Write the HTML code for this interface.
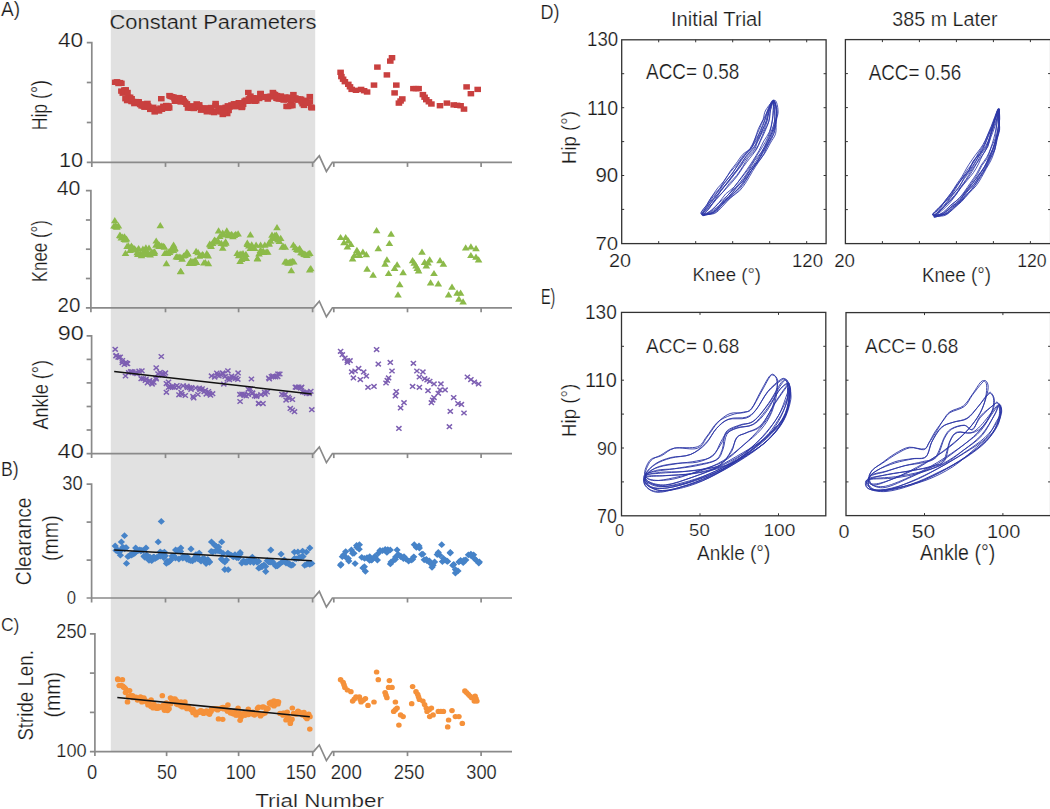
<!DOCTYPE html><html><head><meta charset="utf-8"><style>html,body{margin:0;padding:0;background:#fff;}svg{display:block;}</style></head><body>
<svg width="1050" height="809" viewBox="0 0 1050 809" style="font-family:'Liberation Sans', sans-serif">
<rect width="1050" height="809" fill="#fff"/>
<rect x="110.8" y="10" width="204.4" height="741.6" fill="#e1e1e1"/>
<path d="M86.8,42.6H91.8V166.9" fill="none" stroke="#8a8a8a" stroke-width="1.7"/>
<path d="M86.8,82.5H91.8" stroke="#8a8a8a" stroke-width="1.7"/>
<path d="M86.8,122.5H91.8" stroke="#8a8a8a" stroke-width="1.7"/>
<path d="M86.8,162.4H313.6L319.3,155.8L326.4,171.4L332.4,162.4H512" fill="none" stroke="#8a8a8a" stroke-width="1.7" stroke-linejoin="miter"/>
<path d="M165.5,162.4V166.9" stroke="#8a8a8a" stroke-width="1.7"/>
<path d="M238.6,162.4V166.9" stroke="#8a8a8a" stroke-width="1.7"/>
<path d="M312.6,162.4V166.9" stroke="#8a8a8a" stroke-width="1.7"/>
<path d="M333.8,162.4V166.9" stroke="#8a8a8a" stroke-width="1.7"/>
<path d="M407.5,162.4V166.9" stroke="#8a8a8a" stroke-width="1.7"/>
<path d="M481.1,162.4V166.9" stroke="#8a8a8a" stroke-width="1.7"/>
<path d="M85.9,190.7H90.9V312.3" fill="none" stroke="#8a8a8a" stroke-width="1.7"/>
<path d="M85.9,220.0H90.9" stroke="#8a8a8a" stroke-width="1.7"/>
<path d="M85.9,249.2H90.9" stroke="#8a8a8a" stroke-width="1.7"/>
<path d="M85.9,278.5H90.9" stroke="#8a8a8a" stroke-width="1.7"/>
<path d="M85.9,307.8H313.6L319.3,301.2L326.4,316.8L332.4,307.8H512" fill="none" stroke="#8a8a8a" stroke-width="1.7" stroke-linejoin="miter"/>
<path d="M165.5,307.8V312.3" stroke="#8a8a8a" stroke-width="1.7"/>
<path d="M238.6,307.8V312.3" stroke="#8a8a8a" stroke-width="1.7"/>
<path d="M312.6,307.8V312.3" stroke="#8a8a8a" stroke-width="1.7"/>
<path d="M333.8,307.8V312.3" stroke="#8a8a8a" stroke-width="1.7"/>
<path d="M407.5,307.8V312.3" stroke="#8a8a8a" stroke-width="1.7"/>
<path d="M481.1,307.8V312.3" stroke="#8a8a8a" stroke-width="1.7"/>
<path d="M86.6,335.8H91.6V458.1" fill="none" stroke="#8a8a8a" stroke-width="1.7"/>
<path d="M86.6,359.4H91.6" stroke="#8a8a8a" stroke-width="1.7"/>
<path d="M86.6,382.9H91.6" stroke="#8a8a8a" stroke-width="1.7"/>
<path d="M86.6,406.5H91.6" stroke="#8a8a8a" stroke-width="1.7"/>
<path d="M86.6,430.0H91.6" stroke="#8a8a8a" stroke-width="1.7"/>
<path d="M86.6,453.6H313.6L319.3,447.0L326.4,462.6L332.4,453.6H512" fill="none" stroke="#8a8a8a" stroke-width="1.7" stroke-linejoin="miter"/>
<path d="M165.5,453.6V458.1" stroke="#8a8a8a" stroke-width="1.7"/>
<path d="M238.6,453.6V458.1" stroke="#8a8a8a" stroke-width="1.7"/>
<path d="M312.6,453.6V458.1" stroke="#8a8a8a" stroke-width="1.7"/>
<path d="M333.8,453.6V458.1" stroke="#8a8a8a" stroke-width="1.7"/>
<path d="M407.5,453.6V458.1" stroke="#8a8a8a" stroke-width="1.7"/>
<path d="M481.1,453.6V458.1" stroke="#8a8a8a" stroke-width="1.7"/>
<path d="M86.6,484.2H91.6V602.5" fill="none" stroke="#8a8a8a" stroke-width="1.7"/>
<path d="M86.6,522.1H91.6" stroke="#8a8a8a" stroke-width="1.7"/>
<path d="M86.6,560.1H91.6" stroke="#8a8a8a" stroke-width="1.7"/>
<path d="M86.6,598.0H313.6L319.3,591.4L326.4,607.0L332.4,598.0H512" fill="none" stroke="#8a8a8a" stroke-width="1.7" stroke-linejoin="miter"/>
<path d="M165.5,598.0V602.5" stroke="#8a8a8a" stroke-width="1.7"/>
<path d="M238.6,598.0V602.5" stroke="#8a8a8a" stroke-width="1.7"/>
<path d="M312.6,598.0V602.5" stroke="#8a8a8a" stroke-width="1.7"/>
<path d="M333.8,598.0V602.5" stroke="#8a8a8a" stroke-width="1.7"/>
<path d="M407.5,598.0V602.5" stroke="#8a8a8a" stroke-width="1.7"/>
<path d="M481.1,598.0V602.5" stroke="#8a8a8a" stroke-width="1.7"/>
<path d="M89.9,633.9H94.9V756.1" fill="none" stroke="#8a8a8a" stroke-width="1.7"/>
<path d="M89.9,673.1H94.9" stroke="#8a8a8a" stroke-width="1.7"/>
<path d="M89.9,712.4H94.9" stroke="#8a8a8a" stroke-width="1.7"/>
<path d="M89.9,751.6H313.6L319.3,745.0L326.4,760.6L332.4,751.6H512" fill="none" stroke="#8a8a8a" stroke-width="1.7" stroke-linejoin="miter"/>
<path d="M166.6,751.6V756.1" stroke="#8a8a8a" stroke-width="1.7"/>
<path d="M238.6,751.6V756.1" stroke="#8a8a8a" stroke-width="1.7"/>
<path d="M312.7,751.6V756.1" stroke="#8a8a8a" stroke-width="1.7"/>
<path d="M333.7,751.6V756.1" stroke="#8a8a8a" stroke-width="1.7"/>
<path d="M407.5,751.6V756.1" stroke="#8a8a8a" stroke-width="1.7"/>
<path d="M481.1,751.6V756.1" stroke="#8a8a8a" stroke-width="1.7"/>
<rect x="113.7" y="79.1" width="6.6" height="5.4" fill="#c9403f"/>
<rect x="115.2" y="80.8" width="6.6" height="5.4" fill="#c9403f"/>
<rect x="116.6" y="79.9" width="6.6" height="5.4" fill="#c9403f"/>
<rect x="118.1" y="88.4" width="6.6" height="5.4" fill="#c9403f"/>
<rect x="119.5" y="90.5" width="6.6" height="5.4" fill="#c9403f"/>
<rect x="121.0" y="87.4" width="6.6" height="5.4" fill="#c9403f"/>
<rect x="122.4" y="87.1" width="6.6" height="5.4" fill="#c9403f"/>
<rect x="123.9" y="97.9" width="6.6" height="5.4" fill="#c9403f"/>
<rect x="125.3" y="94.7" width="6.6" height="5.4" fill="#c9403f"/>
<rect x="126.8" y="94.5" width="6.6" height="5.4" fill="#c9403f"/>
<rect x="128.2" y="98.8" width="6.6" height="5.4" fill="#c9403f"/>
<rect x="129.6" y="98.8" width="6.6" height="5.4" fill="#c9403f"/>
<rect x="131.1" y="100.9" width="6.6" height="5.4" fill="#c9403f"/>
<rect x="132.5" y="98.9" width="6.6" height="5.4" fill="#c9403f"/>
<rect x="134.0" y="99.8" width="6.6" height="5.4" fill="#c9403f"/>
<rect x="135.4" y="99.1" width="6.6" height="5.4" fill="#c9403f"/>
<rect x="136.9" y="101.9" width="6.6" height="5.4" fill="#c9403f"/>
<rect x="138.3" y="103.2" width="6.6" height="5.4" fill="#c9403f"/>
<rect x="139.8" y="103.2" width="6.6" height="5.4" fill="#c9403f"/>
<rect x="141.2" y="104.5" width="6.6" height="5.4" fill="#c9403f"/>
<rect x="142.7" y="104.1" width="6.6" height="5.4" fill="#c9403f"/>
<rect x="144.1" y="100.7" width="6.6" height="5.4" fill="#c9403f"/>
<rect x="145.6" y="104.5" width="6.6" height="5.4" fill="#c9403f"/>
<rect x="147.0" y="106.7" width="6.6" height="5.4" fill="#c9403f"/>
<rect x="148.5" y="105.1" width="6.6" height="5.4" fill="#c9403f"/>
<rect x="149.9" y="104.6" width="6.6" height="5.4" fill="#c9403f"/>
<rect x="151.4" y="109.2" width="6.6" height="5.4" fill="#c9403f"/>
<rect x="152.8" y="107.0" width="6.6" height="5.4" fill="#c9403f"/>
<rect x="154.3" y="107.4" width="6.6" height="5.4" fill="#c9403f"/>
<rect x="155.7" y="108.3" width="6.6" height="5.4" fill="#c9403f"/>
<rect x="157.2" y="105.4" width="6.6" height="5.4" fill="#c9403f"/>
<rect x="158.6" y="106.6" width="6.6" height="5.4" fill="#c9403f"/>
<rect x="160.1" y="103.6" width="6.6" height="5.4" fill="#c9403f"/>
<rect x="161.5" y="104.8" width="6.6" height="5.4" fill="#c9403f"/>
<rect x="163.0" y="102.8" width="6.6" height="5.4" fill="#c9403f"/>
<rect x="164.4" y="105.5" width="6.6" height="5.4" fill="#c9403f"/>
<rect x="165.9" y="105.2" width="6.6" height="5.4" fill="#c9403f"/>
<rect x="167.3" y="93.7" width="6.6" height="5.4" fill="#c9403f"/>
<rect x="168.8" y="94.0" width="6.6" height="5.4" fill="#c9403f"/>
<rect x="170.2" y="94.4" width="6.6" height="5.4" fill="#c9403f"/>
<rect x="171.7" y="98.6" width="6.6" height="5.4" fill="#c9403f"/>
<rect x="173.1" y="98.6" width="6.6" height="5.4" fill="#c9403f"/>
<rect x="174.6" y="96.7" width="6.6" height="5.4" fill="#c9403f"/>
<rect x="176.0" y="94.9" width="6.6" height="5.4" fill="#c9403f"/>
<rect x="177.5" y="99.0" width="6.6" height="5.4" fill="#c9403f"/>
<rect x="178.9" y="98.4" width="6.6" height="5.4" fill="#c9403f"/>
<rect x="180.4" y="98.2" width="6.6" height="5.4" fill="#c9403f"/>
<rect x="181.8" y="99.5" width="6.6" height="5.4" fill="#c9403f"/>
<rect x="183.3" y="101.6" width="6.6" height="5.4" fill="#c9403f"/>
<rect x="184.7" y="105.4" width="6.6" height="5.4" fill="#c9403f"/>
<rect x="186.2" y="104.1" width="6.6" height="5.4" fill="#c9403f"/>
<rect x="187.6" y="105.5" width="6.6" height="5.4" fill="#c9403f"/>
<rect x="189.1" y="105.1" width="6.6" height="5.4" fill="#c9403f"/>
<rect x="190.5" y="105.8" width="6.6" height="5.4" fill="#c9403f"/>
<rect x="192.0" y="104.1" width="6.6" height="5.4" fill="#c9403f"/>
<rect x="193.4" y="101.2" width="6.6" height="5.4" fill="#c9403f"/>
<rect x="194.9" y="104.1" width="6.6" height="5.4" fill="#c9403f"/>
<rect x="196.3" y="104.7" width="6.6" height="5.4" fill="#c9403f"/>
<rect x="197.8" y="107.5" width="6.6" height="5.4" fill="#c9403f"/>
<rect x="199.2" y="105.6" width="6.6" height="5.4" fill="#c9403f"/>
<rect x="200.7" y="106.4" width="6.6" height="5.4" fill="#c9403f"/>
<rect x="202.1" y="105.6" width="6.6" height="5.4" fill="#c9403f"/>
<rect x="203.6" y="109.1" width="6.6" height="5.4" fill="#c9403f"/>
<rect x="205.0" y="107.6" width="6.6" height="5.4" fill="#c9403f"/>
<rect x="206.5" y="106.0" width="6.6" height="5.4" fill="#c9403f"/>
<rect x="207.9" y="104.8" width="6.6" height="5.4" fill="#c9403f"/>
<rect x="209.4" y="109.2" width="6.6" height="5.4" fill="#c9403f"/>
<rect x="210.8" y="109.9" width="6.6" height="5.4" fill="#c9403f"/>
<rect x="212.3" y="100.8" width="6.6" height="5.4" fill="#c9403f"/>
<rect x="213.7" y="108.9" width="6.6" height="5.4" fill="#c9403f"/>
<rect x="215.2" y="106.7" width="6.6" height="5.4" fill="#c9403f"/>
<rect x="216.6" y="105.2" width="6.6" height="5.4" fill="#c9403f"/>
<rect x="218.1" y="109.1" width="6.6" height="5.4" fill="#c9403f"/>
<rect x="219.5" y="111.8" width="6.6" height="5.4" fill="#c9403f"/>
<rect x="221.0" y="109.3" width="6.6" height="5.4" fill="#c9403f"/>
<rect x="222.4" y="104.6" width="6.6" height="5.4" fill="#c9403f"/>
<rect x="223.9" y="110.9" width="6.6" height="5.4" fill="#c9403f"/>
<rect x="225.3" y="107.8" width="6.6" height="5.4" fill="#c9403f"/>
<rect x="226.8" y="104.3" width="6.6" height="5.4" fill="#c9403f"/>
<rect x="228.2" y="102.2" width="6.6" height="5.4" fill="#c9403f"/>
<rect x="229.7" y="103.2" width="6.6" height="5.4" fill="#c9403f"/>
<rect x="231.1" y="103.8" width="6.6" height="5.4" fill="#c9403f"/>
<rect x="232.6" y="101.1" width="6.6" height="5.4" fill="#c9403f"/>
<rect x="234.0" y="103.9" width="6.6" height="5.4" fill="#c9403f"/>
<rect x="235.5" y="100.0" width="6.6" height="5.4" fill="#c9403f"/>
<rect x="236.9" y="101.8" width="6.6" height="5.4" fill="#c9403f"/>
<rect x="238.4" y="104.8" width="6.6" height="5.4" fill="#c9403f"/>
<rect x="239.8" y="101.6" width="6.6" height="5.4" fill="#c9403f"/>
<rect x="241.3" y="98.4" width="6.6" height="5.4" fill="#c9403f"/>
<rect x="242.7" y="97.5" width="6.6" height="5.4" fill="#c9403f"/>
<rect x="244.2" y="98.6" width="6.6" height="5.4" fill="#c9403f"/>
<rect x="245.6" y="96.1" width="6.6" height="5.4" fill="#c9403f"/>
<rect x="247.1" y="93.4" width="6.6" height="5.4" fill="#c9403f"/>
<rect x="248.5" y="98.1" width="6.6" height="5.4" fill="#c9403f"/>
<rect x="250.0" y="95.0" width="6.6" height="5.4" fill="#c9403f"/>
<rect x="251.4" y="98.6" width="6.6" height="5.4" fill="#c9403f"/>
<rect x="252.9" y="98.2" width="6.6" height="5.4" fill="#c9403f"/>
<rect x="254.3" y="95.3" width="6.6" height="5.4" fill="#c9403f"/>
<rect x="255.8" y="95.8" width="6.6" height="5.4" fill="#c9403f"/>
<rect x="257.2" y="90.9" width="6.6" height="5.4" fill="#c9403f"/>
<rect x="258.7" y="94.7" width="6.6" height="5.4" fill="#c9403f"/>
<rect x="260.1" y="94.4" width="6.6" height="5.4" fill="#c9403f"/>
<rect x="261.6" y="94.2" width="6.6" height="5.4" fill="#c9403f"/>
<rect x="263.0" y="94.6" width="6.6" height="5.4" fill="#c9403f"/>
<rect x="264.5" y="96.4" width="6.6" height="5.4" fill="#c9403f"/>
<rect x="265.9" y="93.9" width="6.6" height="5.4" fill="#c9403f"/>
<rect x="267.4" y="93.5" width="6.6" height="5.4" fill="#c9403f"/>
<rect x="268.8" y="94.1" width="6.6" height="5.4" fill="#c9403f"/>
<rect x="270.3" y="91.4" width="6.6" height="5.4" fill="#c9403f"/>
<rect x="271.7" y="91.8" width="6.6" height="5.4" fill="#c9403f"/>
<rect x="273.2" y="95.6" width="6.6" height="5.4" fill="#c9403f"/>
<rect x="274.6" y="96.1" width="6.6" height="5.4" fill="#c9403f"/>
<rect x="276.1" y="96.3" width="6.6" height="5.4" fill="#c9403f"/>
<rect x="277.5" y="93.3" width="6.6" height="5.4" fill="#c9403f"/>
<rect x="279.0" y="96.5" width="6.6" height="5.4" fill="#c9403f"/>
<rect x="280.4" y="97.4" width="6.6" height="5.4" fill="#c9403f"/>
<rect x="281.9" y="94.3" width="6.6" height="5.4" fill="#c9403f"/>
<rect x="283.3" y="103.7" width="6.6" height="5.4" fill="#c9403f"/>
<rect x="284.8" y="103.8" width="6.6" height="5.4" fill="#c9403f"/>
<rect x="286.2" y="94.5" width="6.6" height="5.4" fill="#c9403f"/>
<rect x="287.7" y="97.7" width="6.6" height="5.4" fill="#c9403f"/>
<rect x="289.1" y="102.9" width="6.6" height="5.4" fill="#c9403f"/>
<rect x="290.6" y="97.0" width="6.6" height="5.4" fill="#c9403f"/>
<rect x="292.0" y="95.2" width="6.6" height="5.4" fill="#c9403f"/>
<rect x="293.5" y="97.2" width="6.6" height="5.4" fill="#c9403f"/>
<rect x="294.9" y="97.3" width="6.6" height="5.4" fill="#c9403f"/>
<rect x="296.4" y="96.3" width="6.6" height="5.4" fill="#c9403f"/>
<rect x="297.8" y="96.5" width="6.6" height="5.4" fill="#c9403f"/>
<rect x="299.3" y="101.1" width="6.6" height="5.4" fill="#c9403f"/>
<rect x="300.7" y="102.7" width="6.6" height="5.4" fill="#c9403f"/>
<rect x="302.2" y="97.6" width="6.6" height="5.4" fill="#c9403f"/>
<rect x="303.6" y="99.9" width="6.6" height="5.4" fill="#c9403f"/>
<rect x="305.1" y="100.6" width="6.6" height="5.4" fill="#c9403f"/>
<rect x="306.5" y="99.1" width="6.6" height="5.4" fill="#c9403f"/>
<rect x="308.0" y="104.4" width="6.6" height="5.4" fill="#c9403f"/>
<rect x="111.9" y="79.6" width="6.6" height="5.4" fill="#c9403f"/>
<rect x="118.1" y="80.6" width="6.6" height="5.4" fill="#c9403f"/>
<rect x="121.2" y="87.8" width="6.6" height="5.4" fill="#c9403f"/>
<rect x="122.2" y="96.0" width="6.6" height="5.4" fill="#c9403f"/>
<rect x="124.2" y="89.8" width="6.6" height="5.4" fill="#c9403f"/>
<rect x="128.3" y="96.0" width="6.6" height="5.4" fill="#c9403f"/>
<rect x="134.5" y="99.0" width="6.6" height="5.4" fill="#c9403f"/>
<rect x="139.6" y="101.1" width="6.6" height="5.4" fill="#c9403f"/>
<rect x="144.7" y="103.1" width="6.6" height="5.4" fill="#c9403f"/>
<rect x="150.8" y="106.2" width="6.6" height="5.4" fill="#c9403f"/>
<rect x="154.9" y="107.2" width="6.6" height="5.4" fill="#c9403f"/>
<rect x="158.0" y="96.0" width="6.6" height="5.4" fill="#c9403f"/>
<rect x="161.1" y="104.2" width="6.6" height="5.4" fill="#c9403f"/>
<rect x="165.2" y="103.1" width="6.6" height="5.4" fill="#c9403f"/>
<rect x="166.2" y="92.9" width="6.6" height="5.4" fill="#c9403f"/>
<rect x="171.3" y="96.0" width="6.6" height="5.4" fill="#c9403f"/>
<rect x="177.5" y="99.0" width="6.6" height="5.4" fill="#c9403f"/>
<rect x="179.5" y="96.0" width="6.6" height="5.4" fill="#c9403f"/>
<rect x="183.6" y="101.1" width="6.6" height="5.4" fill="#c9403f"/>
<rect x="189.7" y="103.1" width="6.6" height="5.4" fill="#c9403f"/>
<rect x="195.9" y="102.1" width="6.6" height="5.4" fill="#c9403f"/>
<rect x="202.0" y="105.2" width="6.6" height="5.4" fill="#c9403f"/>
<rect x="206.1" y="107.2" width="6.6" height="5.4" fill="#c9403f"/>
<rect x="212.3" y="103.1" width="6.6" height="5.4" fill="#c9403f"/>
<rect x="218.4" y="107.2" width="6.6" height="5.4" fill="#c9403f"/>
<rect x="220.5" y="110.3" width="6.6" height="5.4" fill="#c9403f"/>
<rect x="224.6" y="103.1" width="6.6" height="5.4" fill="#c9403f"/>
<rect x="230.7" y="101.1" width="6.6" height="5.4" fill="#c9403f"/>
<rect x="236.8" y="100.1" width="6.6" height="5.4" fill="#c9403f"/>
<rect x="238.9" y="104.2" width="6.6" height="5.4" fill="#c9403f"/>
<rect x="245.0" y="89.8" width="6.6" height="5.4" fill="#c9403f"/>
<rect x="245.0" y="98.0" width="6.6" height="5.4" fill="#c9403f"/>
<rect x="251.2" y="96.0" width="6.6" height="5.4" fill="#c9403f"/>
<rect x="257.3" y="90.8" width="6.6" height="5.4" fill="#c9403f"/>
<rect x="263.5" y="93.9" width="6.6" height="5.4" fill="#c9403f"/>
<rect x="269.6" y="89.8" width="6.6" height="5.4" fill="#c9403f"/>
<rect x="273.7" y="92.9" width="6.6" height="5.4" fill="#c9403f"/>
<rect x="277.8" y="96.0" width="6.6" height="5.4" fill="#c9403f"/>
<rect x="283.9" y="97.0" width="6.6" height="5.4" fill="#c9403f"/>
<rect x="287.0" y="103.1" width="6.6" height="5.4" fill="#c9403f"/>
<rect x="290.1" y="91.9" width="6.6" height="5.4" fill="#c9403f"/>
<rect x="294.2" y="96.0" width="6.6" height="5.4" fill="#c9403f"/>
<rect x="298.3" y="99.0" width="6.6" height="5.4" fill="#c9403f"/>
<rect x="302.4" y="100.1" width="6.6" height="5.4" fill="#c9403f"/>
<rect x="306.5" y="93.9" width="6.6" height="5.4" fill="#c9403f"/>
<rect x="308.5" y="105.2" width="6.6" height="5.4" fill="#c9403f"/>
<rect x="337.3" y="69.6" width="6.6" height="5.4" fill="#c9403f"/>
<rect x="338.1" y="73.9" width="6.6" height="5.4" fill="#c9403f"/>
<rect x="341.6" y="79.0" width="6.6" height="5.4" fill="#c9403f"/>
<rect x="345.0" y="81.6" width="6.6" height="5.4" fill="#c9403f"/>
<rect x="348.4" y="86.7" width="6.6" height="5.4" fill="#c9403f"/>
<rect x="352.7" y="87.6" width="6.6" height="5.4" fill="#c9403f"/>
<rect x="357.8" y="86.7" width="6.6" height="5.4" fill="#c9403f"/>
<rect x="363.8" y="89.3" width="6.6" height="5.4" fill="#c9403f"/>
<rect x="370.7" y="82.4" width="6.6" height="5.4" fill="#c9403f"/>
<rect x="374.1" y="64.4" width="6.6" height="5.4" fill="#c9403f"/>
<rect x="383.6" y="72.2" width="6.6" height="5.4" fill="#c9403f"/>
<rect x="387.0" y="58.4" width="6.6" height="5.4" fill="#c9403f"/>
<rect x="388.7" y="55.0" width="6.6" height="5.4" fill="#c9403f"/>
<rect x="391.3" y="90.2" width="6.6" height="5.4" fill="#c9403f"/>
<rect x="393.0" y="82.4" width="6.6" height="5.4" fill="#c9403f"/>
<rect x="395.6" y="100.4" width="6.6" height="5.4" fill="#c9403f"/>
<rect x="399.0" y="96.2" width="6.6" height="5.4" fill="#c9403f"/>
<rect x="410.1" y="85.9" width="6.6" height="5.4" fill="#c9403f"/>
<rect x="415.3" y="85.9" width="6.6" height="5.4" fill="#c9403f"/>
<rect x="419.6" y="91.9" width="6.6" height="5.4" fill="#c9403f"/>
<rect x="423.0" y="97.0" width="6.6" height="5.4" fill="#c9403f"/>
<rect x="428.1" y="101.3" width="6.6" height="5.4" fill="#c9403f"/>
<rect x="436.7" y="103.0" width="6.6" height="5.4" fill="#c9403f"/>
<rect x="443.6" y="100.4" width="6.6" height="5.4" fill="#c9403f"/>
<rect x="450.4" y="102.2" width="6.6" height="5.4" fill="#c9403f"/>
<rect x="457.3" y="103.0" width="6.6" height="5.4" fill="#c9403f"/>
<rect x="460.7" y="106.4" width="6.6" height="5.4" fill="#c9403f"/>
<rect x="463.3" y="84.2" width="6.6" height="5.4" fill="#c9403f"/>
<rect x="467.6" y="91.0" width="6.6" height="5.4" fill="#c9403f"/>
<rect x="474.4" y="86.7" width="6.6" height="5.4" fill="#c9403f"/>
<rect x="339.8" y="76.5" width="6.6" height="5.4" fill="#c9403f"/>
<rect x="346.7" y="84.1" width="6.6" height="5.4" fill="#c9403f"/>
<rect x="360.8" y="88.0" width="6.6" height="5.4" fill="#c9403f"/>
<rect x="397.3" y="98.3" width="6.6" height="5.4" fill="#c9403f"/>
<rect x="412.7" y="85.9" width="6.6" height="5.4" fill="#c9403f"/>
<rect x="421.3" y="94.5" width="6.6" height="5.4" fill="#c9403f"/>
<rect x="425.6" y="99.1" width="6.6" height="5.4" fill="#c9403f"/>
<rect x="453.8" y="102.6" width="6.6" height="5.4" fill="#c9403f"/>
<path d="M114.0,222.4L117.8,228.6H110.2Z" fill="#8cba4a"/>
<path d="M115.5,222.6L119.2,228.8H111.7Z" fill="#8cba4a"/>
<path d="M116.9,223.5L120.7,229.7H113.1Z" fill="#8cba4a"/>
<path d="M118.4,222.3L122.2,228.5H114.6Z" fill="#8cba4a"/>
<path d="M119.8,231.8L123.6,238.0H116.0Z" fill="#8cba4a"/>
<path d="M121.3,234.4L125.1,240.6H117.5Z" fill="#8cba4a"/>
<path d="M122.7,233.5L126.5,239.7H118.9Z" fill="#8cba4a"/>
<path d="M124.2,235.7L128.0,241.9H120.4Z" fill="#8cba4a"/>
<path d="M125.6,236.3L129.4,242.5H121.8Z" fill="#8cba4a"/>
<path d="M127.1,242.8L130.9,249.0H123.3Z" fill="#8cba4a"/>
<path d="M128.5,242.5L132.3,248.7H124.7Z" fill="#8cba4a"/>
<path d="M130.0,246.8L133.8,253.0H126.2Z" fill="#8cba4a"/>
<path d="M131.4,242.6L135.2,248.8H127.6Z" fill="#8cba4a"/>
<path d="M132.8,244.3L136.7,250.5H129.0Z" fill="#8cba4a"/>
<path d="M134.3,245.3L138.1,251.5H130.5Z" fill="#8cba4a"/>
<path d="M135.7,246.4L139.5,252.6H131.9Z" fill="#8cba4a"/>
<path d="M137.2,249.1L141.0,255.3H133.4Z" fill="#8cba4a"/>
<path d="M138.6,244.9L142.4,251.1H134.8Z" fill="#8cba4a"/>
<path d="M140.1,250.0L143.9,256.2H136.3Z" fill="#8cba4a"/>
<path d="M141.5,252.0L145.3,258.2H137.7Z" fill="#8cba4a"/>
<path d="M143.0,250.5L146.8,256.7H139.2Z" fill="#8cba4a"/>
<path d="M144.4,247.0L148.2,253.2H140.6Z" fill="#8cba4a"/>
<path d="M145.9,244.3L149.7,250.5H142.1Z" fill="#8cba4a"/>
<path d="M147.3,249.0L151.1,255.2H143.5Z" fill="#8cba4a"/>
<path d="M148.8,250.3L152.6,256.5H145.0Z" fill="#8cba4a"/>
<path d="M150.2,251.2L154.0,257.4H146.4Z" fill="#8cba4a"/>
<path d="M151.7,249.5L155.5,255.7H147.9Z" fill="#8cba4a"/>
<path d="M153.1,248.6L156.9,254.8H149.3Z" fill="#8cba4a"/>
<path d="M154.6,248.2L158.4,254.4H150.8Z" fill="#8cba4a"/>
<path d="M156.0,241.6L159.8,247.8H152.2Z" fill="#8cba4a"/>
<path d="M157.5,240.3L161.3,246.5H153.7Z" fill="#8cba4a"/>
<path d="M158.9,242.7L162.7,248.9H155.1Z" fill="#8cba4a"/>
<path d="M160.4,242.9L164.2,249.1H156.6Z" fill="#8cba4a"/>
<path d="M161.8,242.3L165.6,248.5H158.0Z" fill="#8cba4a"/>
<path d="M163.3,242.7L167.1,248.9H159.5Z" fill="#8cba4a"/>
<path d="M164.7,249.9L168.5,256.1H160.9Z" fill="#8cba4a"/>
<path d="M166.2,249.3L170.0,255.5H162.4Z" fill="#8cba4a"/>
<path d="M167.6,249.9L171.4,256.1H163.8Z" fill="#8cba4a"/>
<path d="M169.1,248.1L172.9,254.3H165.3Z" fill="#8cba4a"/>
<path d="M170.5,247.2L174.3,253.4H166.7Z" fill="#8cba4a"/>
<path d="M172.0,244.8L175.8,251.0H168.2Z" fill="#8cba4a"/>
<path d="M173.4,246.8L177.2,253.0H169.6Z" fill="#8cba4a"/>
<path d="M174.9,244.7L178.7,250.9H171.1Z" fill="#8cba4a"/>
<path d="M176.3,253.2L180.1,259.4H172.5Z" fill="#8cba4a"/>
<path d="M177.8,253.5L181.6,259.7H174.0Z" fill="#8cba4a"/>
<path d="M179.2,253.5L183.0,259.7H175.4Z" fill="#8cba4a"/>
<path d="M180.7,267.7L184.5,273.9H176.9Z" fill="#8cba4a"/>
<path d="M182.1,255.5L185.9,261.7H178.3Z" fill="#8cba4a"/>
<path d="M183.6,252.4L187.4,258.6H179.8Z" fill="#8cba4a"/>
<path d="M185.0,251.8L188.8,258.0H181.2Z" fill="#8cba4a"/>
<path d="M186.5,250.5L190.3,256.7H182.7Z" fill="#8cba4a"/>
<path d="M187.9,250.2L191.7,256.4H184.1Z" fill="#8cba4a"/>
<path d="M189.4,259.8L193.2,266.0H185.6Z" fill="#8cba4a"/>
<path d="M190.8,257.6L194.6,263.8H187.0Z" fill="#8cba4a"/>
<path d="M192.3,259.7L196.1,265.9H188.5Z" fill="#8cba4a"/>
<path d="M193.7,259.6L197.5,265.8H189.9Z" fill="#8cba4a"/>
<path d="M195.2,256.8L199.0,263.0H191.4Z" fill="#8cba4a"/>
<path d="M196.6,258.9L200.4,265.1H192.8Z" fill="#8cba4a"/>
<path d="M198.1,249.0L201.9,255.2H194.3Z" fill="#8cba4a"/>
<path d="M199.5,252.5L203.3,258.7H195.7Z" fill="#8cba4a"/>
<path d="M201.0,251.9L204.8,258.1H197.2Z" fill="#8cba4a"/>
<path d="M202.4,251.0L206.2,257.2H198.6Z" fill="#8cba4a"/>
<path d="M203.9,259.4L207.7,265.6H200.1Z" fill="#8cba4a"/>
<path d="M205.3,258.9L209.1,265.1H201.5Z" fill="#8cba4a"/>
<path d="M206.8,250.1L210.6,256.3H203.0Z" fill="#8cba4a"/>
<path d="M208.2,252.2L212.0,258.4H204.4Z" fill="#8cba4a"/>
<path d="M209.7,240.6L213.5,246.8H205.9Z" fill="#8cba4a"/>
<path d="M211.1,242.7L214.9,248.9H207.3Z" fill="#8cba4a"/>
<path d="M212.6,239.7L216.4,245.9H208.8Z" fill="#8cba4a"/>
<path d="M214.0,238.0L217.8,244.2H210.2Z" fill="#8cba4a"/>
<path d="M215.5,237.2L219.3,243.4H211.7Z" fill="#8cba4a"/>
<path d="M216.9,238.1L220.7,244.3H213.1Z" fill="#8cba4a"/>
<path d="M218.4,238.0L222.2,244.2H214.6Z" fill="#8cba4a"/>
<path d="M219.8,232.9L223.6,239.1H216.0Z" fill="#8cba4a"/>
<path d="M221.3,239.8L225.1,246.0H217.5Z" fill="#8cba4a"/>
<path d="M222.7,229.4L226.5,235.6H218.9Z" fill="#8cba4a"/>
<path d="M224.2,240.5L228.0,246.7H220.4Z" fill="#8cba4a"/>
<path d="M225.6,238.2L229.4,244.4H221.8Z" fill="#8cba4a"/>
<path d="M227.1,230.5L230.9,236.7H223.3Z" fill="#8cba4a"/>
<path d="M228.5,232.0L232.3,238.2H224.7Z" fill="#8cba4a"/>
<path d="M230.0,231.4L233.8,237.6H226.2Z" fill="#8cba4a"/>
<path d="M231.4,231.0L235.2,237.2H227.6Z" fill="#8cba4a"/>
<path d="M232.9,233.1L236.7,239.3H229.1Z" fill="#8cba4a"/>
<path d="M234.3,231.7L238.1,237.9H230.5Z" fill="#8cba4a"/>
<path d="M235.8,230.7L239.6,236.9H232.0Z" fill="#8cba4a"/>
<path d="M237.2,249.7L241.0,255.9H233.4Z" fill="#8cba4a"/>
<path d="M238.7,252.1L242.5,258.3H234.9Z" fill="#8cba4a"/>
<path d="M240.1,250.6L243.9,256.8H236.3Z" fill="#8cba4a"/>
<path d="M241.6,255.9L245.4,262.1H237.8Z" fill="#8cba4a"/>
<path d="M243.0,250.1L246.8,256.3H239.2Z" fill="#8cba4a"/>
<path d="M244.5,253.6L248.3,259.8H240.7Z" fill="#8cba4a"/>
<path d="M245.9,250.8L249.7,257.0H242.1Z" fill="#8cba4a"/>
<path d="M247.4,240.8L251.2,247.0H243.6Z" fill="#8cba4a"/>
<path d="M248.8,242.3L252.6,248.5H245.0Z" fill="#8cba4a"/>
<path d="M250.3,244.8L254.1,251.0H246.5Z" fill="#8cba4a"/>
<path d="M251.7,241.2L255.5,247.4H247.9Z" fill="#8cba4a"/>
<path d="M253.2,244.8L257.0,251.0H249.4Z" fill="#8cba4a"/>
<path d="M254.6,244.9L258.4,251.1H250.8Z" fill="#8cba4a"/>
<path d="M256.1,241.6L259.9,247.8H252.3Z" fill="#8cba4a"/>
<path d="M257.5,255.3L261.3,261.5H253.7Z" fill="#8cba4a"/>
<path d="M259.0,250.2L262.8,256.4H255.2Z" fill="#8cba4a"/>
<path d="M260.4,246.9L264.2,253.1H256.6Z" fill="#8cba4a"/>
<path d="M261.9,247.8L265.7,254.0H258.1Z" fill="#8cba4a"/>
<path d="M263.3,247.8L267.1,254.0H259.5Z" fill="#8cba4a"/>
<path d="M264.8,241.6L268.6,247.8H261.0Z" fill="#8cba4a"/>
<path d="M266.2,248.4L270.0,254.6H262.4Z" fill="#8cba4a"/>
<path d="M267.7,248.6L271.5,254.8H263.9Z" fill="#8cba4a"/>
<path d="M269.1,240.6L272.9,246.8H265.3Z" fill="#8cba4a"/>
<path d="M270.6,237.5L274.4,243.7H266.8Z" fill="#8cba4a"/>
<path d="M272.0,231.5L275.8,237.7H268.2Z" fill="#8cba4a"/>
<path d="M273.5,234.9L277.3,241.1H269.7Z" fill="#8cba4a"/>
<path d="M274.9,231.8L278.7,238.0H271.1Z" fill="#8cba4a"/>
<path d="M276.4,231.6L280.2,237.8H272.6Z" fill="#8cba4a"/>
<path d="M277.8,235.2L281.6,241.4H274.0Z" fill="#8cba4a"/>
<path d="M279.3,237.8L283.1,244.0H275.5Z" fill="#8cba4a"/>
<path d="M280.7,234.7L284.5,240.9H276.9Z" fill="#8cba4a"/>
<path d="M282.2,243.6L286.0,249.8H278.4Z" fill="#8cba4a"/>
<path d="M283.6,242.9L287.4,249.1H279.8Z" fill="#8cba4a"/>
<path d="M285.1,258.2L288.9,264.4H281.3Z" fill="#8cba4a"/>
<path d="M286.5,258.3L290.3,264.5H282.7Z" fill="#8cba4a"/>
<path d="M288.0,259.5L291.8,265.7H284.2Z" fill="#8cba4a"/>
<path d="M289.4,259.2L293.2,265.4H285.6Z" fill="#8cba4a"/>
<path d="M290.9,258.3L294.7,264.5H287.1Z" fill="#8cba4a"/>
<path d="M292.3,257.7L296.1,263.9H288.5Z" fill="#8cba4a"/>
<path d="M293.8,258.2L297.6,264.4H290.0Z" fill="#8cba4a"/>
<path d="M295.2,244.1L299.0,250.3H291.4Z" fill="#8cba4a"/>
<path d="M296.7,245.8L300.5,252.0H292.9Z" fill="#8cba4a"/>
<path d="M298.1,246.5L301.9,252.7H294.3Z" fill="#8cba4a"/>
<path d="M299.6,245.1L303.4,251.3H295.8Z" fill="#8cba4a"/>
<path d="M301.0,249.0L304.8,255.2H297.2Z" fill="#8cba4a"/>
<path d="M302.5,249.4L306.3,255.6H298.7Z" fill="#8cba4a"/>
<path d="M303.9,250.2L307.7,256.4H300.1Z" fill="#8cba4a"/>
<path d="M305.4,251.1L309.2,257.3H301.6Z" fill="#8cba4a"/>
<path d="M306.8,251.8L310.6,258.0H303.0Z" fill="#8cba4a"/>
<path d="M308.3,250.2L312.1,256.4H304.5Z" fill="#8cba4a"/>
<path d="M309.7,266.3L313.5,272.5H305.9Z" fill="#8cba4a"/>
<path d="M114.8,217.0L118.6,223.2H111.0Z" fill="#8cba4a"/>
<path d="M116.3,223.1L120.1,229.3H112.5Z" fill="#8cba4a"/>
<path d="M120.4,232.3L124.2,238.5H116.6Z" fill="#8cba4a"/>
<path d="M124.5,233.3L128.3,239.5H120.7Z" fill="#8cba4a"/>
<path d="M125.5,249.7L129.3,255.9H121.7Z" fill="#8cba4a"/>
<path d="M126.5,235.4L130.3,241.6H122.7Z" fill="#8cba4a"/>
<path d="M131.6,243.6L135.4,249.8H127.8Z" fill="#8cba4a"/>
<path d="M134.7,245.6L138.5,251.8H130.9Z" fill="#8cba4a"/>
<path d="M137.8,250.7L141.6,256.9H134.0Z" fill="#8cba4a"/>
<path d="M142.9,245.6L146.7,251.8H139.1Z" fill="#8cba4a"/>
<path d="M144.9,250.7L148.7,256.9H141.1Z" fill="#8cba4a"/>
<path d="M149.0,244.6L152.8,250.8H145.2Z" fill="#8cba4a"/>
<path d="M151.1,249.7L154.9,255.9H147.3Z" fill="#8cba4a"/>
<path d="M154.1,249.7L157.9,255.9H150.3Z" fill="#8cba4a"/>
<path d="M156.2,237.4L160.0,243.6H152.4Z" fill="#8cba4a"/>
<path d="M159.3,241.5L163.1,247.7H155.5Z" fill="#8cba4a"/>
<path d="M160.3,222.1L164.1,228.3H156.5Z" fill="#8cba4a"/>
<path d="M164.4,243.6L168.2,249.8H160.6Z" fill="#8cba4a"/>
<path d="M166.4,260.0L170.2,266.2H162.6Z" fill="#8cba4a"/>
<path d="M169.5,248.7L173.3,254.9H165.7Z" fill="#8cba4a"/>
<path d="M173.6,241.5L177.4,247.7H169.8Z" fill="#8cba4a"/>
<path d="M174.6,245.6L178.4,251.8H170.8Z" fill="#8cba4a"/>
<path d="M180.8,253.8L184.6,260.0H177.0Z" fill="#8cba4a"/>
<path d="M180.8,268.1L184.6,274.3H177.0Z" fill="#8cba4a"/>
<path d="M186.9,248.7L190.7,254.9H183.1Z" fill="#8cba4a"/>
<path d="M193.0,257.9L196.8,264.1H189.2Z" fill="#8cba4a"/>
<path d="M196.1,247.7L199.9,253.9H192.3Z" fill="#8cba4a"/>
<path d="M203.3,251.8L207.1,258.0H199.5Z" fill="#8cba4a"/>
<path d="M208.4,260.0L212.2,266.2H204.6Z" fill="#8cba4a"/>
<path d="M210.4,241.5L214.2,247.7H206.6Z" fill="#8cba4a"/>
<path d="M214.5,236.4L218.3,242.6H210.7Z" fill="#8cba4a"/>
<path d="M218.6,227.2L222.4,233.4H214.8Z" fill="#8cba4a"/>
<path d="M222.7,231.3L226.5,237.5H218.9Z" fill="#8cba4a"/>
<path d="M222.7,244.6L226.5,250.8H218.9Z" fill="#8cba4a"/>
<path d="M225.8,239.5L229.6,245.7H222.0Z" fill="#8cba4a"/>
<path d="M226.8,227.2L230.6,233.4H223.0Z" fill="#8cba4a"/>
<path d="M231.9,231.3L235.7,237.5H228.1Z" fill="#8cba4a"/>
<path d="M238.1,230.3L241.9,236.5H234.3Z" fill="#8cba4a"/>
<path d="M240.1,257.9L243.9,264.1H236.3Z" fill="#8cba4a"/>
<path d="M241.2,250.7L245.0,256.9H237.4Z" fill="#8cba4a"/>
<path d="M246.3,254.8L250.1,261.0H242.5Z" fill="#8cba4a"/>
<path d="M247.3,239.5L251.1,245.7H243.5Z" fill="#8cba4a"/>
<path d="M250.4,231.3L254.2,237.5H246.6Z" fill="#8cba4a"/>
<path d="M252.4,243.6L256.2,249.8H248.6Z" fill="#8cba4a"/>
<path d="M257.5,254.8L261.3,261.0H253.7Z" fill="#8cba4a"/>
<path d="M260.6,241.5L264.4,247.7H256.8Z" fill="#8cba4a"/>
<path d="M263.7,248.7L267.5,254.9H259.9Z" fill="#8cba4a"/>
<path d="M268.8,239.5L272.6,245.7H265.0Z" fill="#8cba4a"/>
<path d="M272.9,233.3L276.7,239.5H269.1Z" fill="#8cba4a"/>
<path d="M277.0,224.1L280.8,230.3H273.2Z" fill="#8cba4a"/>
<path d="M278.0,236.4L281.8,242.6H274.2Z" fill="#8cba4a"/>
<path d="M285.2,243.6L289.0,249.8H281.4Z" fill="#8cba4a"/>
<path d="M289.3,258.9L293.1,265.1H285.5Z" fill="#8cba4a"/>
<path d="M291.3,267.1L295.1,273.3H287.5Z" fill="#8cba4a"/>
<path d="M293.4,241.5L297.2,247.7H289.6Z" fill="#8cba4a"/>
<path d="M299.5,245.6L303.3,251.8H295.7Z" fill="#8cba4a"/>
<path d="M304.6,250.7L308.4,256.9H300.8Z" fill="#8cba4a"/>
<path d="M309.8,249.7L313.6,255.9H306.0Z" fill="#8cba4a"/>
<path d="M310.8,265.1L314.6,271.3H307.0Z" fill="#8cba4a"/>
<path d="M340.6,233.9L344.4,240.1H336.8Z" fill="#8cba4a"/>
<path d="M344.0,239.0L347.8,245.2H340.2Z" fill="#8cba4a"/>
<path d="M345.7,233.9L349.5,240.1H341.9Z" fill="#8cba4a"/>
<path d="M347.4,243.3L351.2,249.5H343.6Z" fill="#8cba4a"/>
<path d="M348.3,237.3L352.1,243.5H344.5Z" fill="#8cba4a"/>
<path d="M350.9,240.7L354.7,246.9H347.1Z" fill="#8cba4a"/>
<path d="M352.6,255.3L356.4,261.5H348.8Z" fill="#8cba4a"/>
<path d="M354.3,251.9L358.1,258.1H350.5Z" fill="#8cba4a"/>
<path d="M356.9,246.7L360.7,252.9H353.1Z" fill="#8cba4a"/>
<path d="M359.4,251.9L363.2,258.1H355.6Z" fill="#8cba4a"/>
<path d="M362.9,248.5L366.7,254.7H359.1Z" fill="#8cba4a"/>
<path d="M366.3,251.0L370.1,257.2H362.5Z" fill="#8cba4a"/>
<path d="M367.1,265.6L370.9,271.8H363.3Z" fill="#8cba4a"/>
<path d="M373.1,271.6L376.9,277.8H369.3Z" fill="#8cba4a"/>
<path d="M376.6,227.0L380.4,233.2H372.8Z" fill="#8cba4a"/>
<path d="M378.3,245.0L382.1,251.2H374.5Z" fill="#8cba4a"/>
<path d="M385.1,260.5L388.9,266.7H381.3Z" fill="#8cba4a"/>
<path d="M386.9,256.2L390.7,262.4H383.1Z" fill="#8cba4a"/>
<path d="M388.6,269.9L392.4,276.1H384.8Z" fill="#8cba4a"/>
<path d="M389.4,239.9L393.2,246.1H385.6Z" fill="#8cba4a"/>
<path d="M391.1,230.5L394.9,236.7H387.3Z" fill="#8cba4a"/>
<path d="M394.6,264.7L398.4,270.9H390.8Z" fill="#8cba4a"/>
<path d="M397.1,261.3L400.9,267.5H393.3Z" fill="#8cba4a"/>
<path d="M398.0,291.3L401.8,297.5H394.2Z" fill="#8cba4a"/>
<path d="M399.7,281.0L403.5,287.2H395.9Z" fill="#8cba4a"/>
<path d="M403.1,269.0L406.9,275.2H399.3Z" fill="#8cba4a"/>
<path d="M412.6,257.0L416.4,263.2H408.8Z" fill="#8cba4a"/>
<path d="M416.0,262.2L419.8,268.4H412.2Z" fill="#8cba4a"/>
<path d="M418.6,267.3L422.4,273.5H414.8Z" fill="#8cba4a"/>
<path d="M422.0,248.5L425.8,254.7H418.2Z" fill="#8cba4a"/>
<path d="M424.6,258.7L428.4,264.9H420.8Z" fill="#8cba4a"/>
<path d="M426.3,262.2L430.1,268.4H422.5Z" fill="#8cba4a"/>
<path d="M429.7,256.2L433.5,262.4H425.9Z" fill="#8cba4a"/>
<path d="M430.6,279.3L434.4,285.5H426.8Z" fill="#8cba4a"/>
<path d="M434.0,269.9L437.8,276.1H430.2Z" fill="#8cba4a"/>
<path d="M438.3,280.2L442.1,286.4H434.5Z" fill="#8cba4a"/>
<path d="M440.0,257.0L443.8,263.2H436.2Z" fill="#8cba4a"/>
<path d="M443.4,260.5L447.2,266.7H439.6Z" fill="#8cba4a"/>
<path d="M448.6,291.3L452.4,297.5H444.8Z" fill="#8cba4a"/>
<path d="M452.0,283.6L455.8,289.8H448.2Z" fill="#8cba4a"/>
<path d="M457.1,289.6L460.9,295.8H453.3Z" fill="#8cba4a"/>
<path d="M458.9,295.6L462.7,301.8H455.1Z" fill="#8cba4a"/>
<path d="M460.6,289.6L464.4,295.8H456.8Z" fill="#8cba4a"/>
<path d="M463.1,298.2L466.9,304.4H459.3Z" fill="#8cba4a"/>
<path d="M465.7,244.2L469.5,250.4H461.9Z" fill="#8cba4a"/>
<path d="M470.9,243.3L474.7,249.5H467.1Z" fill="#8cba4a"/>
<path d="M470.9,251.9L474.7,258.1H467.1Z" fill="#8cba4a"/>
<path d="M476.0,245.0L479.8,251.2H472.2Z" fill="#8cba4a"/>
<path d="M476.0,253.6L479.8,259.8H472.2Z" fill="#8cba4a"/>
<path d="M478.6,256.2L482.4,262.4H474.8Z" fill="#8cba4a"/>
<path d="M358.1,249.3L361.9,255.5H354.3Z" fill="#8cba4a"/>
<path d="M414.3,259.6L418.1,265.8H410.5Z" fill="#8cba4a"/>
<path d="M417.3,264.8L421.1,270.9H413.5Z" fill="#8cba4a"/>
<path d="M428.0,259.2L431.8,265.4H424.2Z" fill="#8cba4a"/>
<path d="M113.4,353.7L118.6,358.3M118.6,353.7L113.4,358.3" stroke="#7d5fb2" stroke-width="1.5"/>
<path d="M115.5,354.9L120.7,359.5M120.7,354.9L115.5,359.5" stroke="#7d5fb2" stroke-width="1.5"/>
<path d="M117.6,354.7L122.8,359.3M122.8,354.7L117.6,359.3" stroke="#7d5fb2" stroke-width="1.5"/>
<path d="M119.7,360.3L124.9,364.9M124.9,360.3L119.7,364.9" stroke="#7d5fb2" stroke-width="1.5"/>
<path d="M121.8,362.2L127.0,366.8M127.0,362.2L121.8,366.8" stroke="#7d5fb2" stroke-width="1.5"/>
<path d="M123.9,361.1L129.1,365.7M129.1,361.1L123.9,365.7" stroke="#7d5fb2" stroke-width="1.5"/>
<path d="M126.0,370.4L131.2,375.0M131.2,370.4L126.0,375.0" stroke="#7d5fb2" stroke-width="1.5"/>
<path d="M128.1,369.4L133.3,374.0M133.3,369.4L128.1,374.0" stroke="#7d5fb2" stroke-width="1.5"/>
<path d="M130.2,369.6L135.4,374.2M135.4,369.6L130.2,374.2" stroke="#7d5fb2" stroke-width="1.5"/>
<path d="M132.3,370.7L137.5,375.3M137.5,370.7L132.3,375.3" stroke="#7d5fb2" stroke-width="1.5"/>
<path d="M134.4,371.4L139.6,376.0M139.6,371.4L134.4,376.0" stroke="#7d5fb2" stroke-width="1.5"/>
<path d="M136.5,368.9L141.7,373.5M141.7,368.9L136.5,373.5" stroke="#7d5fb2" stroke-width="1.5"/>
<path d="M138.6,376.4L143.8,381.0M143.8,376.4L138.6,381.0" stroke="#7d5fb2" stroke-width="1.5"/>
<path d="M140.7,376.4L145.9,381.0M145.9,376.4L140.7,381.0" stroke="#7d5fb2" stroke-width="1.5"/>
<path d="M142.8,378.2L148.0,382.8M148.0,378.2L142.8,382.8" stroke="#7d5fb2" stroke-width="1.5"/>
<path d="M144.9,380.5L150.1,385.1M150.1,380.5L144.9,385.1" stroke="#7d5fb2" stroke-width="1.5"/>
<path d="M147.0,378.3L152.2,382.9M152.2,378.3L147.0,382.9" stroke="#7d5fb2" stroke-width="1.5"/>
<path d="M149.1,380.4L154.3,385.0M154.3,380.4L149.1,385.0" stroke="#7d5fb2" stroke-width="1.5"/>
<path d="M151.2,380.0L156.4,384.6M156.4,380.0L151.2,384.6" stroke="#7d5fb2" stroke-width="1.5"/>
<path d="M153.3,375.7L158.5,380.3M158.5,375.7L153.3,380.3" stroke="#7d5fb2" stroke-width="1.5"/>
<path d="M155.4,371.5L160.6,376.1M160.6,371.5L155.4,376.1" stroke="#7d5fb2" stroke-width="1.5"/>
<path d="M157.5,370.1L162.7,374.7M162.7,370.1L157.5,374.7" stroke="#7d5fb2" stroke-width="1.5"/>
<path d="M159.6,372.9L164.8,377.5M164.8,372.9L159.6,377.5" stroke="#7d5fb2" stroke-width="1.5"/>
<path d="M161.7,372.2L166.9,376.8M166.9,372.2L161.7,376.8" stroke="#7d5fb2" stroke-width="1.5"/>
<path d="M163.8,381.3L169.0,385.9M169.0,381.3L163.8,385.9" stroke="#7d5fb2" stroke-width="1.5"/>
<path d="M165.9,385.1L171.1,389.7M171.1,385.1L165.9,389.7" stroke="#7d5fb2" stroke-width="1.5"/>
<path d="M168.0,384.6L173.2,389.2M173.2,384.6L168.0,389.2" stroke="#7d5fb2" stroke-width="1.5"/>
<path d="M170.1,384.8L175.3,389.4M175.3,384.8L170.1,389.4" stroke="#7d5fb2" stroke-width="1.5"/>
<path d="M172.2,385.2L177.4,389.8M177.4,385.2L172.2,389.8" stroke="#7d5fb2" stroke-width="1.5"/>
<path d="M174.3,383.3L179.5,387.9M179.5,383.3L174.3,387.9" stroke="#7d5fb2" stroke-width="1.5"/>
<path d="M176.4,392.5L181.6,397.1M181.6,392.5L176.4,397.1" stroke="#7d5fb2" stroke-width="1.5"/>
<path d="M178.5,390.1L183.7,394.7M183.7,390.1L178.5,394.7" stroke="#7d5fb2" stroke-width="1.5"/>
<path d="M180.6,383.5L185.8,388.1M185.8,383.5L180.6,388.1" stroke="#7d5fb2" stroke-width="1.5"/>
<path d="M182.7,393.2L187.9,397.8M187.9,393.2L182.7,397.8" stroke="#7d5fb2" stroke-width="1.5"/>
<path d="M184.8,385.2L190.0,389.8M190.0,385.2L184.8,389.8" stroke="#7d5fb2" stroke-width="1.5"/>
<path d="M186.9,385.4L192.1,390.0M192.1,385.4L186.9,390.0" stroke="#7d5fb2" stroke-width="1.5"/>
<path d="M189.0,385.4L194.2,390.0M194.2,385.4L189.0,390.0" stroke="#7d5fb2" stroke-width="1.5"/>
<path d="M191.1,395.6L196.3,400.2M196.3,395.6L191.1,400.2" stroke="#7d5fb2" stroke-width="1.5"/>
<path d="M193.2,385.7L198.4,390.3M198.4,385.7L193.2,390.3" stroke="#7d5fb2" stroke-width="1.5"/>
<path d="M195.3,392.2L200.5,396.8M200.5,392.2L195.3,396.8" stroke="#7d5fb2" stroke-width="1.5"/>
<path d="M197.4,387.3L202.6,391.9M202.6,387.3L197.4,391.9" stroke="#7d5fb2" stroke-width="1.5"/>
<path d="M199.5,386.5L204.7,391.1M204.7,386.5L199.5,391.1" stroke="#7d5fb2" stroke-width="1.5"/>
<path d="M201.6,389.4L206.8,394.0M206.8,389.4L201.6,394.0" stroke="#7d5fb2" stroke-width="1.5"/>
<path d="M203.7,391.8L208.9,396.4M208.9,391.8L203.7,396.4" stroke="#7d5fb2" stroke-width="1.5"/>
<path d="M205.8,389.3L211.0,393.9M211.0,389.3L205.8,393.9" stroke="#7d5fb2" stroke-width="1.5"/>
<path d="M207.9,392.9L213.1,397.5M213.1,392.9L207.9,397.5" stroke="#7d5fb2" stroke-width="1.5"/>
<path d="M210.0,391.4L215.2,396.0M215.2,391.4L210.0,396.0" stroke="#7d5fb2" stroke-width="1.5"/>
<path d="M212.1,374.8L217.3,379.4M217.3,374.8L212.1,379.4" stroke="#7d5fb2" stroke-width="1.5"/>
<path d="M214.2,370.7L219.4,375.3M219.4,370.7L214.2,375.3" stroke="#7d5fb2" stroke-width="1.5"/>
<path d="M216.3,373.7L221.5,378.3M221.5,373.7L216.3,378.3" stroke="#7d5fb2" stroke-width="1.5"/>
<path d="M218.4,372.6L223.6,377.2M223.6,372.6L218.4,377.2" stroke="#7d5fb2" stroke-width="1.5"/>
<path d="M220.5,371.5L225.7,376.1M225.7,371.5L220.5,376.1" stroke="#7d5fb2" stroke-width="1.5"/>
<path d="M222.6,374.1L227.8,378.7M227.8,374.1L222.6,378.7" stroke="#7d5fb2" stroke-width="1.5"/>
<path d="M224.7,376.7L229.9,381.3M229.9,376.7L224.7,381.3" stroke="#7d5fb2" stroke-width="1.5"/>
<path d="M226.8,377.4L232.0,382.0M232.0,377.4L226.8,382.0" stroke="#7d5fb2" stroke-width="1.5"/>
<path d="M228.9,373.9L234.1,378.5M234.1,373.9L228.9,378.5" stroke="#7d5fb2" stroke-width="1.5"/>
<path d="M231.0,375.0L236.2,379.6M236.2,375.0L231.0,379.6" stroke="#7d5fb2" stroke-width="1.5"/>
<path d="M233.1,376.0L238.3,380.6M238.3,376.0L233.1,380.6" stroke="#7d5fb2" stroke-width="1.5"/>
<path d="M235.2,377.0L240.4,381.6M240.4,377.0L235.2,381.6" stroke="#7d5fb2" stroke-width="1.5"/>
<path d="M237.3,392.1L242.5,396.7M242.5,392.1L237.3,396.7" stroke="#7d5fb2" stroke-width="1.5"/>
<path d="M239.4,391.8L244.6,396.4M244.6,391.8L239.4,396.4" stroke="#7d5fb2" stroke-width="1.5"/>
<path d="M241.5,392.1L246.7,396.7M246.7,392.1L241.5,396.7" stroke="#7d5fb2" stroke-width="1.5"/>
<path d="M243.6,393.6L248.8,398.2M248.8,393.6L243.6,398.2" stroke="#7d5fb2" stroke-width="1.5"/>
<path d="M245.7,392.1L250.9,396.7M250.9,392.1L245.7,396.7" stroke="#7d5fb2" stroke-width="1.5"/>
<path d="M247.8,386.6L253.0,391.2M253.0,386.6L247.8,391.2" stroke="#7d5fb2" stroke-width="1.5"/>
<path d="M249.9,390.6L255.1,395.2M255.1,390.6L249.9,395.2" stroke="#7d5fb2" stroke-width="1.5"/>
<path d="M252.0,393.7L257.2,398.3M257.2,393.7L252.0,398.3" stroke="#7d5fb2" stroke-width="1.5"/>
<path d="M254.1,393.5L259.3,398.1M259.3,393.5L254.1,398.1" stroke="#7d5fb2" stroke-width="1.5"/>
<path d="M256.2,401.0L261.4,405.6M261.4,401.0L256.2,405.6" stroke="#7d5fb2" stroke-width="1.5"/>
<path d="M258.3,392.4L263.5,397.0M263.5,392.4L258.3,397.0" stroke="#7d5fb2" stroke-width="1.5"/>
<path d="M260.4,401.3L265.6,405.9M265.6,401.3L260.4,405.9" stroke="#7d5fb2" stroke-width="1.5"/>
<path d="M262.5,391.9L267.7,396.5M267.7,391.9L262.5,396.5" stroke="#7d5fb2" stroke-width="1.5"/>
<path d="M264.6,389.7L269.8,394.3M269.8,389.7L264.6,394.3" stroke="#7d5fb2" stroke-width="1.5"/>
<path d="M266.7,376.7L271.9,381.3M271.9,376.7L266.7,381.3" stroke="#7d5fb2" stroke-width="1.5"/>
<path d="M268.8,374.3L274.0,378.9M274.0,374.3L268.8,378.9" stroke="#7d5fb2" stroke-width="1.5"/>
<path d="M270.9,374.4L276.1,379.0M276.1,374.4L270.9,379.0" stroke="#7d5fb2" stroke-width="1.5"/>
<path d="M273.0,374.6L278.2,379.2M278.2,374.6L273.0,379.2" stroke="#7d5fb2" stroke-width="1.5"/>
<path d="M275.1,374.3L280.3,378.9M280.3,374.3L275.1,378.9" stroke="#7d5fb2" stroke-width="1.5"/>
<path d="M277.2,371.7L282.4,376.3M282.4,371.7L277.2,376.3" stroke="#7d5fb2" stroke-width="1.5"/>
<path d="M279.3,392.0L284.5,396.6M284.5,392.0L279.3,396.6" stroke="#7d5fb2" stroke-width="1.5"/>
<path d="M281.4,392.7L286.6,397.3M286.6,392.7L281.4,397.3" stroke="#7d5fb2" stroke-width="1.5"/>
<path d="M283.5,397.8L288.7,402.4M288.7,397.8L283.5,402.4" stroke="#7d5fb2" stroke-width="1.5"/>
<path d="M285.6,394.8L290.8,399.4M290.8,394.8L285.6,399.4" stroke="#7d5fb2" stroke-width="1.5"/>
<path d="M287.7,406.1L292.9,410.7M292.9,406.1L287.7,410.7" stroke="#7d5fb2" stroke-width="1.5"/>
<path d="M289.8,397.2L295.0,401.8M295.0,397.2L289.8,401.8" stroke="#7d5fb2" stroke-width="1.5"/>
<path d="M291.9,409.4L297.1,414.0M297.1,409.4L291.9,414.0" stroke="#7d5fb2" stroke-width="1.5"/>
<path d="M294.0,385.0L299.2,389.6M299.2,385.0L294.0,389.6" stroke="#7d5fb2" stroke-width="1.5"/>
<path d="M296.1,384.7L301.3,389.3M301.3,384.7L296.1,389.3" stroke="#7d5fb2" stroke-width="1.5"/>
<path d="M298.2,385.8L303.4,390.4M303.4,385.8L298.2,390.4" stroke="#7d5fb2" stroke-width="1.5"/>
<path d="M300.3,389.8L305.5,394.4M305.5,389.8L300.3,394.4" stroke="#7d5fb2" stroke-width="1.5"/>
<path d="M302.4,390.2L307.6,394.8M307.6,390.2L302.4,394.8" stroke="#7d5fb2" stroke-width="1.5"/>
<path d="M304.5,389.9L309.7,394.5M309.7,389.9L304.5,394.5" stroke="#7d5fb2" stroke-width="1.5"/>
<path d="M306.6,391.4L311.8,396.0M311.8,391.4L306.6,396.0" stroke="#7d5fb2" stroke-width="1.5"/>
<path d="M112.6,347.0L117.8,351.6M117.8,347.0L112.6,351.6" stroke="#7d5fb2" stroke-width="1.5"/>
<path d="M113.7,353.2L118.9,357.8M118.9,353.2L113.7,357.8" stroke="#7d5fb2" stroke-width="1.5"/>
<path d="M116.7,355.2L121.9,359.8M121.9,355.2L116.7,359.8" stroke="#7d5fb2" stroke-width="1.5"/>
<path d="M119.8,358.3L125.0,362.9M125.0,358.3L119.8,362.9" stroke="#7d5fb2" stroke-width="1.5"/>
<path d="M122.9,360.3L128.1,364.9M128.1,360.3L122.9,364.9" stroke="#7d5fb2" stroke-width="1.5"/>
<path d="M122.9,373.7L128.1,378.3M128.1,373.7L122.9,378.3" stroke="#7d5fb2" stroke-width="1.5"/>
<path d="M124.9,361.4L130.1,366.0M130.1,361.4L124.9,366.0" stroke="#7d5fb2" stroke-width="1.5"/>
<path d="M129.0,369.6L134.2,374.2M134.2,369.6L129.0,374.2" stroke="#7d5fb2" stroke-width="1.5"/>
<path d="M133.1,370.6L138.3,375.2M138.3,370.6L133.1,375.2" stroke="#7d5fb2" stroke-width="1.5"/>
<path d="M139.3,368.5L144.5,373.1M144.5,368.5L139.3,373.1" stroke="#7d5fb2" stroke-width="1.5"/>
<path d="M143.4,376.7L148.6,381.3M148.6,376.7L143.4,381.3" stroke="#7d5fb2" stroke-width="1.5"/>
<path d="M146.4,378.8L151.6,383.4M151.6,378.8L146.4,383.4" stroke="#7d5fb2" stroke-width="1.5"/>
<path d="M149.5,381.8L154.7,386.4M154.7,381.8L149.5,386.4" stroke="#7d5fb2" stroke-width="1.5"/>
<path d="M153.6,365.5L158.8,370.1M158.8,365.5L153.6,370.1" stroke="#7d5fb2" stroke-width="1.5"/>
<path d="M153.6,376.7L158.8,381.3M158.8,376.7L153.6,381.3" stroke="#7d5fb2" stroke-width="1.5"/>
<path d="M158.7,354.2L163.9,358.8M163.9,354.2L158.7,358.8" stroke="#7d5fb2" stroke-width="1.5"/>
<path d="M159.7,371.6L164.9,376.2M164.9,371.6L159.7,376.2" stroke="#7d5fb2" stroke-width="1.5"/>
<path d="M162.8,370.6L168.0,375.2M168.0,370.6L162.8,375.2" stroke="#7d5fb2" stroke-width="1.5"/>
<path d="M163.8,390.0L169.0,394.6M169.0,390.0L163.8,394.6" stroke="#7d5fb2" stroke-width="1.5"/>
<path d="M165.9,379.8L171.1,384.4M171.1,379.8L165.9,384.4" stroke="#7d5fb2" stroke-width="1.5"/>
<path d="M170.0,383.9L175.2,388.5M175.2,383.9L170.0,388.5" stroke="#7d5fb2" stroke-width="1.5"/>
<path d="M176.1,384.9L181.3,389.5M181.3,384.9L176.1,389.5" stroke="#7d5fb2" stroke-width="1.5"/>
<path d="M179.2,392.1L184.4,396.7M184.4,392.1L179.2,396.7" stroke="#7d5fb2" stroke-width="1.5"/>
<path d="M184.3,383.9L189.5,388.5M189.5,383.9L184.3,388.5" stroke="#7d5fb2" stroke-width="1.5"/>
<path d="M188.4,387.0L193.6,391.6M193.6,387.0L188.4,391.6" stroke="#7d5fb2" stroke-width="1.5"/>
<path d="M190.4,394.1L195.6,398.7M195.6,394.1L190.4,398.7" stroke="#7d5fb2" stroke-width="1.5"/>
<path d="M196.6,385.9L201.8,390.5M201.8,385.9L196.6,390.5" stroke="#7d5fb2" stroke-width="1.5"/>
<path d="M202.7,388.0L207.9,392.6M207.9,388.0L202.7,392.6" stroke="#7d5fb2" stroke-width="1.5"/>
<path d="M206.8,391.1L212.0,395.7M212.0,391.1L206.8,395.7" stroke="#7d5fb2" stroke-width="1.5"/>
<path d="M208.9,373.6L214.1,378.2M214.1,373.6L208.9,378.2" stroke="#7d5fb2" stroke-width="1.5"/>
<path d="M215.0,372.6L220.2,377.2M220.2,372.6L215.0,377.2" stroke="#7d5fb2" stroke-width="1.5"/>
<path d="M220.1,370.6L225.3,375.2M225.3,370.6L220.1,375.2" stroke="#7d5fb2" stroke-width="1.5"/>
<path d="M221.2,381.8L226.4,386.4M226.4,381.8L221.2,386.4" stroke="#7d5fb2" stroke-width="1.5"/>
<path d="M225.3,368.5L230.5,373.1M230.5,368.5L225.3,373.1" stroke="#7d5fb2" stroke-width="1.5"/>
<path d="M227.3,375.7L232.5,380.3M232.5,375.7L227.3,380.3" stroke="#7d5fb2" stroke-width="1.5"/>
<path d="M233.4,375.7L238.6,380.3M238.6,375.7L233.4,380.3" stroke="#7d5fb2" stroke-width="1.5"/>
<path d="M235.5,370.6L240.7,375.2M240.7,370.6L235.5,375.2" stroke="#7d5fb2" stroke-width="1.5"/>
<path d="M237.5,399.2L242.7,403.8M242.7,399.2L237.5,403.8" stroke="#7d5fb2" stroke-width="1.5"/>
<path d="M241.6,393.1L246.8,397.7M246.8,393.1L241.6,397.7" stroke="#7d5fb2" stroke-width="1.5"/>
<path d="M245.7,387.0L250.9,391.6M250.9,387.0L245.7,391.6" stroke="#7d5fb2" stroke-width="1.5"/>
<path d="M248.8,376.7L254.0,381.3M254.0,376.7L248.8,381.3" stroke="#7d5fb2" stroke-width="1.5"/>
<path d="M249.8,391.1L255.0,395.7M255.0,391.1L249.8,395.7" stroke="#7d5fb2" stroke-width="1.5"/>
<path d="M253.9,394.1L259.1,398.7M259.1,394.1L253.9,398.7" stroke="#7d5fb2" stroke-width="1.5"/>
<path d="M256.0,401.3L261.2,405.9M261.2,401.3L256.0,405.9" stroke="#7d5fb2" stroke-width="1.5"/>
<path d="M262.1,390.0L267.3,394.6M267.3,390.0L262.1,394.6" stroke="#7d5fb2" stroke-width="1.5"/>
<path d="M266.2,375.7L271.4,380.3M271.4,375.7L266.2,380.3" stroke="#7d5fb2" stroke-width="1.5"/>
<path d="M270.3,373.6L275.5,378.2M275.5,373.6L270.3,378.2" stroke="#7d5fb2" stroke-width="1.5"/>
<path d="M275.4,371.6L280.6,376.2M280.6,371.6L275.4,376.2" stroke="#7d5fb2" stroke-width="1.5"/>
<path d="M282.6,392.1L287.8,396.7M287.8,392.1L282.6,396.7" stroke="#7d5fb2" stroke-width="1.5"/>
<path d="M286.7,396.2L291.9,400.8M291.9,396.2L286.7,400.8" stroke="#7d5fb2" stroke-width="1.5"/>
<path d="M289.7,407.7L294.9,412.3M294.9,407.7L289.7,412.3" stroke="#7d5fb2" stroke-width="1.5"/>
<path d="M292.8,384.9L298.0,389.5M298.0,384.9L292.8,389.5" stroke="#7d5fb2" stroke-width="1.5"/>
<path d="M299.0,384.9L304.2,389.5M304.2,384.9L299.0,389.5" stroke="#7d5fb2" stroke-width="1.5"/>
<path d="M304.1,391.1L309.3,395.7M309.3,391.1L304.1,395.7" stroke="#7d5fb2" stroke-width="1.5"/>
<path d="M308.2,389.0L313.4,393.6M313.4,389.0L308.2,393.6" stroke="#7d5fb2" stroke-width="1.5"/>
<path d="M309.2,407.4L314.4,412.0M314.4,407.4L309.2,412.0" stroke="#7d5fb2" stroke-width="1.5"/>
<path d="M338.0,349.0L343.2,353.6M343.2,349.0L338.0,353.6" stroke="#7d5fb2" stroke-width="1.5"/>
<path d="M339.7,352.4L344.9,357.0M344.9,352.4L339.7,357.0" stroke="#7d5fb2" stroke-width="1.5"/>
<path d="M342.3,355.8L347.5,360.4M347.5,355.8L342.3,360.4" stroke="#7d5fb2" stroke-width="1.5"/>
<path d="M344.8,358.4L350.0,363.0M350.0,358.4L344.8,363.0" stroke="#7d5fb2" stroke-width="1.5"/>
<path d="M344.8,360.1L350.0,364.7M350.0,360.1L344.8,364.7" stroke="#7d5fb2" stroke-width="1.5"/>
<path d="M347.4,358.4L352.6,363.0M352.6,358.4L347.4,363.0" stroke="#7d5fb2" stroke-width="1.5"/>
<path d="M349.1,369.6L354.3,374.2M354.3,369.6L349.1,374.2" stroke="#7d5fb2" stroke-width="1.5"/>
<path d="M350.8,375.6L356.0,380.2M356.0,375.6L350.8,380.2" stroke="#7d5fb2" stroke-width="1.5"/>
<path d="M352.5,368.7L357.7,373.3M357.7,368.7L352.5,373.3" stroke="#7d5fb2" stroke-width="1.5"/>
<path d="M356.0,366.1L361.2,370.7M361.2,366.1L356.0,370.7" stroke="#7d5fb2" stroke-width="1.5"/>
<path d="M357.7,377.3L362.9,381.9M362.9,377.3L357.7,381.9" stroke="#7d5fb2" stroke-width="1.5"/>
<path d="M361.1,369.6L366.3,374.2M366.3,369.6L361.1,374.2" stroke="#7d5fb2" stroke-width="1.5"/>
<path d="M363.7,373.8L368.9,378.4M368.9,373.8L363.7,378.4" stroke="#7d5fb2" stroke-width="1.5"/>
<path d="M365.4,385.0L370.6,389.6M370.6,385.0L365.4,389.6" stroke="#7d5fb2" stroke-width="1.5"/>
<path d="M371.4,384.1L376.6,388.7M376.6,384.1L371.4,388.7" stroke="#7d5fb2" stroke-width="1.5"/>
<path d="M374.0,347.3L379.2,351.9M379.2,347.3L374.0,351.9" stroke="#7d5fb2" stroke-width="1.5"/>
<path d="M375.7,361.8L380.9,366.4M380.9,361.8L375.7,366.4" stroke="#7d5fb2" stroke-width="1.5"/>
<path d="M383.4,380.7L388.6,385.3M388.6,380.7L383.4,385.3" stroke="#7d5fb2" stroke-width="1.5"/>
<path d="M386.0,375.6L391.2,380.2M391.2,375.6L386.0,380.2" stroke="#7d5fb2" stroke-width="1.5"/>
<path d="M387.7,360.1L392.9,364.7M392.9,360.1L387.7,364.7" stroke="#7d5fb2" stroke-width="1.5"/>
<path d="M389.4,368.7L394.6,373.3M394.6,368.7L389.4,373.3" stroke="#7d5fb2" stroke-width="1.5"/>
<path d="M392.8,393.6L398.0,398.2M398.0,393.6L392.8,398.2" stroke="#7d5fb2" stroke-width="1.5"/>
<path d="M393.7,389.3L398.9,393.9M398.9,389.3L393.7,393.9" stroke="#7d5fb2" stroke-width="1.5"/>
<path d="M396.3,426.1L401.5,430.7M401.5,426.1L396.3,430.7" stroke="#7d5fb2" stroke-width="1.5"/>
<path d="M398.0,405.6L403.2,410.2M403.2,405.6L398.0,410.2" stroke="#7d5fb2" stroke-width="1.5"/>
<path d="M401.4,400.4L406.6,405.0M406.6,400.4L401.4,405.0" stroke="#7d5fb2" stroke-width="1.5"/>
<path d="M410.0,384.1L415.2,388.7M415.2,384.1L410.0,388.7" stroke="#7d5fb2" stroke-width="1.5"/>
<path d="M410.8,361.0L416.0,365.6M416.0,361.0L410.8,365.6" stroke="#7d5fb2" stroke-width="1.5"/>
<path d="M414.3,368.7L419.5,373.3M419.5,368.7L414.3,373.3" stroke="#7d5fb2" stroke-width="1.5"/>
<path d="M416.8,374.7L422.0,379.3M422.0,374.7L416.8,379.3" stroke="#7d5fb2" stroke-width="1.5"/>
<path d="M416.8,385.0L422.0,389.6M422.0,385.0L416.8,389.6" stroke="#7d5fb2" stroke-width="1.5"/>
<path d="M420.3,369.6L425.5,374.2M425.5,369.6L420.3,374.2" stroke="#7d5fb2" stroke-width="1.5"/>
<path d="M422.0,376.4L427.2,381.0M427.2,376.4L422.0,381.0" stroke="#7d5fb2" stroke-width="1.5"/>
<path d="M425.4,388.4L430.6,393.0M430.6,388.4L425.4,393.0" stroke="#7d5fb2" stroke-width="1.5"/>
<path d="M427.1,379.0L432.3,383.6M432.3,379.0L427.1,383.6" stroke="#7d5fb2" stroke-width="1.5"/>
<path d="M428.8,400.4L434.0,405.0M434.0,400.4L428.8,405.0" stroke="#7d5fb2" stroke-width="1.5"/>
<path d="M431.4,381.6L436.6,386.2M436.6,381.6L431.4,386.2" stroke="#7d5fb2" stroke-width="1.5"/>
<path d="M431.4,395.3L436.6,399.9M436.6,395.3L431.4,399.9" stroke="#7d5fb2" stroke-width="1.5"/>
<path d="M435.7,391.0L440.9,395.6M440.9,391.0L435.7,395.6" stroke="#7d5fb2" stroke-width="1.5"/>
<path d="M437.4,387.6L442.6,392.2M442.6,387.6L437.4,392.2" stroke="#7d5fb2" stroke-width="1.5"/>
<path d="M438.3,381.6L443.5,386.2M443.5,381.6L438.3,386.2" stroke="#7d5fb2" stroke-width="1.5"/>
<path d="M442.5,387.6L447.7,392.2M447.7,387.6L442.5,392.2" stroke="#7d5fb2" stroke-width="1.5"/>
<path d="M446.8,424.4L452.0,429.0M452.0,424.4L446.8,429.0" stroke="#7d5fb2" stroke-width="1.5"/>
<path d="M447.7,409.0L452.9,413.6M452.9,409.0L447.7,413.6" stroke="#7d5fb2" stroke-width="1.5"/>
<path d="M451.1,395.3L456.3,399.9M456.3,395.3L451.1,399.9" stroke="#7d5fb2" stroke-width="1.5"/>
<path d="M455.4,401.3L460.6,405.9M460.6,401.3L455.4,405.9" stroke="#7d5fb2" stroke-width="1.5"/>
<path d="M458.8,402.1L464.0,406.7M464.0,402.1L458.8,406.7" stroke="#7d5fb2" stroke-width="1.5"/>
<path d="M461.4,410.7L466.6,415.3M466.6,410.7L461.4,415.3" stroke="#7d5fb2" stroke-width="1.5"/>
<path d="M464.8,374.7L470.0,379.3M470.0,374.7L464.8,379.3" stroke="#7d5fb2" stroke-width="1.5"/>
<path d="M468.3,377.3L473.5,381.9M473.5,377.3L468.3,381.9" stroke="#7d5fb2" stroke-width="1.5"/>
<path d="M471.7,379.8L476.9,384.4M476.9,379.8L471.7,384.4" stroke="#7d5fb2" stroke-width="1.5"/>
<path d="M476.0,381.6L481.2,386.2M481.2,381.6L476.0,386.2" stroke="#7d5fb2" stroke-width="1.5"/>
<path d="M384.7,378.1L389.9,382.8M389.9,378.1L384.7,382.8" stroke="#7d5fb2" stroke-width="1.5"/>
<path d="M424.5,377.7L429.8,382.3M429.8,377.7L424.5,382.3" stroke="#7d5fb2" stroke-width="1.5"/>
<path d="M430.1,397.8L435.3,402.4M435.3,397.8L430.1,402.4" stroke="#7d5fb2" stroke-width="1.5"/>
<path d="M114.2,371.4L311.8,394" stroke="#111" stroke-width="1.5"/>
<path d="M116.0,547.0L119.6,550.4L116.0,553.8L112.4,550.4Z" fill="#4683c8"/>
<path d="M117.7,546.6L121.3,550.0L117.7,553.4L114.1,550.0Z" fill="#4683c8"/>
<path d="M119.4,548.5L123.0,551.9L119.4,555.3L115.8,551.9Z" fill="#4683c8"/>
<path d="M121.1,546.4L124.7,549.8L121.1,553.2L117.5,549.8Z" fill="#4683c8"/>
<path d="M122.8,543.8L126.4,547.2L122.8,550.6L119.2,547.2Z" fill="#4683c8"/>
<path d="M124.5,545.4L128.1,548.8L124.5,552.2L120.9,548.8Z" fill="#4683c8"/>
<path d="M126.2,544.3L129.8,547.7L126.2,551.1L122.6,547.7Z" fill="#4683c8"/>
<path d="M127.9,553.2L131.5,556.6L127.9,560.0L124.3,556.6Z" fill="#4683c8"/>
<path d="M129.6,552.1L133.2,555.5L129.6,558.9L126.0,555.5Z" fill="#4683c8"/>
<path d="M131.3,550.9L134.9,554.3L131.3,557.7L127.7,554.3Z" fill="#4683c8"/>
<path d="M133.0,550.7L136.6,554.1L133.0,557.5L129.4,554.1Z" fill="#4683c8"/>
<path d="M134.7,549.9L138.3,553.3L134.7,556.7L131.1,553.3Z" fill="#4683c8"/>
<path d="M136.4,547.6L140.0,551.0L136.4,554.4L132.8,551.0Z" fill="#4683c8"/>
<path d="M138.1,547.2L141.7,550.6L138.1,554.0L134.5,550.6Z" fill="#4683c8"/>
<path d="M139.8,546.4L143.4,549.8L139.8,553.2L136.2,549.8Z" fill="#4683c8"/>
<path d="M141.5,547.1L145.1,550.5L141.5,553.9L137.9,550.5Z" fill="#4683c8"/>
<path d="M143.2,547.0L146.8,550.4L143.2,553.8L139.6,550.4Z" fill="#4683c8"/>
<path d="M144.9,553.9L148.5,557.3L144.9,560.7L141.3,557.3Z" fill="#4683c8"/>
<path d="M146.6,551.4L150.2,554.8L146.6,558.2L143.0,554.8Z" fill="#4683c8"/>
<path d="M148.3,554.8L151.9,558.2L148.3,561.6L144.7,558.2Z" fill="#4683c8"/>
<path d="M150.0,553.7L153.6,557.1L150.0,560.5L146.4,557.1Z" fill="#4683c8"/>
<path d="M151.7,557.3L155.3,560.7L151.7,564.1L148.1,560.7Z" fill="#4683c8"/>
<path d="M153.4,553.7L157.0,557.1L153.4,560.5L149.8,557.1Z" fill="#4683c8"/>
<path d="M155.1,555.1L158.7,558.5L155.1,561.9L151.5,558.5Z" fill="#4683c8"/>
<path d="M156.8,554.1L160.4,557.5L156.8,560.9L153.2,557.5Z" fill="#4683c8"/>
<path d="M158.5,553.0L162.1,556.4L158.5,559.8L154.9,556.4Z" fill="#4683c8"/>
<path d="M160.2,548.6L163.8,552.0L160.2,555.4L156.6,552.0Z" fill="#4683c8"/>
<path d="M161.9,549.6L165.5,553.0L161.9,556.4L158.3,553.0Z" fill="#4683c8"/>
<path d="M163.6,554.2L167.2,557.6L163.6,561.0L160.0,557.6Z" fill="#4683c8"/>
<path d="M165.3,552.4L168.9,555.8L165.3,559.2L161.7,555.8Z" fill="#4683c8"/>
<path d="M167.0,557.8L170.6,561.2L167.0,564.6L163.4,561.2Z" fill="#4683c8"/>
<path d="M168.7,558.7L172.3,562.1L168.7,565.5L165.1,562.1Z" fill="#4683c8"/>
<path d="M170.4,556.8L174.0,560.2L170.4,563.6L166.8,560.2Z" fill="#4683c8"/>
<path d="M172.1,552.7L175.7,556.1L172.1,559.5L168.5,556.1Z" fill="#4683c8"/>
<path d="M173.8,552.7L177.4,556.1L173.8,559.5L170.2,556.1Z" fill="#4683c8"/>
<path d="M175.5,554.7L179.1,558.1L175.5,561.5L171.9,558.1Z" fill="#4683c8"/>
<path d="M177.2,547.3L180.8,550.7L177.2,554.1L173.6,550.7Z" fill="#4683c8"/>
<path d="M178.9,555.6L182.5,559.0L178.9,562.4L175.3,559.0Z" fill="#4683c8"/>
<path d="M180.6,548.0L184.2,551.4L180.6,554.8L177.0,551.4Z" fill="#4683c8"/>
<path d="M182.3,553.8L185.9,557.2L182.3,560.6L178.7,557.2Z" fill="#4683c8"/>
<path d="M184.0,553.6L187.6,557.0L184.0,560.4L180.4,557.0Z" fill="#4683c8"/>
<path d="M185.7,553.8L189.3,557.2L185.7,560.6L182.1,557.2Z" fill="#4683c8"/>
<path d="M187.4,553.5L191.0,556.9L187.4,560.3L183.8,556.9Z" fill="#4683c8"/>
<path d="M189.1,556.7L192.7,560.1L189.1,563.5L185.5,560.1Z" fill="#4683c8"/>
<path d="M190.8,557.3L194.4,560.7L190.8,564.1L187.2,560.7Z" fill="#4683c8"/>
<path d="M192.5,557.5L196.1,560.9L192.5,564.3L188.9,560.9Z" fill="#4683c8"/>
<path d="M194.2,554.9L197.8,558.3L194.2,561.7L190.6,558.3Z" fill="#4683c8"/>
<path d="M195.9,551.2L199.5,554.6L195.9,558.0L192.3,554.6Z" fill="#4683c8"/>
<path d="M197.6,555.2L201.2,558.6L197.6,562.0L194.0,558.6Z" fill="#4683c8"/>
<path d="M199.3,555.6L202.9,559.0L199.3,562.4L195.7,559.0Z" fill="#4683c8"/>
<path d="M201.0,557.8L204.6,561.2L201.0,564.6L197.4,561.2Z" fill="#4683c8"/>
<path d="M202.7,555.2L206.3,558.6L202.7,562.0L199.1,558.6Z" fill="#4683c8"/>
<path d="M204.4,555.3L208.0,558.7L204.4,562.1L200.8,558.7Z" fill="#4683c8"/>
<path d="M206.1,560.2L209.7,563.6L206.1,567.0L202.5,563.6Z" fill="#4683c8"/>
<path d="M207.8,556.1L211.4,559.5L207.8,562.9L204.2,559.5Z" fill="#4683c8"/>
<path d="M209.5,558.3L213.1,561.7L209.5,565.1L205.9,561.7Z" fill="#4683c8"/>
<path d="M211.2,548.0L214.8,551.4L211.2,554.8L207.6,551.4Z" fill="#4683c8"/>
<path d="M212.9,548.4L216.5,551.8L212.9,555.2L209.3,551.8Z" fill="#4683c8"/>
<path d="M214.6,541.6L218.2,545.0L214.6,548.4L211.0,545.0Z" fill="#4683c8"/>
<path d="M216.3,542.9L219.9,546.3L216.3,549.7L212.7,546.3Z" fill="#4683c8"/>
<path d="M218.0,547.4L221.6,550.8L218.0,554.2L214.4,550.8Z" fill="#4683c8"/>
<path d="M219.7,547.6L223.3,551.0L219.7,554.4L216.1,551.0Z" fill="#4683c8"/>
<path d="M221.4,555.7L225.0,559.1L221.4,562.5L217.8,559.1Z" fill="#4683c8"/>
<path d="M223.1,550.0L226.7,553.4L223.1,556.8L219.5,553.4Z" fill="#4683c8"/>
<path d="M224.8,558.7L228.4,562.1L224.8,565.5L221.2,562.1Z" fill="#4683c8"/>
<path d="M226.5,556.5L230.1,559.9L226.5,563.3L222.9,559.9Z" fill="#4683c8"/>
<path d="M228.2,566.3L231.8,569.7L228.2,573.1L224.6,569.7Z" fill="#4683c8"/>
<path d="M229.9,551.3L233.5,554.7L229.9,558.1L226.3,554.7Z" fill="#4683c8"/>
<path d="M231.6,551.9L235.2,555.3L231.6,558.7L228.0,555.3Z" fill="#4683c8"/>
<path d="M233.3,553.5L236.9,556.9L233.3,560.3L229.7,556.9Z" fill="#4683c8"/>
<path d="M235.0,551.3L238.6,554.7L235.0,558.1L231.4,554.7Z" fill="#4683c8"/>
<path d="M236.7,554.3L240.3,557.7L236.7,561.1L233.1,557.7Z" fill="#4683c8"/>
<path d="M238.4,554.4L242.0,557.8L238.4,561.2L234.8,557.8Z" fill="#4683c8"/>
<path d="M240.1,549.1L243.7,552.5L240.1,555.9L236.5,552.5Z" fill="#4683c8"/>
<path d="M241.8,559.7L245.4,563.1L241.8,566.5L238.2,563.1Z" fill="#4683c8"/>
<path d="M243.5,557.4L247.1,560.8L243.5,564.2L239.9,560.8Z" fill="#4683c8"/>
<path d="M245.2,559.0L248.8,562.4L245.2,565.8L241.6,562.4Z" fill="#4683c8"/>
<path d="M246.9,558.9L250.5,562.3L246.9,565.7L243.3,562.3Z" fill="#4683c8"/>
<path d="M248.6,557.1L252.2,560.5L248.6,563.9L245.0,560.5Z" fill="#4683c8"/>
<path d="M250.3,558.6L253.9,562.0L250.3,565.4L246.7,562.0Z" fill="#4683c8"/>
<path d="M252.0,554.4L255.6,557.8L252.0,561.2L248.4,557.8Z" fill="#4683c8"/>
<path d="M253.7,559.1L257.3,562.5L253.7,565.9L250.1,562.5Z" fill="#4683c8"/>
<path d="M255.4,557.0L259.0,560.4L255.4,563.8L251.8,560.4Z" fill="#4683c8"/>
<path d="M257.1,558.9L260.7,562.3L257.1,565.7L253.5,562.3Z" fill="#4683c8"/>
<path d="M258.8,564.8L262.4,568.2L258.8,571.6L255.2,568.2Z" fill="#4683c8"/>
<path d="M260.5,563.7L264.1,567.1L260.5,570.5L256.9,567.1Z" fill="#4683c8"/>
<path d="M262.2,563.1L265.8,566.5L262.2,569.9L258.6,566.5Z" fill="#4683c8"/>
<path d="M263.9,561.5L267.5,564.9L263.9,568.3L260.3,564.9Z" fill="#4683c8"/>
<path d="M265.6,563.0L269.2,566.4L265.6,569.8L262.0,566.4Z" fill="#4683c8"/>
<path d="M267.3,557.3L270.9,560.7L267.3,564.1L263.7,560.7Z" fill="#4683c8"/>
<path d="M269.0,558.8L272.6,562.2L269.0,565.6L265.4,562.2Z" fill="#4683c8"/>
<path d="M270.7,558.6L274.3,562.0L270.7,565.4L267.1,562.0Z" fill="#4683c8"/>
<path d="M272.4,558.2L276.0,561.6L272.4,565.0L268.8,561.6Z" fill="#4683c8"/>
<path d="M274.1,560.7L277.7,564.1L274.1,567.5L270.5,564.1Z" fill="#4683c8"/>
<path d="M275.8,562.6L279.4,566.0L275.8,569.4L272.2,566.0Z" fill="#4683c8"/>
<path d="M277.5,562.5L281.1,565.9L277.5,569.3L273.9,565.9Z" fill="#4683c8"/>
<path d="M279.2,560.7L282.8,564.1L279.2,567.5L275.6,564.1Z" fill="#4683c8"/>
<path d="M280.9,559.5L284.5,562.9L280.9,566.3L277.3,562.9Z" fill="#4683c8"/>
<path d="M282.6,558.5L286.2,561.9L282.6,565.3L279.0,561.9Z" fill="#4683c8"/>
<path d="M284.3,556.4L287.9,559.8L284.3,563.2L280.7,559.8Z" fill="#4683c8"/>
<path d="M286.0,559.6L289.6,563.0L286.0,566.4L282.4,563.0Z" fill="#4683c8"/>
<path d="M287.7,559.6L291.3,563.0L287.7,566.4L284.1,563.0Z" fill="#4683c8"/>
<path d="M289.4,560.3L293.0,563.7L289.4,567.1L285.8,563.7Z" fill="#4683c8"/>
<path d="M291.1,561.9L294.7,565.3L291.1,568.7L287.5,565.3Z" fill="#4683c8"/>
<path d="M292.8,561.4L296.4,564.8L292.8,568.2L289.2,564.8Z" fill="#4683c8"/>
<path d="M294.5,555.0L298.1,558.4L294.5,561.8L290.9,558.4Z" fill="#4683c8"/>
<path d="M296.2,555.4L299.8,558.8L296.2,562.2L292.6,558.8Z" fill="#4683c8"/>
<path d="M297.9,548.5L301.5,551.9L297.9,555.3L294.3,551.9Z" fill="#4683c8"/>
<path d="M299.6,554.0L303.2,557.4L299.6,560.8L296.0,557.4Z" fill="#4683c8"/>
<path d="M301.3,553.5L304.9,556.9L301.3,560.3L297.7,556.9Z" fill="#4683c8"/>
<path d="M303.0,553.1L306.6,556.5L303.0,559.9L299.4,556.5Z" fill="#4683c8"/>
<path d="M304.7,561.9L308.3,565.3L304.7,568.7L301.1,565.3Z" fill="#4683c8"/>
<path d="M306.4,548.7L310.0,552.1L306.4,555.5L302.8,552.1Z" fill="#4683c8"/>
<path d="M308.1,560.2L311.7,563.6L308.1,567.0L304.5,563.6Z" fill="#4683c8"/>
<path d="M309.8,561.0L313.4,564.4L309.8,567.8L306.2,564.4Z" fill="#4683c8"/>
<path d="M115.2,542.6L118.8,546.0L115.2,549.4L111.6,546.0Z" fill="#4683c8"/>
<path d="M117.3,547.7L120.9,551.1L117.3,554.5L113.7,551.1Z" fill="#4683c8"/>
<path d="M120.4,551.8L124.0,555.2L120.4,558.6L116.8,555.2Z" fill="#4683c8"/>
<path d="M121.4,538.5L125.0,541.9L121.4,545.3L117.8,541.9Z" fill="#4683c8"/>
<path d="M124.5,532.3L128.1,535.7L124.5,539.1L120.9,535.7Z" fill="#4683c8"/>
<path d="M125.5,544.6L129.1,548.0L125.5,551.4L121.9,548.0Z" fill="#4683c8"/>
<path d="M126.5,560.0L130.1,563.4L126.5,566.8L122.9,563.4Z" fill="#4683c8"/>
<path d="M131.6,551.8L135.2,555.2L131.6,558.6L128.0,555.2Z" fill="#4683c8"/>
<path d="M135.7,544.6L139.3,548.0L135.7,551.4L132.1,548.0Z" fill="#4683c8"/>
<path d="M140.8,547.7L144.4,551.1L140.8,554.5L137.2,551.1Z" fill="#4683c8"/>
<path d="M143.9,552.8L147.5,556.2L143.9,559.6L140.3,556.2Z" fill="#4683c8"/>
<path d="M146.0,544.6L149.6,548.0L146.0,551.4L142.4,548.0Z" fill="#4683c8"/>
<path d="M149.0,556.9L152.6,560.3L149.0,563.7L145.4,560.3Z" fill="#4683c8"/>
<path d="M154.1,553.8L157.7,557.2L154.1,560.6L150.5,557.2Z" fill="#4683c8"/>
<path d="M158.2,538.5L161.8,541.9L158.2,545.3L154.6,541.9Z" fill="#4683c8"/>
<path d="M160.3,552.8L163.9,556.2L160.3,559.6L156.7,556.2Z" fill="#4683c8"/>
<path d="M161.3,518.0L164.9,521.4L161.3,524.8L157.7,521.4Z" fill="#4683c8"/>
<path d="M164.4,548.7L168.0,552.1L164.4,555.5L160.8,552.1Z" fill="#4683c8"/>
<path d="M166.4,560.0L170.0,563.4L166.4,566.8L162.8,563.4Z" fill="#4683c8"/>
<path d="M170.5,556.9L174.1,560.3L170.5,563.7L166.9,560.3Z" fill="#4683c8"/>
<path d="M174.6,553.8L178.2,557.2L174.6,560.6L171.0,557.2Z" fill="#4683c8"/>
<path d="M175.6,546.6L179.2,550.0L175.6,553.4L172.0,550.0Z" fill="#4683c8"/>
<path d="M180.8,544.6L184.4,548.0L180.8,551.4L177.2,548.0Z" fill="#4683c8"/>
<path d="M182.8,554.8L186.4,558.2L182.8,561.6L179.2,558.2Z" fill="#4683c8"/>
<path d="M186.9,555.9L190.5,559.3L186.9,562.7L183.3,559.3Z" fill="#4683c8"/>
<path d="M191.0,545.6L194.6,549.0L191.0,552.4L187.4,549.0Z" fill="#4683c8"/>
<path d="M195.1,555.9L198.7,559.3L195.1,562.7L191.5,559.3Z" fill="#4683c8"/>
<path d="M199.2,549.7L202.8,553.1L199.2,556.5L195.6,553.1Z" fill="#4683c8"/>
<path d="M203.3,556.9L206.9,560.3L203.3,563.7L199.7,560.3Z" fill="#4683c8"/>
<path d="M209.4,558.9L213.0,562.3L209.4,565.7L205.8,562.3Z" fill="#4683c8"/>
<path d="M211.5,538.5L215.1,541.9L211.5,545.3L207.9,541.9Z" fill="#4683c8"/>
<path d="M215.6,547.7L219.2,551.1L215.6,554.5L212.0,551.1Z" fill="#4683c8"/>
<path d="M218.6,543.6L222.2,547.0L218.6,550.4L215.0,547.0Z" fill="#4683c8"/>
<path d="M221.7,538.5L225.3,541.9L221.7,545.3L218.1,541.9Z" fill="#4683c8"/>
<path d="M222.7,556.9L226.3,560.3L222.7,563.7L219.1,560.3Z" fill="#4683c8"/>
<path d="M224.8,566.1L228.4,569.5L224.8,572.9L221.2,569.5Z" fill="#4683c8"/>
<path d="M227.9,549.7L231.5,553.1L227.9,556.5L224.3,553.1Z" fill="#4683c8"/>
<path d="M234.0,552.8L237.6,556.2L234.0,559.6L230.4,556.2Z" fill="#4683c8"/>
<path d="M240.1,550.7L243.7,554.1L240.1,557.5L236.5,554.1Z" fill="#4683c8"/>
<path d="M246.3,557.9L249.9,561.3L246.3,564.7L242.7,561.3Z" fill="#4683c8"/>
<path d="M252.4,553.8L256.0,557.2L252.4,560.6L248.8,557.2Z" fill="#4683c8"/>
<path d="M258.6,557.9L262.2,561.3L258.6,564.7L255.0,561.3Z" fill="#4683c8"/>
<path d="M261.6,563.0L265.2,566.4L261.6,569.8L258.0,566.4Z" fill="#4683c8"/>
<path d="M265.7,568.1L269.3,571.5L265.7,574.9L262.1,571.5Z" fill="#4683c8"/>
<path d="M268.8,557.9L272.4,561.3L268.8,564.7L265.2,561.3Z" fill="#4683c8"/>
<path d="M270.8,546.6L274.4,550.0L270.8,553.4L267.2,550.0Z" fill="#4683c8"/>
<path d="M277.0,562.0L280.6,565.4L277.0,568.8L273.4,565.4Z" fill="#4683c8"/>
<path d="M281.1,550.7L284.7,554.1L281.1,557.5L277.5,554.1Z" fill="#4683c8"/>
<path d="M285.2,557.9L288.8,561.3L285.2,564.7L281.6,561.3Z" fill="#4683c8"/>
<path d="M289.3,561.0L292.9,564.4L289.3,567.8L285.7,564.4Z" fill="#4683c8"/>
<path d="M294.4,548.7L298.0,552.1L294.4,555.5L290.8,552.1Z" fill="#4683c8"/>
<path d="M298.5,554.8L302.1,558.2L298.5,561.6L294.9,558.2Z" fill="#4683c8"/>
<path d="M302.6,547.7L306.2,551.1L302.6,554.5L299.0,551.1Z" fill="#4683c8"/>
<path d="M306.7,561.0L310.3,564.4L306.7,567.8L303.1,564.4Z" fill="#4683c8"/>
<path d="M309.8,544.6L313.4,548.0L309.8,551.4L306.2,548.0Z" fill="#4683c8"/>
<path d="M311.8,560.0L315.4,563.4L311.8,566.8L308.2,563.4Z" fill="#4683c8"/>
<path d="M341.0,560.9L344.6,564.3L341.0,567.7L337.4,564.3Z" fill="#4683c8"/>
<path d="M343.6,551.6L347.2,555.0L343.6,558.4L340.0,555.0Z" fill="#4683c8"/>
<path d="M346.2,554.2L349.8,557.6L346.2,561.0L342.6,557.6Z" fill="#4683c8"/>
<path d="M348.8,557.7L352.4,561.1L348.8,564.5L345.2,561.1Z" fill="#4683c8"/>
<path d="M351.4,546.6L355.0,550.0L351.4,553.4L347.8,550.0Z" fill="#4683c8"/>
<path d="M354.0,549.9L357.6,553.3L354.0,556.7L350.4,553.3Z" fill="#4683c8"/>
<path d="M356.6,542.1L360.2,545.5L356.6,548.9L353.0,545.5Z" fill="#4683c8"/>
<path d="M359.2,545.8L362.8,549.2L359.2,552.6L355.6,549.2Z" fill="#4683c8"/>
<path d="M361.8,553.9L365.4,557.3L361.8,560.7L358.2,557.3Z" fill="#4683c8"/>
<path d="M364.4,563.3L368.0,566.7L364.4,570.1L360.8,566.7Z" fill="#4683c8"/>
<path d="M367.0,554.3L370.6,557.7L367.0,561.1L363.4,557.7Z" fill="#4683c8"/>
<path d="M369.6,557.0L373.2,560.4L369.6,563.8L366.0,560.4Z" fill="#4683c8"/>
<path d="M372.2,556.2L375.8,559.6L372.2,563.0L368.6,559.6Z" fill="#4683c8"/>
<path d="M374.8,553.1L378.4,556.5L374.8,559.9L371.2,556.5Z" fill="#4683c8"/>
<path d="M377.4,556.7L381.0,560.1L377.4,563.5L373.8,560.1Z" fill="#4683c8"/>
<path d="M380.0,547.1L383.6,550.5L380.0,553.9L376.4,550.5Z" fill="#4683c8"/>
<path d="M382.6,547.3L386.2,550.7L382.6,554.1L379.0,550.7Z" fill="#4683c8"/>
<path d="M385.2,546.1L388.8,549.5L385.2,552.9L381.6,549.5Z" fill="#4683c8"/>
<path d="M387.8,546.2L391.4,549.6L387.8,553.0L384.2,549.6Z" fill="#4683c8"/>
<path d="M390.4,560.5L394.0,563.9L390.4,567.3L386.8,563.9Z" fill="#4683c8"/>
<path d="M393.0,557.5L396.6,560.9L393.0,564.3L389.4,560.9Z" fill="#4683c8"/>
<path d="M395.6,553.6L399.2,557.0L395.6,560.4L392.0,557.0Z" fill="#4683c8"/>
<path d="M398.2,551.1L401.8,554.5L398.2,557.9L394.6,554.5Z" fill="#4683c8"/>
<path d="M400.8,552.7L404.4,556.1L400.8,559.5L397.2,556.1Z" fill="#4683c8"/>
<path d="M403.4,555.1L407.0,558.5L403.4,561.9L399.8,558.5Z" fill="#4683c8"/>
<path d="M406.0,555.6L409.6,559.0L406.0,562.4L402.4,559.0Z" fill="#4683c8"/>
<path d="M408.6,557.7L412.2,561.1L408.6,564.5L405.0,561.1Z" fill="#4683c8"/>
<path d="M411.2,556.6L414.8,560.0L411.2,563.4L407.6,560.0Z" fill="#4683c8"/>
<path d="M413.8,553.4L417.4,556.8L413.8,560.2L410.2,556.8Z" fill="#4683c8"/>
<path d="M416.4,544.0L420.0,547.4L416.4,550.8L412.8,547.4Z" fill="#4683c8"/>
<path d="M419.0,542.5L422.6,545.9L419.0,549.3L415.4,545.9Z" fill="#4683c8"/>
<path d="M421.6,550.9L425.2,554.3L421.6,557.7L418.0,554.3Z" fill="#4683c8"/>
<path d="M424.2,556.4L427.8,559.8L424.2,563.2L420.6,559.8Z" fill="#4683c8"/>
<path d="M426.8,557.2L430.4,560.6L426.8,564.0L423.2,560.6Z" fill="#4683c8"/>
<path d="M429.4,557.5L433.0,560.9L429.4,564.3L425.8,560.9Z" fill="#4683c8"/>
<path d="M432.0,563.9L435.6,567.3L432.0,570.7L428.4,567.3Z" fill="#4683c8"/>
<path d="M434.6,558.5L438.2,561.9L434.6,565.3L431.0,561.9Z" fill="#4683c8"/>
<path d="M437.2,551.2L440.8,554.6L437.2,558.0L433.6,554.6Z" fill="#4683c8"/>
<path d="M439.8,551.8L443.4,555.2L439.8,558.6L436.2,555.2Z" fill="#4683c8"/>
<path d="M442.4,558.2L446.0,561.6L442.4,565.0L438.8,561.6Z" fill="#4683c8"/>
<path d="M445.0,556.8L448.6,560.2L445.0,563.6L441.4,560.2Z" fill="#4683c8"/>
<path d="M447.6,558.0L451.2,561.4L447.6,564.8L444.0,561.4Z" fill="#4683c8"/>
<path d="M450.2,549.6L453.8,553.0L450.2,556.4L446.6,553.0Z" fill="#4683c8"/>
<path d="M452.8,562.0L456.4,565.4L452.8,568.8L449.2,565.4Z" fill="#4683c8"/>
<path d="M455.4,569.6L459.0,573.0L455.4,576.4L451.8,573.0Z" fill="#4683c8"/>
<path d="M458.0,567.5L461.6,570.9L458.0,574.3L454.4,570.9Z" fill="#4683c8"/>
<path d="M460.6,557.1L464.2,560.5L460.6,563.9L457.0,560.5Z" fill="#4683c8"/>
<path d="M463.2,559.3L466.8,562.7L463.2,566.1L459.6,562.7Z" fill="#4683c8"/>
<path d="M465.8,556.6L469.4,560.0L465.8,563.4L462.2,560.0Z" fill="#4683c8"/>
<path d="M468.4,551.4L472.0,554.8L468.4,558.2L464.8,554.8Z" fill="#4683c8"/>
<path d="M471.0,552.3L474.6,555.7L471.0,559.1L467.4,555.7Z" fill="#4683c8"/>
<path d="M473.6,551.4L477.2,554.8L473.6,558.2L470.0,554.8Z" fill="#4683c8"/>
<path d="M476.2,556.9L479.8,560.3L476.2,563.7L472.6,560.3Z" fill="#4683c8"/>
<path d="M478.8,559.7L482.4,563.1L478.8,566.5L475.2,563.1Z" fill="#4683c8"/>
<path d="M340.6,561.9L344.2,565.3L340.6,568.7L337.0,565.3Z" fill="#4683c8"/>
<path d="M342.3,553.3L345.9,556.7L342.3,560.1L338.7,556.7Z" fill="#4683c8"/>
<path d="M345.7,548.2L349.3,551.6L345.7,555.0L342.1,551.6Z" fill="#4683c8"/>
<path d="M348.3,555.0L351.9,558.4L348.3,561.8L344.7,558.4Z" fill="#4683c8"/>
<path d="M352.6,549.9L356.2,553.3L352.6,556.7L349.0,553.3Z" fill="#4683c8"/>
<path d="M355.1,560.2L358.7,563.6L355.1,567.0L351.5,563.6Z" fill="#4683c8"/>
<path d="M356.9,543.9L360.5,547.3L356.9,550.7L353.3,547.3Z" fill="#4683c8"/>
<path d="M359.4,541.3L363.0,544.7L359.4,548.1L355.8,544.7Z" fill="#4683c8"/>
<path d="M362.9,564.5L366.5,567.9L362.9,571.3L359.3,567.9Z" fill="#4683c8"/>
<path d="M364.6,555.0L368.2,558.4L364.6,561.8L361.0,558.4Z" fill="#4683c8"/>
<path d="M365.4,567.9L369.0,571.3L365.4,574.7L361.8,571.3Z" fill="#4683c8"/>
<path d="M369.7,553.3L373.3,556.7L369.7,560.1L366.1,556.7Z" fill="#4683c8"/>
<path d="M371.4,556.7L375.0,560.1L371.4,563.5L367.8,560.1Z" fill="#4683c8"/>
<path d="M374.9,554.2L378.5,557.6L374.9,561.0L371.3,557.6Z" fill="#4683c8"/>
<path d="M378.3,549.9L381.9,553.3L378.3,556.7L374.7,553.3Z" fill="#4683c8"/>
<path d="M386.9,549.0L390.5,552.4L386.9,555.8L383.3,552.4Z" fill="#4683c8"/>
<path d="M390.3,546.5L393.9,549.9L390.3,553.3L386.7,549.9Z" fill="#4683c8"/>
<path d="M391.1,558.5L394.7,561.9L391.1,565.3L387.5,561.9Z" fill="#4683c8"/>
<path d="M395.4,555.9L399.0,559.3L395.4,562.7L391.8,559.3Z" fill="#4683c8"/>
<path d="M397.1,546.5L400.7,549.9L397.1,553.3L393.5,549.9Z" fill="#4683c8"/>
<path d="M400.6,553.3L404.2,556.7L400.6,560.1L397.0,556.7Z" fill="#4683c8"/>
<path d="M404.0,553.3L407.6,556.7L404.0,560.1L400.4,556.7Z" fill="#4683c8"/>
<path d="M412.6,555.9L416.2,559.3L412.6,562.7L409.0,559.3Z" fill="#4683c8"/>
<path d="M414.3,541.3L417.9,544.7L414.3,548.1L410.7,544.7Z" fill="#4683c8"/>
<path d="M419.4,544.7L423.0,548.1L419.4,551.5L415.8,548.1Z" fill="#4683c8"/>
<path d="M422.9,550.7L426.5,554.1L422.9,557.5L419.3,554.1Z" fill="#4683c8"/>
<path d="M426.3,555.9L429.9,559.3L426.3,562.7L422.7,559.3Z" fill="#4683c8"/>
<path d="M429.7,559.3L433.3,562.7L429.7,566.1L426.1,562.7Z" fill="#4683c8"/>
<path d="M433.1,561.9L436.7,565.3L433.1,568.7L429.5,565.3Z" fill="#4683c8"/>
<path d="M438.3,549.0L441.9,552.4L438.3,555.8L434.7,552.4Z" fill="#4683c8"/>
<path d="M441.7,541.3L445.3,544.7L441.7,548.1L438.1,544.7Z" fill="#4683c8"/>
<path d="M443.4,555.0L447.0,558.4L443.4,561.8L439.8,558.4Z" fill="#4683c8"/>
<path d="M446.9,557.6L450.5,561.0L446.9,564.4L443.3,561.0Z" fill="#4683c8"/>
<path d="M450.3,549.0L453.9,552.4L450.3,555.8L446.7,552.4Z" fill="#4683c8"/>
<path d="M453.7,561.0L457.3,564.4L453.7,567.8L450.1,564.4Z" fill="#4683c8"/>
<path d="M455.4,566.2L459.0,569.6L455.4,573.0L451.8,569.6Z" fill="#4683c8"/>
<path d="M458.9,558.5L462.5,561.9L458.9,565.3L455.3,561.9Z" fill="#4683c8"/>
<path d="M464.0,556.7L467.6,560.1L464.0,563.5L460.4,560.1Z" fill="#4683c8"/>
<path d="M470.9,550.7L474.5,554.1L470.9,557.5L467.3,554.1Z" fill="#4683c8"/>
<path d="M474.3,555.0L477.9,558.4L474.3,561.8L470.7,558.4Z" fill="#4683c8"/>
<path d="M479.4,558.5L483.0,561.9L479.4,565.3L475.8,561.9Z" fill="#4683c8"/>
<path d="M114.2,550L311.8,560.7" stroke="#111" stroke-width="1.5"/>
<ellipse cx="118.0" cy="679.7" rx="2.8" ry="2.6" fill="#f5913a"/>
<ellipse cx="119.5" cy="685.6" rx="2.8" ry="2.6" fill="#f5913a"/>
<ellipse cx="121.0" cy="685.3" rx="2.8" ry="2.6" fill="#f5913a"/>
<ellipse cx="122.5" cy="685.8" rx="2.8" ry="2.6" fill="#f5913a"/>
<ellipse cx="124.0" cy="687.2" rx="2.8" ry="2.6" fill="#f5913a"/>
<ellipse cx="125.5" cy="688.6" rx="2.8" ry="2.6" fill="#f5913a"/>
<ellipse cx="127.0" cy="690.6" rx="2.8" ry="2.6" fill="#f5913a"/>
<ellipse cx="128.5" cy="696.3" rx="2.8" ry="2.6" fill="#f5913a"/>
<ellipse cx="130.0" cy="695.5" rx="2.8" ry="2.6" fill="#f5913a"/>
<ellipse cx="131.5" cy="696.0" rx="2.8" ry="2.6" fill="#f5913a"/>
<ellipse cx="133.0" cy="697.7" rx="2.8" ry="2.6" fill="#f5913a"/>
<ellipse cx="134.5" cy="697.4" rx="2.8" ry="2.6" fill="#f5913a"/>
<ellipse cx="136.0" cy="697.2" rx="2.8" ry="2.6" fill="#f5913a"/>
<ellipse cx="137.5" cy="700.1" rx="2.8" ry="2.6" fill="#f5913a"/>
<ellipse cx="139.0" cy="699.3" rx="2.8" ry="2.6" fill="#f5913a"/>
<ellipse cx="140.5" cy="696.8" rx="2.8" ry="2.6" fill="#f5913a"/>
<ellipse cx="142.0" cy="698.2" rx="2.8" ry="2.6" fill="#f5913a"/>
<ellipse cx="143.5" cy="700.7" rx="2.8" ry="2.6" fill="#f5913a"/>
<ellipse cx="145.0" cy="700.0" rx="2.8" ry="2.6" fill="#f5913a"/>
<ellipse cx="146.5" cy="702.1" rx="2.8" ry="2.6" fill="#f5913a"/>
<ellipse cx="148.0" cy="701.7" rx="2.8" ry="2.6" fill="#f5913a"/>
<ellipse cx="149.5" cy="704.1" rx="2.8" ry="2.6" fill="#f5913a"/>
<ellipse cx="151.0" cy="706.5" rx="2.8" ry="2.6" fill="#f5913a"/>
<ellipse cx="152.5" cy="705.8" rx="2.8" ry="2.6" fill="#f5913a"/>
<ellipse cx="154.0" cy="704.4" rx="2.8" ry="2.6" fill="#f5913a"/>
<ellipse cx="155.5" cy="707.6" rx="2.8" ry="2.6" fill="#f5913a"/>
<ellipse cx="157.0" cy="708.4" rx="2.8" ry="2.6" fill="#f5913a"/>
<ellipse cx="158.5" cy="707.9" rx="2.8" ry="2.6" fill="#f5913a"/>
<ellipse cx="160.0" cy="707.0" rx="2.8" ry="2.6" fill="#f5913a"/>
<ellipse cx="161.5" cy="707.1" rx="2.8" ry="2.6" fill="#f5913a"/>
<ellipse cx="163.0" cy="705.3" rx="2.8" ry="2.6" fill="#f5913a"/>
<ellipse cx="164.5" cy="710.3" rx="2.8" ry="2.6" fill="#f5913a"/>
<ellipse cx="166.0" cy="704.8" rx="2.8" ry="2.6" fill="#f5913a"/>
<ellipse cx="167.5" cy="710.6" rx="2.8" ry="2.6" fill="#f5913a"/>
<ellipse cx="169.0" cy="708.7" rx="2.8" ry="2.6" fill="#f5913a"/>
<ellipse cx="170.5" cy="704.0" rx="2.8" ry="2.6" fill="#f5913a"/>
<ellipse cx="172.0" cy="700.7" rx="2.8" ry="2.6" fill="#f5913a"/>
<ellipse cx="173.5" cy="699.1" rx="2.8" ry="2.6" fill="#f5913a"/>
<ellipse cx="175.0" cy="698.8" rx="2.8" ry="2.6" fill="#f5913a"/>
<ellipse cx="176.5" cy="704.1" rx="2.8" ry="2.6" fill="#f5913a"/>
<ellipse cx="178.0" cy="704.7" rx="2.8" ry="2.6" fill="#f5913a"/>
<ellipse cx="179.5" cy="704.5" rx="2.8" ry="2.6" fill="#f5913a"/>
<ellipse cx="181.0" cy="701.9" rx="2.8" ry="2.6" fill="#f5913a"/>
<ellipse cx="182.5" cy="706.9" rx="2.8" ry="2.6" fill="#f5913a"/>
<ellipse cx="184.0" cy="706.2" rx="2.8" ry="2.6" fill="#f5913a"/>
<ellipse cx="185.5" cy="705.7" rx="2.8" ry="2.6" fill="#f5913a"/>
<ellipse cx="187.0" cy="708.7" rx="2.8" ry="2.6" fill="#f5913a"/>
<ellipse cx="188.5" cy="707.1" rx="2.8" ry="2.6" fill="#f5913a"/>
<ellipse cx="190.0" cy="708.8" rx="2.8" ry="2.6" fill="#f5913a"/>
<ellipse cx="191.5" cy="710.1" rx="2.8" ry="2.6" fill="#f5913a"/>
<ellipse cx="193.0" cy="712.7" rx="2.8" ry="2.6" fill="#f5913a"/>
<ellipse cx="194.5" cy="711.7" rx="2.8" ry="2.6" fill="#f5913a"/>
<ellipse cx="196.0" cy="714.9" rx="2.8" ry="2.6" fill="#f5913a"/>
<ellipse cx="197.5" cy="712.1" rx="2.8" ry="2.6" fill="#f5913a"/>
<ellipse cx="199.0" cy="712.5" rx="2.8" ry="2.6" fill="#f5913a"/>
<ellipse cx="200.5" cy="710.5" rx="2.8" ry="2.6" fill="#f5913a"/>
<ellipse cx="202.0" cy="711.2" rx="2.8" ry="2.6" fill="#f5913a"/>
<ellipse cx="203.5" cy="713.5" rx="2.8" ry="2.6" fill="#f5913a"/>
<ellipse cx="205.0" cy="711.9" rx="2.8" ry="2.6" fill="#f5913a"/>
<ellipse cx="206.5" cy="710.9" rx="2.8" ry="2.6" fill="#f5913a"/>
<ellipse cx="208.0" cy="711.8" rx="2.8" ry="2.6" fill="#f5913a"/>
<ellipse cx="209.5" cy="714.3" rx="2.8" ry="2.6" fill="#f5913a"/>
<ellipse cx="211.0" cy="711.5" rx="2.8" ry="2.6" fill="#f5913a"/>
<ellipse cx="212.5" cy="708.8" rx="2.8" ry="2.6" fill="#f5913a"/>
<ellipse cx="214.0" cy="708.7" rx="2.8" ry="2.6" fill="#f5913a"/>
<ellipse cx="215.5" cy="708.7" rx="2.8" ry="2.6" fill="#f5913a"/>
<ellipse cx="217.0" cy="708.6" rx="2.8" ry="2.6" fill="#f5913a"/>
<ellipse cx="218.5" cy="718.9" rx="2.8" ry="2.6" fill="#f5913a"/>
<ellipse cx="220.0" cy="708.5" rx="2.8" ry="2.6" fill="#f5913a"/>
<ellipse cx="221.5" cy="707.9" rx="2.8" ry="2.6" fill="#f5913a"/>
<ellipse cx="223.0" cy="707.3" rx="2.8" ry="2.6" fill="#f5913a"/>
<ellipse cx="224.5" cy="707.5" rx="2.8" ry="2.6" fill="#f5913a"/>
<ellipse cx="226.0" cy="709.0" rx="2.8" ry="2.6" fill="#f5913a"/>
<ellipse cx="227.5" cy="711.2" rx="2.8" ry="2.6" fill="#f5913a"/>
<ellipse cx="229.0" cy="711.0" rx="2.8" ry="2.6" fill="#f5913a"/>
<ellipse cx="230.5" cy="712.9" rx="2.8" ry="2.6" fill="#f5913a"/>
<ellipse cx="232.0" cy="712.7" rx="2.8" ry="2.6" fill="#f5913a"/>
<ellipse cx="233.5" cy="714.0" rx="2.8" ry="2.6" fill="#f5913a"/>
<ellipse cx="235.0" cy="711.1" rx="2.8" ry="2.6" fill="#f5913a"/>
<ellipse cx="236.5" cy="714.8" rx="2.8" ry="2.6" fill="#f5913a"/>
<ellipse cx="238.0" cy="714.7" rx="2.8" ry="2.6" fill="#f5913a"/>
<ellipse cx="239.5" cy="713.1" rx="2.8" ry="2.6" fill="#f5913a"/>
<ellipse cx="241.0" cy="717.2" rx="2.8" ry="2.6" fill="#f5913a"/>
<ellipse cx="242.5" cy="714.0" rx="2.8" ry="2.6" fill="#f5913a"/>
<ellipse cx="244.0" cy="713.4" rx="2.8" ry="2.6" fill="#f5913a"/>
<ellipse cx="245.5" cy="715.1" rx="2.8" ry="2.6" fill="#f5913a"/>
<ellipse cx="247.0" cy="713.7" rx="2.8" ry="2.6" fill="#f5913a"/>
<ellipse cx="248.5" cy="714.6" rx="2.8" ry="2.6" fill="#f5913a"/>
<ellipse cx="250.0" cy="713.4" rx="2.8" ry="2.6" fill="#f5913a"/>
<ellipse cx="251.5" cy="712.4" rx="2.8" ry="2.6" fill="#f5913a"/>
<ellipse cx="253.0" cy="712.1" rx="2.8" ry="2.6" fill="#f5913a"/>
<ellipse cx="254.5" cy="715.1" rx="2.8" ry="2.6" fill="#f5913a"/>
<ellipse cx="256.0" cy="713.1" rx="2.8" ry="2.6" fill="#f5913a"/>
<ellipse cx="257.5" cy="708.3" rx="2.8" ry="2.6" fill="#f5913a"/>
<ellipse cx="259.0" cy="713.9" rx="2.8" ry="2.6" fill="#f5913a"/>
<ellipse cx="260.5" cy="716.0" rx="2.8" ry="2.6" fill="#f5913a"/>
<ellipse cx="262.0" cy="707.1" rx="2.8" ry="2.6" fill="#f5913a"/>
<ellipse cx="263.5" cy="706.9" rx="2.8" ry="2.6" fill="#f5913a"/>
<ellipse cx="265.0" cy="713.1" rx="2.8" ry="2.6" fill="#f5913a"/>
<ellipse cx="266.5" cy="709.4" rx="2.8" ry="2.6" fill="#f5913a"/>
<ellipse cx="268.0" cy="708.6" rx="2.8" ry="2.6" fill="#f5913a"/>
<ellipse cx="269.5" cy="703.2" rx="2.8" ry="2.6" fill="#f5913a"/>
<ellipse cx="271.0" cy="702.1" rx="2.8" ry="2.6" fill="#f5913a"/>
<ellipse cx="272.5" cy="704.7" rx="2.8" ry="2.6" fill="#f5913a"/>
<ellipse cx="274.0" cy="706.0" rx="2.8" ry="2.6" fill="#f5913a"/>
<ellipse cx="275.5" cy="704.3" rx="2.8" ry="2.6" fill="#f5913a"/>
<ellipse cx="277.0" cy="701.7" rx="2.8" ry="2.6" fill="#f5913a"/>
<ellipse cx="278.5" cy="701.8" rx="2.8" ry="2.6" fill="#f5913a"/>
<ellipse cx="280.0" cy="713.4" rx="2.8" ry="2.6" fill="#f5913a"/>
<ellipse cx="281.5" cy="713.7" rx="2.8" ry="2.6" fill="#f5913a"/>
<ellipse cx="283.0" cy="713.2" rx="2.8" ry="2.6" fill="#f5913a"/>
<ellipse cx="284.5" cy="713.2" rx="2.8" ry="2.6" fill="#f5913a"/>
<ellipse cx="286.0" cy="720.0" rx="2.8" ry="2.6" fill="#f5913a"/>
<ellipse cx="287.5" cy="717.0" rx="2.8" ry="2.6" fill="#f5913a"/>
<ellipse cx="289.0" cy="718.0" rx="2.8" ry="2.6" fill="#f5913a"/>
<ellipse cx="290.5" cy="721.4" rx="2.8" ry="2.6" fill="#f5913a"/>
<ellipse cx="292.0" cy="719.2" rx="2.8" ry="2.6" fill="#f5913a"/>
<ellipse cx="293.5" cy="713.4" rx="2.8" ry="2.6" fill="#f5913a"/>
<ellipse cx="295.0" cy="713.9" rx="2.8" ry="2.6" fill="#f5913a"/>
<ellipse cx="296.5" cy="714.0" rx="2.8" ry="2.6" fill="#f5913a"/>
<ellipse cx="298.0" cy="711.1" rx="2.8" ry="2.6" fill="#f5913a"/>
<ellipse cx="299.5" cy="712.2" rx="2.8" ry="2.6" fill="#f5913a"/>
<ellipse cx="301.0" cy="713.6" rx="2.8" ry="2.6" fill="#f5913a"/>
<ellipse cx="302.5" cy="715.1" rx="2.8" ry="2.6" fill="#f5913a"/>
<ellipse cx="304.0" cy="712.3" rx="2.8" ry="2.6" fill="#f5913a"/>
<ellipse cx="305.5" cy="716.3" rx="2.8" ry="2.6" fill="#f5913a"/>
<ellipse cx="307.0" cy="718.7" rx="2.8" ry="2.6" fill="#f5913a"/>
<ellipse cx="308.5" cy="715.5" rx="2.8" ry="2.6" fill="#f5913a"/>
<ellipse cx="310.0" cy="716.7" rx="2.8" ry="2.6" fill="#f5913a"/>
<ellipse cx="117.7" cy="678.9" rx="2.8" ry="2.6" fill="#f5913a"/>
<ellipse cx="119.3" cy="685.5" rx="2.8" ry="2.6" fill="#f5913a"/>
<ellipse cx="122.4" cy="679.7" rx="2.8" ry="2.6" fill="#f5913a"/>
<ellipse cx="123.4" cy="687.1" rx="2.8" ry="2.6" fill="#f5913a"/>
<ellipse cx="125.5" cy="692.6" rx="2.8" ry="2.6" fill="#f5913a"/>
<ellipse cx="127.5" cy="701.9" rx="2.8" ry="2.6" fill="#f5913a"/>
<ellipse cx="129.6" cy="690.6" rx="2.8" ry="2.6" fill="#f5913a"/>
<ellipse cx="132.6" cy="695.7" rx="2.8" ry="2.6" fill="#f5913a"/>
<ellipse cx="137.8" cy="698.8" rx="2.8" ry="2.6" fill="#f5913a"/>
<ellipse cx="141.9" cy="701.9" rx="2.8" ry="2.6" fill="#f5913a"/>
<ellipse cx="143.9" cy="697.8" rx="2.8" ry="2.6" fill="#f5913a"/>
<ellipse cx="148.0" cy="704.9" rx="2.8" ry="2.6" fill="#f5913a"/>
<ellipse cx="151.1" cy="699.8" rx="2.8" ry="2.6" fill="#f5913a"/>
<ellipse cx="153.1" cy="708.0" rx="2.8" ry="2.6" fill="#f5913a"/>
<ellipse cx="158.2" cy="706.0" rx="2.8" ry="2.6" fill="#f5913a"/>
<ellipse cx="162.3" cy="695.7" rx="2.8" ry="2.6" fill="#f5913a"/>
<ellipse cx="164.4" cy="709.0" rx="2.8" ry="2.6" fill="#f5913a"/>
<ellipse cx="166.4" cy="702.9" rx="2.8" ry="2.6" fill="#f5913a"/>
<ellipse cx="168.5" cy="709.0" rx="2.8" ry="2.6" fill="#f5913a"/>
<ellipse cx="170.5" cy="697.8" rx="2.8" ry="2.6" fill="#f5913a"/>
<ellipse cx="176.7" cy="700.8" rx="2.8" ry="2.6" fill="#f5913a"/>
<ellipse cx="180.8" cy="706.0" rx="2.8" ry="2.6" fill="#f5913a"/>
<ellipse cx="184.9" cy="701.9" rx="2.8" ry="2.6" fill="#f5913a"/>
<ellipse cx="186.9" cy="708.0" rx="2.8" ry="2.6" fill="#f5913a"/>
<ellipse cx="193.0" cy="709.0" rx="2.8" ry="2.6" fill="#f5913a"/>
<ellipse cx="195.1" cy="713.1" rx="2.8" ry="2.6" fill="#f5913a"/>
<ellipse cx="201.2" cy="711.1" rx="2.8" ry="2.6" fill="#f5913a"/>
<ellipse cx="207.4" cy="713.1" rx="2.8" ry="2.6" fill="#f5913a"/>
<ellipse cx="211.5" cy="709.0" rx="2.8" ry="2.6" fill="#f5913a"/>
<ellipse cx="217.6" cy="710.0" rx="2.8" ry="2.6" fill="#f5913a"/>
<ellipse cx="222.7" cy="719.3" rx="2.8" ry="2.6" fill="#f5913a"/>
<ellipse cx="223.8" cy="709.0" rx="2.8" ry="2.6" fill="#f5913a"/>
<ellipse cx="227.9" cy="704.9" rx="2.8" ry="2.6" fill="#f5913a"/>
<ellipse cx="232.0" cy="713.1" rx="2.8" ry="2.6" fill="#f5913a"/>
<ellipse cx="236.0" cy="715.2" rx="2.8" ry="2.6" fill="#f5913a"/>
<ellipse cx="238.1" cy="708.0" rx="2.8" ry="2.6" fill="#f5913a"/>
<ellipse cx="240.1" cy="720.3" rx="2.8" ry="2.6" fill="#f5913a"/>
<ellipse cx="244.2" cy="715.2" rx="2.8" ry="2.6" fill="#f5913a"/>
<ellipse cx="248.3" cy="709.0" rx="2.8" ry="2.6" fill="#f5913a"/>
<ellipse cx="252.4" cy="714.1" rx="2.8" ry="2.6" fill="#f5913a"/>
<ellipse cx="258.6" cy="707.0" rx="2.8" ry="2.6" fill="#f5913a"/>
<ellipse cx="262.7" cy="714.1" rx="2.8" ry="2.6" fill="#f5913a"/>
<ellipse cx="266.8" cy="708.0" rx="2.8" ry="2.6" fill="#f5913a"/>
<ellipse cx="270.8" cy="703.9" rx="2.8" ry="2.6" fill="#f5913a"/>
<ellipse cx="273.9" cy="700.8" rx="2.8" ry="2.6" fill="#f5913a"/>
<ellipse cx="278.0" cy="703.9" rx="2.8" ry="2.6" fill="#f5913a"/>
<ellipse cx="283.1" cy="715.2" rx="2.8" ry="2.6" fill="#f5913a"/>
<ellipse cx="287.2" cy="712.1" rx="2.8" ry="2.6" fill="#f5913a"/>
<ellipse cx="287.2" cy="719.3" rx="2.8" ry="2.6" fill="#f5913a"/>
<ellipse cx="290.3" cy="723.4" rx="2.8" ry="2.6" fill="#f5913a"/>
<ellipse cx="292.3" cy="708.0" rx="2.8" ry="2.6" fill="#f5913a"/>
<ellipse cx="297.5" cy="712.1" rx="2.8" ry="2.6" fill="#f5913a"/>
<ellipse cx="302.6" cy="713.1" rx="2.8" ry="2.6" fill="#f5913a"/>
<ellipse cx="305.7" cy="717.2" rx="2.8" ry="2.6" fill="#f5913a"/>
<ellipse cx="308.7" cy="714.1" rx="2.8" ry="2.6" fill="#f5913a"/>
<ellipse cx="309.8" cy="729.1" rx="2.8" ry="2.6" fill="#f5913a"/>
<ellipse cx="340.6" cy="679.7" rx="2.8" ry="2.6" fill="#f5913a"/>
<ellipse cx="343.1" cy="682.3" rx="2.8" ry="2.6" fill="#f5913a"/>
<ellipse cx="344.9" cy="687.4" rx="2.8" ry="2.6" fill="#f5913a"/>
<ellipse cx="347.4" cy="690.0" rx="2.8" ry="2.6" fill="#f5913a"/>
<ellipse cx="350.9" cy="691.7" rx="2.8" ry="2.6" fill="#f5913a"/>
<ellipse cx="352.6" cy="701.1" rx="2.8" ry="2.6" fill="#f5913a"/>
<ellipse cx="356.0" cy="696.9" rx="2.8" ry="2.6" fill="#f5913a"/>
<ellipse cx="359.4" cy="696.9" rx="2.8" ry="2.6" fill="#f5913a"/>
<ellipse cx="361.1" cy="702.0" rx="2.8" ry="2.6" fill="#f5913a"/>
<ellipse cx="365.4" cy="698.6" rx="2.8" ry="2.6" fill="#f5913a"/>
<ellipse cx="368.0" cy="705.4" rx="2.8" ry="2.6" fill="#f5913a"/>
<ellipse cx="374.0" cy="702.0" rx="2.8" ry="2.6" fill="#f5913a"/>
<ellipse cx="376.6" cy="672.0" rx="2.8" ry="2.6" fill="#f5913a"/>
<ellipse cx="378.3" cy="679.7" rx="2.8" ry="2.6" fill="#f5913a"/>
<ellipse cx="385.1" cy="692.6" rx="2.8" ry="2.6" fill="#f5913a"/>
<ellipse cx="386.9" cy="697.7" rx="2.8" ry="2.6" fill="#f5913a"/>
<ellipse cx="388.6" cy="687.4" rx="2.8" ry="2.6" fill="#f5913a"/>
<ellipse cx="389.4" cy="680.6" rx="2.8" ry="2.6" fill="#f5913a"/>
<ellipse cx="392.0" cy="687.4" rx="2.8" ry="2.6" fill="#f5913a"/>
<ellipse cx="393.7" cy="711.4" rx="2.8" ry="2.6" fill="#f5913a"/>
<ellipse cx="395.4" cy="702.0" rx="2.8" ry="2.6" fill="#f5913a"/>
<ellipse cx="397.1" cy="708.0" rx="2.8" ry="2.6" fill="#f5913a"/>
<ellipse cx="398.9" cy="725.1" rx="2.8" ry="2.6" fill="#f5913a"/>
<ellipse cx="400.6" cy="714.9" rx="2.8" ry="2.6" fill="#f5913a"/>
<ellipse cx="403.1" cy="716.6" rx="2.8" ry="2.6" fill="#f5913a"/>
<ellipse cx="411.7" cy="703.7" rx="2.8" ry="2.6" fill="#f5913a"/>
<ellipse cx="412.6" cy="686.6" rx="2.8" ry="2.6" fill="#f5913a"/>
<ellipse cx="416.0" cy="691.7" rx="2.8" ry="2.6" fill="#f5913a"/>
<ellipse cx="417.7" cy="694.3" rx="2.8" ry="2.6" fill="#f5913a"/>
<ellipse cx="419.4" cy="699.4" rx="2.8" ry="2.6" fill="#f5913a"/>
<ellipse cx="422.9" cy="701.1" rx="2.8" ry="2.6" fill="#f5913a"/>
<ellipse cx="424.6" cy="704.6" rx="2.8" ry="2.6" fill="#f5913a"/>
<ellipse cx="426.3" cy="708.0" rx="2.8" ry="2.6" fill="#f5913a"/>
<ellipse cx="427.1" cy="711.4" rx="2.8" ry="2.6" fill="#f5913a"/>
<ellipse cx="429.7" cy="716.6" rx="2.8" ry="2.6" fill="#f5913a"/>
<ellipse cx="431.4" cy="708.0" rx="2.8" ry="2.6" fill="#f5913a"/>
<ellipse cx="433.1" cy="714.9" rx="2.8" ry="2.6" fill="#f5913a"/>
<ellipse cx="438.3" cy="711.4" rx="2.8" ry="2.6" fill="#f5913a"/>
<ellipse cx="443.4" cy="711.4" rx="2.8" ry="2.6" fill="#f5913a"/>
<ellipse cx="447.7" cy="726.9" rx="2.8" ry="2.6" fill="#f5913a"/>
<ellipse cx="448.6" cy="720.0" rx="2.8" ry="2.6" fill="#f5913a"/>
<ellipse cx="452.0" cy="710.6" rx="2.8" ry="2.6" fill="#f5913a"/>
<ellipse cx="455.4" cy="716.6" rx="2.8" ry="2.6" fill="#f5913a"/>
<ellipse cx="458.9" cy="716.6" rx="2.8" ry="2.6" fill="#f5913a"/>
<ellipse cx="462.3" cy="723.4" rx="2.8" ry="2.6" fill="#f5913a"/>
<ellipse cx="464.9" cy="690.9" rx="2.8" ry="2.6" fill="#f5913a"/>
<ellipse cx="468.3" cy="694.3" rx="2.8" ry="2.6" fill="#f5913a"/>
<ellipse cx="471.7" cy="697.7" rx="2.8" ry="2.6" fill="#f5913a"/>
<ellipse cx="474.3" cy="701.1" rx="2.8" ry="2.6" fill="#f5913a"/>
<ellipse cx="475.1" cy="696.0" rx="2.8" ry="2.6" fill="#f5913a"/>
<ellipse cx="476.9" cy="701.1" rx="2.8" ry="2.6" fill="#f5913a"/>
<ellipse cx="344.0" cy="684.8" rx="2.8" ry="2.6" fill="#f5913a"/>
<ellipse cx="354.3" cy="699.0" rx="2.8" ry="2.6" fill="#f5913a"/>
<ellipse cx="360.2" cy="699.5" rx="2.8" ry="2.6" fill="#f5913a"/>
<ellipse cx="363.2" cy="700.3" rx="2.8" ry="2.6" fill="#f5913a"/>
<ellipse cx="386.0" cy="695.2" rx="2.8" ry="2.6" fill="#f5913a"/>
<ellipse cx="395.4" cy="709.7" rx="2.8" ry="2.6" fill="#f5913a"/>
<ellipse cx="418.5" cy="696.8" rx="2.8" ry="2.6" fill="#f5913a"/>
<ellipse cx="429.2" cy="709.7" rx="2.8" ry="2.6" fill="#f5913a"/>
<ellipse cx="440.9" cy="711.4" rx="2.8" ry="2.6" fill="#f5913a"/>
<ellipse cx="466.6" cy="692.6" rx="2.8" ry="2.6" fill="#f5913a"/>
<ellipse cx="470.0" cy="696.0" rx="2.8" ry="2.6" fill="#f5913a"/>
<ellipse cx="476.0" cy="698.5" rx="2.8" ry="2.6" fill="#f5913a"/>
<path d="M117.3,697.4L309.8,716.8" stroke="#111" stroke-width="1.5"/>
<text x="0.90" y="15.70" font-size="20.29" textLength="19.10" lengthAdjust="spacingAndGlyphs" fill="#1a1a1a" stroke="#fff" stroke-width="0.22">A)</text>
<text x="0.90" y="476.30" font-size="20.14" textLength="17.70" lengthAdjust="spacingAndGlyphs" fill="#1a1a1a" stroke="#fff" stroke-width="0.22">B)</text>
<text x="0.90" y="630.90" font-size="18.31" textLength="18.60" lengthAdjust="spacingAndGlyphs" fill="#1a1a1a" stroke="#fff" stroke-width="0.22">C)</text>
<text x="109.50" y="28.70" font-size="20.56" textLength="206.88" lengthAdjust="spacingAndGlyphs" fill="#1a1a1a" stroke="#e1e1e1" stroke-width="0.22">Constant Parameters</text>
<text x="57.90" y="46.90" font-size="19.44" textLength="25.25" lengthAdjust="spacingAndGlyphs" fill="#1a1a1a" stroke="#fff" stroke-width="0.22">40</text>
<text x="58.90" y="166.70" font-size="19.86" textLength="24.15" lengthAdjust="spacingAndGlyphs" fill="#1a1a1a" stroke="#fff" stroke-width="0.22">10</text>
<text x="56.70" y="195.30" font-size="19.44" textLength="23.75" lengthAdjust="spacingAndGlyphs" fill="#1a1a1a" stroke="#fff" stroke-width="0.22">40</text>
<text x="57.50" y="312.40" font-size="19.58" textLength="22.85" lengthAdjust="spacingAndGlyphs" fill="#1a1a1a" stroke="#fff" stroke-width="0.22">20</text>
<text x="57.80" y="340.00" font-size="20.14" textLength="25.95" lengthAdjust="spacingAndGlyphs" fill="#1a1a1a" stroke="#fff" stroke-width="0.22">90</text>
<text x="57.50" y="457.90" font-size="19.58" textLength="26.26" lengthAdjust="spacingAndGlyphs" fill="#1a1a1a" stroke="#fff" stroke-width="0.22">40</text>
<text x="62.20" y="489.90" font-size="20.14" textLength="20.54" lengthAdjust="spacingAndGlyphs" fill="#1a1a1a" stroke="#fff" stroke-width="0.22">30</text>
<text x="66.70" y="603.50" font-size="18.73" textLength="9.32" lengthAdjust="spacingAndGlyphs" fill="#1a1a1a" stroke="#fff" stroke-width="0.22">0</text>
<text x="56.30" y="638.40" font-size="19.30" textLength="30.37" lengthAdjust="spacingAndGlyphs" fill="#1a1a1a" stroke="#fff" stroke-width="0.22">250</text>
<text x="56.30" y="756.60" font-size="19.15" textLength="30.37" lengthAdjust="spacingAndGlyphs" fill="#1a1a1a" stroke="#fff" stroke-width="0.22">100</text>
<text transform="translate(47.30,130.30) rotate(-90)" x="0" y="0" font-size="22.61" textLength="50.09" lengthAdjust="spacingAndGlyphs" fill="#1a1a1a" stroke="#fff" stroke-width="0.22">Hip (°)</text>
<text transform="translate(47.20,282.20) rotate(-90)" x="0" y="0" font-size="22.75" textLength="62.09" lengthAdjust="spacingAndGlyphs" fill="#1a1a1a" stroke="#fff" stroke-width="0.22">Knee (°)</text>
<text transform="translate(47.80,429.50) rotate(-90)" x="0" y="0" font-size="22.61" textLength="69.51" lengthAdjust="spacingAndGlyphs" fill="#1a1a1a" stroke="#fff" stroke-width="0.22">Ankle (°)</text>
<text transform="translate(30.90,585.20) rotate(-90)" x="0" y="0" font-size="22.32" textLength="87.77" lengthAdjust="spacingAndGlyphs" fill="#1a1a1a" stroke="#fff" stroke-width="0.22">Clearance</text>
<text transform="translate(58.00,561.10) rotate(-90)" x="0" y="0" font-size="21.74" textLength="45.84" lengthAdjust="spacingAndGlyphs" fill="#1a1a1a" stroke="#fff" stroke-width="0.22">(mm)</text>
<text transform="translate(32.50,740.60) rotate(-90)" x="0" y="0" font-size="22.03" textLength="90.43" lengthAdjust="spacingAndGlyphs" fill="#1a1a1a" stroke="#fff" stroke-width="0.22">Stride Len.</text>
<text transform="translate(59.70,717.50) rotate(-90)" x="0" y="0" font-size="21.74" textLength="45.54" lengthAdjust="spacingAndGlyphs" fill="#1a1a1a" stroke="#fff" stroke-width="0.22">(mm)</text>
<text x="86.90" y="779.00" font-size="19.30" textLength="10.22" lengthAdjust="spacingAndGlyphs" fill="#1a1a1a" stroke="#fff" stroke-width="0.22">0</text>
<text x="157.10" y="779.00" font-size="19.30" textLength="19.84" lengthAdjust="spacingAndGlyphs" fill="#1a1a1a" stroke="#fff" stroke-width="0.22">50</text>
<text x="225.70" y="779.00" font-size="19.30" textLength="29.97" lengthAdjust="spacingAndGlyphs" fill="#1a1a1a" stroke="#fff" stroke-width="0.22">100</text>
<text x="285.70" y="779.00" font-size="19.30" textLength="30.47" lengthAdjust="spacingAndGlyphs" fill="#1a1a1a" stroke="#fff" stroke-width="0.22">150</text>
<text x="330.70" y="779.00" font-size="19.30" textLength="31.17" lengthAdjust="spacingAndGlyphs" fill="#1a1a1a" stroke="#fff" stroke-width="0.22">200</text>
<text x="393.80" y="779.00" font-size="19.30" textLength="30.67" lengthAdjust="spacingAndGlyphs" fill="#1a1a1a" stroke="#fff" stroke-width="0.22">250</text>
<text x="466.30" y="779.00" font-size="19.30" textLength="30.37" lengthAdjust="spacingAndGlyphs" fill="#1a1a1a" stroke="#fff" stroke-width="0.22">300</text>
<text x="255.20" y="807.40" font-size="18.99" textLength="128.84" lengthAdjust="spacingAndGlyphs" fill="#1a1a1a" stroke="#fff" stroke-width="0.22">Trial Number</text>
<rect x="621.7" y="39.8" width="204.4" height="203.8" fill="none" stroke="#333333" stroke-width="1.3"/>
<path d="M658.7,39.8V42.3M658.7,243.6V241.1" stroke="#333333" stroke-width="1"/>
<path d="M695.7,39.8V42.3M695.7,243.6V241.1" stroke="#333333" stroke-width="1"/>
<path d="M732.7,39.8V42.3M732.7,243.6V241.1" stroke="#333333" stroke-width="1"/>
<path d="M769.7,39.8V42.3M769.7,243.6V241.1" stroke="#333333" stroke-width="1"/>
<path d="M806.7,39.8V42.3M806.7,243.6V241.1" stroke="#333333" stroke-width="1"/>
<path d="M621.7,73.7H624.2M826.1,73.7H823.6" stroke="#333333" stroke-width="1"/>
<path d="M621.7,107.7H624.2M826.1,107.7H823.6" stroke="#333333" stroke-width="1"/>
<path d="M621.7,141.6H624.2M826.1,141.6H823.6" stroke="#333333" stroke-width="1"/>
<path d="M621.7,175.5H624.2M826.1,175.5H823.6" stroke="#333333" stroke-width="1"/>
<path d="M621.7,209.4H624.2M826.1,209.4H823.6" stroke="#333333" stroke-width="1"/>
<rect x="845.4" y="39.6" width="205.2" height="204.0" fill="none" stroke="#333333" stroke-width="1.3"/>
<path d="M882.4,39.6V42.1M882.4,243.6V241.1" stroke="#333333" stroke-width="1"/>
<path d="M919.4,39.6V42.1M919.4,243.6V241.1" stroke="#333333" stroke-width="1"/>
<path d="M956.4,39.6V42.1M956.4,243.6V241.1" stroke="#333333" stroke-width="1"/>
<path d="M993.4,39.6V42.1M993.4,243.6V241.1" stroke="#333333" stroke-width="1"/>
<path d="M1030.4,39.6V42.1M1030.4,243.6V241.1" stroke="#333333" stroke-width="1"/>
<path d="M845.4,73.6H847.9M1050.6,73.6H1048.1" stroke="#333333" stroke-width="1"/>
<path d="M845.4,107.6H847.9M1050.6,107.6H1048.1" stroke="#333333" stroke-width="1"/>
<path d="M845.4,141.6H847.9M1050.6,141.6H1048.1" stroke="#333333" stroke-width="1"/>
<path d="M845.4,175.6H847.9M1050.6,175.6H1048.1" stroke="#333333" stroke-width="1"/>
<path d="M845.4,209.6H847.9M1050.6,209.6H1048.1" stroke="#333333" stroke-width="1"/>
<rect x="621.5" y="312.4" width="204.3" height="203.4" fill="none" stroke="#333333" stroke-width="1.3"/>
<path d="M700.0,312.4V314.9M700.0,515.8V513.3" stroke="#333333" stroke-width="1"/>
<path d="M778.5,312.4V314.9M778.5,515.8V513.3" stroke="#333333" stroke-width="1"/>
<path d="M621.5,346.3H624.0M825.8,346.3H823.3" stroke="#333333" stroke-width="1"/>
<path d="M621.5,380.2H624.0M825.8,380.2H823.3" stroke="#333333" stroke-width="1"/>
<path d="M621.5,414.1H624.0M825.8,414.1H823.3" stroke="#333333" stroke-width="1"/>
<path d="M621.5,448.0H624.0M825.8,448.0H823.3" stroke="#333333" stroke-width="1"/>
<path d="M621.5,481.9H624.0M825.8,481.9H823.3" stroke="#333333" stroke-width="1"/>
<rect x="846.0" y="312.6" width="204.6" height="203.0" fill="none" stroke="#333333" stroke-width="1.3"/>
<path d="M924.5,312.6V315.1M924.5,515.6V513.1" stroke="#333333" stroke-width="1"/>
<path d="M1002.9,312.6V315.1M1002.9,515.6V513.1" stroke="#333333" stroke-width="1"/>
<path d="M846.0,346.3H848.5M1050.6,346.3H1048.1" stroke="#333333" stroke-width="1"/>
<path d="M846.0,380.2H848.5M1050.6,380.2H1048.1" stroke="#333333" stroke-width="1"/>
<path d="M846.0,414.1H848.5M1050.6,414.1H1048.1" stroke="#333333" stroke-width="1"/>
<path d="M846.0,448.0H848.5M1050.6,448.0H1048.1" stroke="#333333" stroke-width="1"/>
<path d="M846.0,481.9H848.5M1050.6,481.9H1048.1" stroke="#333333" stroke-width="1"/>
<text x="540.50" y="19.00" font-size="20.58" textLength="19.00" lengthAdjust="spacingAndGlyphs" fill="#1a1a1a" stroke="#fff" stroke-width="0.22">D)</text>
<text x="541.00" y="304.00" font-size="21.30" textLength="14.40" lengthAdjust="spacingAndGlyphs" fill="#1a1a1a" stroke="#fff" stroke-width="0.22">E)</text>
<text x="671.00" y="25.70" font-size="20.72" textLength="90.83" lengthAdjust="spacingAndGlyphs" fill="#1a1a1a" stroke="#fff" stroke-width="0.22">Initial Trial</text>
<text x="892.30" y="26.00" font-size="20.99" textLength="105.23" lengthAdjust="spacingAndGlyphs" fill="#1a1a1a" stroke="#fff" stroke-width="0.22">385 m Later</text>
<text x="646.00" y="78.70" font-size="21.74" textLength="93.29" lengthAdjust="spacingAndGlyphs" fill="#1a1a1a" stroke="#fff" stroke-width="0.22">ACC= 0.58</text>
<text x="868.70" y="80.30" font-size="21.16" textLength="92.59" lengthAdjust="spacingAndGlyphs" fill="#1a1a1a" stroke="#fff" stroke-width="0.22">ACC= 0.56</text>
<text x="646.00" y="353.30" font-size="20.29" textLength="93.29" lengthAdjust="spacingAndGlyphs" fill="#1a1a1a" stroke="#fff" stroke-width="0.22">ACC= 0.68</text>
<text x="865.00" y="353.30" font-size="20.29" textLength="93.29" lengthAdjust="spacingAndGlyphs" fill="#1a1a1a" stroke="#fff" stroke-width="0.22">ACC= 0.68</text>
<text x="587.00" y="45.70" font-size="20.42" textLength="31.17" lengthAdjust="spacingAndGlyphs" fill="#1a1a1a" stroke="#fff" stroke-width="0.22">130</text>
<text x="587.00" y="114.50" font-size="20.00" textLength="31.19" lengthAdjust="spacingAndGlyphs" fill="#1a1a1a" stroke="#fff" stroke-width="0.22">110</text>
<text x="595.50" y="182.00" font-size="19.72" textLength="22.75" lengthAdjust="spacingAndGlyphs" fill="#1a1a1a" stroke="#fff" stroke-width="0.22">90</text>
<text x="595.50" y="249.60" font-size="19.15" textLength="22.75" lengthAdjust="spacingAndGlyphs" fill="#1a1a1a" stroke="#fff" stroke-width="0.22">70</text>
<text x="585.00" y="319.40" font-size="20.28" textLength="31.77" lengthAdjust="spacingAndGlyphs" fill="#1a1a1a" stroke="#fff" stroke-width="0.22">130</text>
<text x="585.00" y="387.40" font-size="19.72" textLength="31.79" lengthAdjust="spacingAndGlyphs" fill="#1a1a1a" stroke="#fff" stroke-width="0.22">110</text>
<text x="597.00" y="455.20" font-size="18.73" textLength="19.84" lengthAdjust="spacingAndGlyphs" fill="#1a1a1a" stroke="#fff" stroke-width="0.22">90</text>
<text x="597.00" y="523.00" font-size="20.28" textLength="19.84" lengthAdjust="spacingAndGlyphs" fill="#1a1a1a" stroke="#fff" stroke-width="0.22">70</text>
<text transform="translate(576.30,163.90) rotate(-90)" x="0" y="0" font-size="20.72" textLength="52.79" lengthAdjust="spacingAndGlyphs" fill="#1a1a1a" stroke="#fff" stroke-width="0.22">Hip (°)</text>
<text transform="translate(575.80,436.90) rotate(-90)" x="0" y="0" font-size="20.14" textLength="53.19" lengthAdjust="spacingAndGlyphs" fill="#1a1a1a" stroke="#fff" stroke-width="0.22">Hip (°)</text>
<text x="609.00" y="266.80" font-size="18.59" textLength="22.05" lengthAdjust="spacingAndGlyphs" fill="#1a1a1a" stroke="#fff" stroke-width="0.22">20</text>
<text x="792.00" y="266.80" font-size="18.59" textLength="30.97" lengthAdjust="spacingAndGlyphs" fill="#1a1a1a" stroke="#fff" stroke-width="0.22">120</text>
<text x="834.20" y="266.80" font-size="18.59" textLength="20.84" lengthAdjust="spacingAndGlyphs" fill="#1a1a1a" stroke="#fff" stroke-width="0.22">20</text>
<text x="1017.20" y="266.80" font-size="18.59" textLength="29.47" lengthAdjust="spacingAndGlyphs" fill="#1a1a1a" stroke="#fff" stroke-width="0.22">120</text>
<text x="692.60" y="281.10" font-size="18.12" textLength="68.49" lengthAdjust="spacingAndGlyphs" fill="#1a1a1a" stroke="#fff" stroke-width="0.22">Knee (°)</text>
<text x="921.90" y="282.10" font-size="20.58" textLength="68.99" lengthAdjust="spacingAndGlyphs" fill="#1a1a1a" stroke="#fff" stroke-width="0.22">Knee (°)</text>
<text x="614.90" y="535.90" font-size="16.20" textLength="9.12" lengthAdjust="spacingAndGlyphs" fill="#1a1a1a" stroke="#fff" stroke-width="0.22">0</text>
<text x="689.10" y="535.90" font-size="16.20" textLength="20.64" lengthAdjust="spacingAndGlyphs" fill="#1a1a1a" stroke="#fff" stroke-width="0.22">50</text>
<text x="763.40" y="535.90" font-size="16.20" textLength="31.97" lengthAdjust="spacingAndGlyphs" fill="#1a1a1a" stroke="#fff" stroke-width="0.22">100</text>
<text x="838.40" y="537.60" font-size="18.73" textLength="11.02" lengthAdjust="spacingAndGlyphs" fill="#1a1a1a" stroke="#fff" stroke-width="0.22">0</text>
<text x="911.80" y="537.60" font-size="18.73" textLength="23.45" lengthAdjust="spacingAndGlyphs" fill="#1a1a1a" stroke="#fff" stroke-width="0.22">50</text>
<text x="986.90" y="537.60" font-size="18.73" textLength="33.37" lengthAdjust="spacingAndGlyphs" fill="#1a1a1a" stroke="#fff" stroke-width="0.22">100</text>
<text x="697.10" y="559.90" font-size="20.00" textLength="73.21" lengthAdjust="spacingAndGlyphs" fill="#1a1a1a" stroke="#fff" stroke-width="0.22">Ankle (°)</text>
<text x="920.10" y="560.30" font-size="21.74" textLength="75.11" lengthAdjust="spacingAndGlyphs" fill="#1a1a1a" stroke="#fff" stroke-width="0.22">Ankle (°)</text>
<path d="M701.4,213.6C700.2,212.1 705.2,207.3 707.0,204.4C708.7,201.5 710.3,199.0 712.1,196.2C713.9,193.5 715.7,190.6 717.8,187.9C719.9,185.2 722.7,183.0 724.7,180.3C726.8,177.5 728.2,174.1 730.1,171.3C732.0,168.6 733.8,166.6 735.9,163.8C738.1,160.9 740.5,156.8 742.9,154.3C745.4,151.7 748.7,151.1 750.7,148.5C752.7,146.0 753.6,142.3 754.9,139.0C756.2,135.7 757.0,132.0 758.4,128.7C759.7,125.5 761.8,122.5 763.1,119.4C764.3,116.3 763.8,113.2 765.8,110.0C767.7,106.8 772.7,100.2 774.8,100.3C776.8,100.5 777.9,107.3 778.1,110.8C778.4,114.3 776.7,117.7 776.2,121.5C775.8,125.3 776.6,130.0 775.6,133.6C774.6,137.2 772.2,139.7 770.4,143.0C768.6,146.2 767.0,149.8 765.0,152.9C763.0,156.1 760.6,158.9 758.5,162.1C756.3,165.2 754.3,168.5 752.3,171.7C750.3,175.0 748.6,178.5 746.5,181.6C744.4,184.8 742.2,188.1 739.6,190.8C737.0,193.4 733.6,195.0 730.8,197.6C728.0,200.1 725.5,203.4 722.8,206.1C720.0,208.7 717.9,212.2 714.3,213.5C710.8,214.7 702.7,215.1 701.4,213.6Z" fill="none" stroke="#2d37a6" stroke-width="0.85"/>
<path d="M701.0,214.0C699.8,212.6 705.3,207.5 707.1,204.5C709.0,201.6 709.9,198.9 712.0,196.3C714.1,193.7 717.5,191.5 719.6,188.8C721.7,186.1 722.8,182.8 724.6,179.9C726.5,177.0 728.7,174.2 730.9,171.4C733.1,168.7 735.8,165.9 737.9,163.2C740.0,160.5 741.5,157.8 743.5,155.3C745.6,152.8 748.2,151.1 750.1,148.4C752.0,145.8 753.3,142.4 754.8,139.3C756.3,136.1 757.7,132.8 759.1,129.6C760.5,126.3 761.9,123.0 763.3,119.9C764.7,116.8 765.9,114.2 767.6,110.9C769.3,107.6 771.8,100.0 773.4,100.1C775.0,100.1 776.9,107.8 777.3,111.3C777.6,114.9 776.1,117.6 775.5,121.3C774.9,125.0 774.8,129.8 773.8,133.4C772.8,136.9 771.2,139.6 769.4,142.8C767.7,146.0 765.3,149.4 763.3,152.6C761.2,155.9 759.3,159.2 757.2,162.3C755.1,165.5 752.9,168.7 750.7,171.6C748.6,174.6 746.6,177.0 744.5,179.9C742.4,182.8 740.7,186.1 738.2,188.9C735.7,191.8 732.3,194.0 729.5,196.8C726.6,199.6 723.9,203.2 721.3,205.9C718.8,208.5 717.7,211.4 714.3,212.8C710.9,214.2 702.2,215.4 701.0,214.0Z" fill="none" stroke="#2d37a6" stroke-width="0.85"/>
<path d="M702.3,215.0C701.2,213.9 704.8,209.2 706.8,206.3C708.7,203.3 711.9,200.4 714.1,197.4C716.2,194.5 717.8,191.1 719.7,188.5C721.6,185.9 723.5,184.4 725.6,181.8C727.7,179.3 730.1,176.0 732.2,173.2C734.3,170.4 736.1,167.8 738.2,164.9C740.3,162.0 742.6,158.3 744.8,155.6C746.9,153.0 749.4,151.6 751.2,148.8C753.1,146.0 754.2,142.0 755.9,138.9C757.5,135.9 759.5,133.7 761.0,130.5C762.5,127.4 763.7,123.4 765.0,120.0C766.2,116.6 766.8,113.1 768.3,110.0C769.9,106.9 772.9,101.0 774.2,101.2C775.5,101.3 775.9,107.3 776.2,110.9C776.5,114.5 776.4,119.0 776.0,122.7C775.7,126.4 775.3,129.8 774.0,133.2C772.7,136.6 770.0,139.7 768.3,143.1C766.7,146.5 766.0,150.3 764.2,153.6C762.3,156.9 759.4,160.1 757.2,163.0C755.0,165.9 753.2,168.0 751.2,171.0C749.3,174.0 747.6,177.8 745.5,180.9C743.5,184.1 741.5,186.9 738.9,189.7C736.3,192.6 732.8,195.6 730.0,198.1C727.2,200.6 725.1,202.3 722.4,204.7C719.6,207.1 716.7,210.9 713.4,212.6C710.0,214.3 703.4,216.0 702.3,215.0Z" fill="none" stroke="#2d37a6" stroke-width="0.85"/>
<path d="M702.6,215.0C701.8,214.3 706.4,209.7 708.3,206.9C710.3,204.1 711.8,201.0 714.0,198.3C716.2,195.6 719.2,193.2 721.4,190.5C723.6,187.8 725.1,185.1 727.3,182.3C729.4,179.5 732.2,176.6 734.4,173.7C736.5,170.8 738.1,167.7 740.0,164.9C741.9,162.0 744.0,159.4 746.0,156.7C748.0,154.1 750.1,151.8 752.2,149.1C754.2,146.3 756.8,143.5 758.5,140.3C760.2,137.1 761.2,133.3 762.5,130.0C763.8,126.8 765.2,123.8 766.2,120.6C767.2,117.5 767.2,114.4 768.4,111.1C769.7,107.7 772.4,100.4 773.7,100.4C775.0,100.3 776.1,106.9 776.4,110.6C776.7,114.3 776.2,118.7 775.4,122.4C774.7,126.0 773.3,129.0 772.0,132.4C770.6,135.8 768.9,139.3 767.3,142.8C765.7,146.2 764.0,149.7 762.3,152.9C760.6,156.1 759.1,159.0 757.0,161.9C754.9,164.8 752.0,167.3 749.7,170.3C747.4,173.4 745.6,177.2 743.4,180.1C741.1,183.0 738.7,184.8 736.3,187.7C733.9,190.5 731.6,194.3 729.1,197.1C726.7,199.9 724.2,201.9 721.5,204.3C718.8,206.7 716.2,209.7 713.1,211.5C709.9,213.3 703.4,215.8 702.6,215.0Z" fill="none" stroke="#2d37a6" stroke-width="0.85"/>
<path d="M701.9,215.1C701.0,214.4 706.8,210.0 709.0,207.4C711.3,204.8 713.3,202.3 715.4,199.5C717.4,196.6 719.2,193.0 721.4,190.1C723.5,187.2 726.2,184.9 728.4,182.2C730.6,179.6 732.3,176.9 734.5,174.2C736.6,171.4 739.2,168.5 741.2,165.7C743.3,163.0 744.5,160.4 746.8,157.7C749.0,154.9 752.8,152.3 754.7,149.2C756.6,146.1 756.6,142.5 758.2,139.3C759.7,136.0 762.4,132.8 763.9,129.7C765.4,126.7 766.3,123.9 767.2,120.8C768.1,117.6 768.0,114.3 769.1,111.0C770.1,107.7 772.3,101.0 773.5,101.1C774.8,101.1 776.1,107.8 776.5,111.2C776.9,114.7 776.5,118.3 775.9,121.8C775.3,125.4 774.1,129.0 772.9,132.4C771.7,135.8 770.4,138.8 768.7,142.2C766.9,145.5 764.3,149.3 762.3,152.5C760.4,155.7 759.0,158.4 757.1,161.5C755.3,164.5 753.3,167.5 751.3,170.8C749.3,174.1 747.2,178.0 744.9,181.1C742.7,184.1 740.1,186.6 737.6,189.2C735.1,191.8 732.5,194.4 729.8,196.9C727.1,199.3 723.8,201.6 721.1,204.1C718.5,206.6 717.2,210.1 714.0,211.9C710.8,213.8 702.7,215.9 701.9,215.1Z" fill="none" stroke="#2d37a6" stroke-width="0.85"/>
<path d="M703.4,214.9C703.0,214.4 707.8,210.5 709.8,207.9C711.8,205.3 713.1,202.0 715.3,199.4C717.4,196.8 720.5,194.7 722.9,192.1C725.2,189.4 727.0,186.2 729.3,183.5C731.6,180.7 734.4,178.4 736.7,175.5C738.9,172.7 740.9,169.4 742.9,166.3C744.9,163.3 746.4,159.9 748.5,157.2C750.6,154.6 753.4,152.9 755.4,150.2C757.3,147.4 758.8,143.8 760.2,140.7C761.6,137.5 762.6,134.6 764.0,131.4C765.5,128.2 767.7,124.9 768.7,121.5C769.7,118.2 769.5,114.5 770.3,111.0C771.0,107.6 772.3,101.1 773.0,101.1C773.7,101.1 774.3,107.5 774.5,110.8C774.8,114.1 775.0,117.3 774.6,120.9C774.2,124.5 773.3,128.6 772.0,132.2C770.7,135.8 768.8,139.1 767.0,142.5C765.2,145.8 763.4,149.3 761.3,152.3C759.2,155.3 756.7,157.4 754.6,160.5C752.5,163.5 750.7,167.6 748.7,170.6C746.8,173.7 745.1,175.9 743.0,178.6C740.9,181.3 738.6,184.3 736.1,187.0C733.6,189.7 730.6,192.1 728.0,194.9C725.4,197.8 723.2,201.3 720.5,204.0C717.8,206.7 714.7,209.3 711.8,211.2C709.0,213.0 703.7,215.5 703.4,214.9Z" fill="none" stroke="#2d37a6" stroke-width="0.85"/>
<path d="M702.1,214.1C701.4,213.3 705.8,208.3 707.6,205.4C709.4,202.5 710.8,199.5 712.9,196.9C715.0,194.2 718.0,192.1 720.1,189.5C722.2,186.9 723.3,184.2 725.5,181.4C727.6,178.6 730.9,175.6 733.0,172.7C735.1,169.7 736.4,166.5 738.3,163.7C740.2,160.9 742.1,158.5 744.3,155.8C746.5,153.1 749.4,150.3 751.5,147.6C753.6,144.8 755.5,142.1 756.9,139.3C758.4,136.4 759.1,133.5 760.4,130.3C761.6,127.2 763.3,123.7 764.5,120.3C765.7,116.9 766.3,113.1 767.7,109.8C769.1,106.4 771.7,100.2 772.7,100.3C773.7,100.5 773.6,107.2 773.5,110.8C773.4,114.3 772.8,118.2 772.2,121.8C771.6,125.4 770.9,128.9 769.8,132.2C768.7,135.5 767.3,138.4 765.6,141.6C763.9,144.7 761.6,148.1 759.7,151.1C757.8,154.1 756.2,156.7 754.4,159.7C752.5,162.6 750.7,165.8 748.5,168.9C746.2,172.1 743.2,175.6 740.9,178.6C738.6,181.5 736.7,183.8 734.5,186.6C732.3,189.5 730.2,192.9 727.6,195.6C725.0,198.3 721.7,200.3 719.0,202.8C716.3,205.3 714.3,208.7 711.5,210.6C708.7,212.4 702.7,215.0 702.1,214.1Z" fill="none" stroke="#2d37a6" stroke-width="0.85"/>
<path d="M702.9,215.8C702.5,215.5 707.0,210.6 709.3,207.8C711.5,205.1 714.2,202.0 716.4,199.4C718.7,196.8 720.5,194.7 722.8,192.1C725.2,189.5 728.0,186.7 730.5,183.9C732.9,181.2 735.2,178.6 737.4,175.7C739.6,172.8 741.6,169.3 743.6,166.4C745.6,163.6 747.3,161.4 749.5,158.6C751.6,155.8 754.6,152.5 756.4,149.6C758.2,146.7 759.0,144.2 760.4,141.2C761.8,138.2 763.4,135.2 764.8,131.7C766.3,128.2 768.3,123.7 769.2,120.3C770.2,116.8 769.6,114.1 770.3,111.0C771.1,107.9 773.0,101.8 773.5,101.6C773.9,101.5 773.3,107.1 773.1,110.2C772.8,113.4 772.9,117.2 772.2,120.8C771.6,124.4 770.7,128.5 769.4,131.8C768.0,135.2 765.6,137.8 763.9,140.9C762.2,144.0 760.7,147.3 759.0,150.6C757.2,153.8 755.1,157.2 753.1,160.3C751.1,163.5 749.0,166.6 747.0,169.5C745.1,172.3 743.5,174.4 741.4,177.3C739.2,180.2 736.7,184.3 734.1,187.1C731.5,189.8 728.2,191.3 725.7,193.9C723.1,196.5 721.2,200.1 718.9,202.7C716.6,205.3 714.6,207.4 712.0,209.6C709.3,211.7 703.4,216.1 702.9,215.8Z" fill="none" stroke="#2d37a6" stroke-width="0.85"/>
<path d="M703.0,214.2C702.0,213.4 705.5,209.7 707.4,207.1C709.3,204.6 712.2,201.5 714.5,198.7C716.7,195.8 718.6,192.9 720.8,190.1C723.0,187.3 725.5,184.8 727.8,182.0C730.0,179.1 732.2,175.7 734.3,173.0C736.5,170.4 738.6,168.6 740.5,165.8C742.4,163.1 743.6,159.5 745.7,156.7C747.9,153.8 751.6,151.7 753.6,148.8C755.6,145.9 756.1,142.5 757.6,139.2C759.1,136.0 761.0,132.6 762.5,129.5C764.1,126.5 765.7,124.1 766.8,121.0C767.9,118.0 768.0,114.5 769.1,111.1C770.3,107.7 772.7,100.4 773.7,100.4C774.6,100.5 774.7,107.9 774.8,111.5C774.9,115.1 775.1,118.4 774.4,121.8C773.8,125.2 772.2,128.7 770.9,132.1C769.6,135.5 768.0,139.0 766.6,142.2C765.1,145.4 763.8,148.2 762.0,151.4C760.2,154.5 758.0,157.8 756.0,161.1C753.9,164.3 751.8,167.7 749.7,170.8C747.6,174.0 745.8,177.1 743.6,180.0C741.4,182.8 738.9,185.1 736.5,187.8C734.0,190.5 731.4,193.6 728.7,196.4C726.0,199.2 722.8,201.9 720.3,204.5C717.7,207.1 716.3,210.3 713.5,212.0C710.6,213.6 704.0,215.0 703.0,214.2Z" fill="none" stroke="#2d37a6" stroke-width="0.85"/>
<path d="M932.8,215.1C931.7,213.8 936.8,210.0 938.9,207.6C941.1,205.1 943.6,202.8 945.7,200.3C947.7,197.9 949.2,195.7 951.1,192.9C953.0,190.1 955.2,186.4 957.0,183.7C958.8,181.0 960.2,179.4 961.8,176.8C963.4,174.2 965.0,171.0 966.6,168.2C968.3,165.4 970.0,162.7 971.9,160.0C973.7,157.2 976.0,154.3 977.9,151.8C979.7,149.3 981.2,147.6 982.8,144.9C984.4,142.2 986.0,138.7 987.5,135.6C989.0,132.6 990.3,129.6 991.6,126.6C992.8,123.7 993.9,120.5 995.0,117.7C996.2,114.9 997.8,109.3 998.5,109.6C999.2,110.0 999.1,116.4 999.3,119.6C999.4,122.8 999.5,125.6 999.2,128.9C998.9,132.1 998.0,135.4 997.3,139.0C996.5,142.5 995.7,146.7 994.7,150.1C993.7,153.5 992.8,156.5 991.4,159.5C990.1,162.5 988.1,165.3 986.4,168.3C984.7,171.4 983.1,174.8 981.3,177.7C979.6,180.7 978.1,183.3 976.0,185.9C973.9,188.5 971.3,190.7 968.9,193.3C966.5,196.0 964.0,199.3 961.4,201.8C958.8,204.3 956.0,206.0 953.3,208.3C950.6,210.5 948.4,214.3 945.0,215.4C941.6,216.6 933.8,216.4 932.8,215.1Z" fill="none" stroke="#2d37a6" stroke-width="0.85"/>
<path d="M933.1,214.5C932.2,213.6 938.1,211.0 940.0,208.8C941.9,206.6 942.7,203.8 944.6,201.2C946.5,198.5 949.1,195.7 951.3,192.9C953.4,190.1 955.8,187.1 957.6,184.5C959.4,182.0 960.6,180.2 962.3,177.6C964.1,175.0 966.1,171.5 968.1,168.8C970.1,166.1 972.3,164.1 974.1,161.4C975.8,158.6 977.2,155.0 978.9,152.2C980.5,149.4 982.5,147.3 984.0,144.5C985.4,141.6 986.2,138.2 987.5,135.1C988.7,132.0 990.1,129.0 991.3,126.1C992.5,123.2 993.2,120.7 994.4,117.8C995.6,115.0 997.6,108.8 998.3,108.9C999.0,109.0 998.4,114.9 998.6,118.4C998.9,121.9 1000.0,126.3 999.6,130.0C999.2,133.6 997.3,137.1 996.4,140.2C995.6,143.4 995.6,145.7 994.5,148.9C993.5,152.0 991.8,155.9 990.4,159.1C988.9,162.3 987.6,165.3 985.9,168.2C984.1,171.1 981.8,173.6 980.0,176.5C978.1,179.4 976.9,182.6 974.7,185.5C972.6,188.4 969.4,191.4 967.2,193.9C965.0,196.5 963.7,198.3 961.5,200.7C959.3,203.1 956.6,206.2 954.0,208.4C951.3,210.7 949.1,213.3 945.6,214.3C942.2,215.3 934.0,215.4 933.1,214.5Z" fill="none" stroke="#2d37a6" stroke-width="0.85"/>
<path d="M933.2,214.9C932.3,213.9 937.8,210.2 939.8,207.9C941.8,205.7 943.2,203.8 945.3,201.4C947.4,199.1 950.2,196.5 952.3,193.8C954.3,191.2 955.8,188.4 957.6,185.6C959.3,182.9 960.9,179.9 962.8,177.3C964.8,174.8 967.4,172.8 969.2,170.1C971.0,167.3 971.8,163.6 973.7,160.9C975.5,158.1 978.3,156.3 980.2,153.5C982.1,150.8 983.7,147.5 985.1,144.5C986.5,141.5 987.3,138.7 988.6,135.7C989.8,132.8 991.3,129.6 992.4,126.7C993.5,123.8 994.1,121.4 995.2,118.5C996.3,115.5 998.3,109.1 999.0,109.1C999.7,109.1 999.3,115.1 999.3,118.5C999.3,122.0 999.4,126.4 998.9,129.8C998.5,133.2 997.4,135.7 996.7,139.0C996.0,142.3 995.9,146.5 994.8,149.8C993.7,153.1 991.4,155.6 989.9,158.8C988.3,161.9 986.9,165.6 985.5,168.5C984.0,171.5 982.8,173.7 981.0,176.4C979.2,179.2 977.0,182.4 974.9,185.2C972.8,188.1 970.6,191.0 968.2,193.5C965.8,196.1 963.3,198.2 960.7,200.7C958.1,203.2 955.3,206.2 952.7,208.5C950.2,210.7 948.5,213.1 945.3,214.2C942.0,215.3 934.1,216.0 933.2,214.9Z" fill="none" stroke="#2d37a6" stroke-width="0.85"/>
<path d="M934.0,216.6C933.2,215.8 938.7,211.6 940.9,209.0C943.1,206.5 945.2,203.9 947.1,201.4C949.1,199.0 950.7,196.6 952.7,194.2C954.8,191.8 957.6,189.7 959.4,187.0C961.3,184.3 962.2,180.9 963.9,178.1C965.6,175.3 967.8,172.7 969.7,170.0C971.6,167.3 973.5,164.6 975.2,161.9C977.0,159.2 978.4,156.7 980.2,154.0C982.0,151.2 984.4,148.3 986.0,145.4C987.7,142.5 989.0,139.5 990.0,136.5C991.0,133.6 991.1,130.7 992.1,127.6C993.0,124.4 994.8,120.6 995.9,117.5C997.1,114.4 998.1,108.8 998.7,109.1C999.3,109.4 999.8,115.9 999.7,119.2C999.6,122.5 998.7,125.5 998.1,128.9C997.5,132.3 997.0,136.2 996.1,139.6C995.2,143.0 993.9,146.3 992.8,149.4C991.7,152.4 990.9,154.9 989.5,158.0C988.0,161.0 985.8,164.8 983.9,167.8C982.1,170.9 980.2,173.5 978.5,176.4C976.8,179.3 975.7,182.6 973.6,185.2C971.6,187.8 968.4,189.3 966.2,191.9C964.0,194.5 962.5,198.5 960.3,200.9C958.1,203.3 955.5,204.2 953.0,206.4C950.5,208.6 948.6,212.2 945.4,213.9C942.3,215.6 934.7,217.4 934.0,216.6Z" fill="none" stroke="#2d37a6" stroke-width="0.85"/>
<path d="M934.0,216.6C933.3,215.9 939.1,211.8 941.4,209.5C943.7,207.2 945.7,205.0 947.8,202.6C950.0,200.3 952.4,198.0 954.4,195.5C956.5,193.0 958.2,190.4 960.2,187.7C962.1,185.0 964.3,182.0 966.1,179.3C967.9,176.5 969.2,174.0 971.0,171.2C972.8,168.5 975.2,165.5 976.9,162.6C978.7,159.7 979.9,156.5 981.5,153.8C983.2,151.1 985.4,149.5 986.8,146.6C988.2,143.6 989.0,139.4 990.0,136.2C991.0,133.0 991.9,130.2 992.8,127.3C993.7,124.3 994.3,121.8 995.4,118.7C996.5,115.6 998.8,108.6 999.4,108.7C999.9,108.9 998.9,116.3 998.9,119.7C998.8,123.1 999.7,126.0 999.2,129.3C998.8,132.6 997.3,136.0 996.3,139.4C995.3,142.8 994.5,146.5 993.3,149.6C992.2,152.8 990.7,155.4 989.4,158.4C988.0,161.3 987.0,164.3 985.4,167.4C983.7,170.5 981.4,174.1 979.4,177.0C977.4,179.9 975.5,182.0 973.4,184.6C971.3,187.2 968.8,189.6 966.7,192.5C964.7,195.3 963.4,199.0 960.9,201.5C958.5,204.0 954.8,205.4 952.2,207.4C949.7,209.4 948.5,212.0 945.5,213.5C942.4,215.1 934.6,217.2 934.0,216.6Z" fill="none" stroke="#2d37a6" stroke-width="0.85"/>
<path d="M934.0,217.3C933.6,216.7 939.0,212.0 941.3,209.7C943.5,207.5 945.0,206.1 947.3,203.7C949.6,201.3 953.0,198.2 955.2,195.6C957.4,192.9 958.8,190.3 960.6,187.8C962.5,185.3 964.1,183.3 966.0,180.5C968.0,177.8 970.5,174.1 972.3,171.2C974.1,168.3 975.0,165.9 976.7,163.3C978.4,160.7 980.6,158.2 982.4,155.4C984.3,152.6 986.3,149.5 987.7,146.4C989.0,143.2 989.4,139.7 990.4,136.5C991.4,133.3 992.5,130.3 993.6,127.2C994.7,124.2 996.0,121.1 996.8,118.1C997.5,115.2 997.8,109.4 998.2,109.5C998.5,109.7 998.6,115.7 998.6,118.9C998.6,122.0 998.6,125.2 998.1,128.4C997.7,131.7 996.9,134.8 996.0,138.2C995.1,141.5 994.0,145.2 992.8,148.4C991.6,151.6 990.2,154.4 988.8,157.5C987.4,160.6 986.0,164.0 984.2,167.0C982.4,170.0 980.0,172.8 978.0,175.5C976.1,178.2 974.7,180.5 972.6,183.2C970.4,185.9 967.3,188.7 965.2,191.5C963.2,194.3 962.3,197.6 960.0,200.2C957.6,202.8 953.7,204.7 951.0,207.0C948.3,209.2 946.5,211.9 943.6,213.6C940.8,215.3 934.4,217.9 934.0,217.3Z" fill="none" stroke="#2d37a6" stroke-width="0.85"/>
<path d="M932.6,215.1C931.8,214.3 936.7,210.4 938.9,208.1C941.1,205.8 943.6,203.7 945.7,201.3C947.8,198.9 949.8,196.4 951.7,193.7C953.6,191.0 955.0,187.8 956.8,185.2C958.7,182.6 960.9,180.7 962.9,178.1C964.9,175.5 967.3,172.4 969.0,169.6C970.7,166.7 971.4,163.9 973.2,161.1C975.0,158.3 977.8,155.5 979.7,152.7C981.6,150.0 983.1,147.4 984.5,144.7C985.8,142.1 986.4,139.9 987.7,136.8C988.9,133.7 991.0,129.6 992.2,126.4C993.4,123.1 993.9,120.3 995.0,117.3C996.0,114.3 998.1,108.2 998.6,108.3C999.0,108.4 998.0,114.8 997.6,118.1C997.2,121.4 996.7,124.8 996.3,128.2C995.9,131.7 996.0,135.4 995.1,138.7C994.2,142.0 992.2,144.8 991.0,148.0C989.7,151.1 989.1,154.7 987.5,157.7C986.0,160.6 983.5,162.8 981.8,165.6C980.2,168.3 979.2,171.3 977.5,174.2C975.8,177.0 973.5,180.0 971.5,182.9C969.6,185.7 967.8,188.6 965.7,191.3C963.6,193.9 961.4,196.4 959.0,198.7C956.5,201.1 953.3,203.0 950.8,205.4C948.2,207.7 946.5,211.3 943.5,212.9C940.5,214.5 933.4,215.9 932.6,215.1Z" fill="none" stroke="#2d37a6" stroke-width="0.85"/>
<path d="M934.8,216.7C934.5,216.4 939.3,212.9 941.6,210.8C944.0,208.6 946.6,206.4 948.9,203.9C951.1,201.4 953.0,198.7 955.1,195.9C957.1,193.2 959.1,190.1 961.1,187.5C963.1,184.9 964.8,183.1 966.9,180.6C969.0,178.1 971.6,175.3 973.5,172.5C975.4,169.8 977.0,166.8 978.5,163.9C980.0,161.0 981.0,157.8 982.5,155.0C984.1,152.1 986.3,149.7 987.7,146.7C989.1,143.7 989.7,140.2 990.9,137.1C992.0,134.0 993.3,131.3 994.3,128.2C995.4,125.1 996.2,121.5 997.0,118.4C997.7,115.2 998.7,108.9 998.8,109.1C998.8,109.2 997.7,115.9 997.3,119.3C996.8,122.6 996.5,126.1 995.9,129.3C995.3,132.5 994.7,135.0 993.8,138.3C992.9,141.5 991.8,145.4 990.6,148.5C989.4,151.7 988.3,154.5 986.7,157.3C985.1,160.1 982.7,162.6 981.0,165.4C979.3,168.2 978.3,170.9 976.5,173.9C974.7,176.9 972.0,180.5 970.0,183.4C968.0,186.2 966.6,188.7 964.7,191.2C962.8,193.8 961.2,196.1 958.8,198.6C956.4,201.0 952.7,203.5 950.1,205.8C947.5,208.1 945.6,210.5 943.1,212.3C940.5,214.1 935.0,216.9 934.8,216.7Z" fill="none" stroke="#2d37a6" stroke-width="0.85"/>
<path d="M933.5,215.6C933.0,215.1 938.8,212.3 941.1,210.1C943.4,207.8 945.4,204.6 947.4,202.1C949.3,199.6 950.8,197.6 952.7,195.1C954.6,192.6 956.8,190.0 958.7,187.2C960.6,184.5 962.2,181.6 964.3,178.7C966.3,175.8 968.8,172.8 970.8,170.0C972.7,167.1 974.2,164.4 975.8,161.6C977.4,158.9 978.5,156.1 980.3,153.5C982.1,150.9 985.0,149.1 986.6,146.2C988.2,143.3 988.9,139.3 990.0,136.2C991.0,133.1 992.2,130.6 993.1,127.6C994.0,124.6 994.4,121.1 995.3,118.0C996.2,114.9 997.9,108.7 998.6,108.9C999.2,109.1 999.4,116.0 999.2,119.4C999.1,122.9 998.4,126.5 997.8,129.8C997.3,133.1 996.8,136.1 996.0,139.3C995.1,142.5 994.1,145.9 992.9,149.0C991.6,152.1 989.9,154.8 988.5,157.9C987.1,160.9 986.2,164.3 984.6,167.2C982.9,170.1 980.7,172.5 978.7,175.2C976.7,177.9 974.8,180.6 972.8,183.3C970.7,186.1 968.5,189.1 966.3,191.9C964.2,194.6 962.1,197.2 959.7,199.6C957.4,201.9 954.8,203.9 952.1,206.1C949.5,208.4 946.9,211.6 943.8,213.2C940.7,214.7 933.9,216.1 933.5,215.6Z" fill="none" stroke="#2d37a6" stroke-width="0.85"/>
<path d="M645.3,475.5C644.6,472.2 647.8,464.6 650.4,461.2C653.0,457.9 656.7,457.4 660.7,455.2C664.7,453.0 668.3,449.3 674.4,448.1C680.5,447.0 691.8,450.3 697.3,448.3C702.9,446.3 704.2,440.6 707.7,436.2C711.2,431.9 714.4,425.9 718.1,422.1C721.8,418.3 725.8,415.1 730.1,413.5C734.3,412.0 739.8,413.6 743.4,412.7C747.0,411.8 748.9,411.6 751.6,408.3C754.3,405.1 756.9,398.3 759.8,393.1C762.7,387.9 766.7,380.0 768.9,377.0C771.1,374.0 771.8,374.9 773.0,375.1C774.3,375.4 775.7,375.9 776.4,378.6C777.1,381.3 777.9,386.0 777.1,391.6C776.3,397.2 774.3,406.0 771.7,412.3C769.0,418.6 765.7,424.1 761.0,429.5C756.3,435.0 749.8,439.8 743.5,445.0C737.2,450.2 730.3,456.4 723.1,460.7C715.9,465.1 708.3,468.2 700.2,471.0C692.0,473.8 681.9,476.1 674.2,477.7C666.6,479.3 659.1,481.0 654.3,480.6C649.5,480.2 645.9,478.7 645.3,475.5Z" fill="none" stroke="#2d37a6" stroke-width="0.9"/>
<path d="M644.6,474.6C644.0,471.2 647.1,463.3 650.0,460.2C652.8,457.0 657.6,457.6 661.7,455.6C665.8,453.6 668.4,449.7 674.4,448.2C680.3,446.8 692.0,448.7 697.3,446.8C702.6,444.9 703.0,441.2 706.3,437.1C709.7,433.0 713.3,425.9 717.4,422.3C721.5,418.6 726.6,416.8 731.0,415.1C735.4,413.4 740.4,413.0 743.7,412.1C747.1,411.1 748.2,412.8 751.1,409.5C754.0,406.1 758.1,397.6 761.2,392.1C764.3,386.7 767.7,379.9 769.7,377.0C771.7,374.0 771.8,373.9 773.2,374.4C774.5,375.0 777.1,377.4 777.6,380.2C778.1,383.1 777.1,386.0 776.0,391.5C774.8,396.9 773.4,406.7 770.7,412.8C768.1,418.9 764.4,423.0 760.0,428.3C755.6,433.5 750.4,438.8 744.3,444.3C738.3,449.8 731.2,457.0 724.0,461.2C716.8,465.5 709.2,466.9 701.1,469.9C692.9,472.8 683.0,477.0 675.1,478.7C667.2,480.4 658.8,480.8 653.7,480.1C648.6,479.4 645.2,477.9 644.6,474.6Z" fill="none" stroke="#2d37a6" stroke-width="0.9"/>
<path d="M645.8,474.0C647.0,471.0 651.6,466.3 655.8,463.5C660.0,460.8 665.1,459.0 670.8,457.5C676.6,456.0 684.5,457.0 690.3,454.6C696.1,452.2 701.3,447.6 705.6,443.2C710.0,438.8 712.8,432.4 716.5,428.4C720.2,424.5 723.1,421.2 728.0,419.5C732.9,417.8 741.3,419.7 746.0,418.1C750.6,416.6 752.1,414.7 755.7,410.3C759.3,405.9 763.6,396.7 767.6,391.6C771.7,386.6 777.1,382.0 780.1,379.9C783.0,377.8 784.0,378.2 785.4,378.9C786.7,379.6 787.8,380.2 788.0,384.0C788.3,387.8 788.5,395.8 786.8,401.8C785.1,407.9 781.7,414.4 778.0,420.3C774.3,426.3 770.6,432.1 764.8,437.6C759.1,443.1 751.5,448.5 743.6,453.5C735.7,458.5 726.1,463.7 717.5,467.7C709.0,471.6 701.0,474.3 692.4,477.2C683.8,480.0 673.2,484.1 665.9,484.8C658.6,485.5 651.9,483.3 648.5,481.5C645.2,479.7 644.6,477.0 645.8,474.0Z" fill="none" stroke="#2d37a6" stroke-width="0.9"/>
<path d="M646.1,473.4C647.4,470.4 651.6,466.7 655.7,464.2C659.8,461.6 664.9,459.8 670.8,458.1C676.7,456.5 685.0,456.7 690.9,454.3C696.7,452.0 701.5,448.2 705.8,443.9C710.0,439.6 712.6,432.5 716.6,428.4C720.5,424.2 724.4,420.8 729.3,418.9C734.3,417.0 741.7,418.7 746.2,417.2C750.7,415.6 752.6,413.8 756.2,409.5C759.8,405.3 763.8,396.6 767.9,391.8C772.0,387.0 778.0,382.7 780.8,380.6C783.6,378.5 783.6,378.7 784.7,379.4C785.8,380.0 786.9,380.9 787.3,384.4C787.6,387.9 788.5,394.3 787.1,400.4C785.6,406.5 782.4,414.7 778.6,421.1C774.9,427.5 770.7,433.5 764.7,438.7C758.8,444.0 751.0,447.8 743.0,452.6C735.0,457.3 725.2,463.1 716.7,467.3C708.1,471.4 700.3,474.5 691.7,477.5C683.2,480.5 672.7,484.5 665.4,485.3C658.0,486.0 650.8,484.1 647.6,482.1C644.4,480.1 644.7,476.4 646.1,473.4Z" fill="none" stroke="#2d37a6" stroke-width="0.9"/>
<path d="M647.0,473.4C649.1,470.9 654.2,468.6 659.3,467.0C664.4,465.4 671.5,464.6 677.7,463.6C683.9,462.6 690.8,462.3 696.6,461.0C702.5,459.8 708.7,459.3 712.8,456.0C716.9,452.8 718.6,445.5 721.1,441.4C723.6,437.3 724.7,433.9 727.8,431.3C731.0,428.6 735.7,427.3 740.0,425.5C744.4,423.7 749.1,424.4 753.8,420.7C758.6,417.1 763.8,409.9 768.4,403.5C773.0,397.1 778.3,386.2 781.4,382.4C784.5,378.6 785.5,379.4 786.9,380.5C788.4,381.6 790.0,384.2 790.1,389.0C790.3,393.7 789.8,402.6 787.9,408.7C786.0,414.8 783.4,419.6 778.9,425.4C774.4,431.2 768.1,437.5 761.1,443.3C754.0,449.1 745.0,455.0 736.4,460.1C727.8,465.2 718.5,470.1 709.6,473.8C700.7,477.6 691.3,480.5 683.1,482.6C675.0,484.8 666.8,486.9 660.7,486.7C654.6,486.6 648.7,483.8 646.5,481.6C644.2,479.4 644.8,475.8 647.0,473.4Z" fill="none" stroke="#2d37a6" stroke-width="0.9"/>
<path d="M647.6,473.9C649.5,471.6 653.3,468.5 658.4,466.7C663.5,464.9 671.8,463.9 678.2,463.2C684.6,462.4 691.3,463.5 697.0,462.2C702.7,461.0 708.1,459.1 712.3,455.6C716.6,452.2 720.0,445.7 722.5,441.6C724.9,437.4 724.1,433.5 727.1,430.7C730.2,427.9 736.3,426.3 740.7,424.7C745.2,423.1 749.1,424.6 753.8,421.0C758.5,417.5 764.1,409.9 768.9,403.5C773.7,397.0 779.8,386.0 782.8,382.4C785.8,378.8 785.7,380.3 786.8,381.6C787.9,382.9 789.3,385.7 789.4,390.1C789.4,394.5 789.2,402.1 787.2,408.1C785.3,414.0 782.1,420.2 777.6,425.9C773.2,431.6 767.2,436.6 760.3,442.3C753.4,448.1 744.8,455.0 736.2,460.3C727.6,465.6 717.4,470.2 708.7,474.1C700.1,477.9 692.3,481.2 684.4,483.3C676.6,485.3 667.9,487.0 661.6,486.5C655.3,485.9 649.0,482.2 646.6,480.1C644.3,478.0 645.6,476.1 647.6,473.9Z" fill="none" stroke="#2d37a6" stroke-width="0.9"/>
<path d="M645.4,475.8C646.5,473.1 652.3,471.4 657.1,470.2C661.9,469.1 667.9,469.5 674.3,468.8C680.6,468.0 688.2,467.4 695.3,466.0C702.3,464.5 711.7,462.8 716.3,460.1C720.9,457.4 721.1,453.9 722.9,449.6C724.7,445.3 724.6,437.9 726.9,434.3C729.3,430.6 732.8,429.3 737.2,427.7C741.5,426.1 748.0,427.3 752.9,424.4C757.7,421.5 761.6,415.8 766.1,410.1C770.6,404.3 776.1,394.2 779.7,389.8C783.3,385.4 786.1,382.9 787.7,383.6C789.4,384.4 790.1,388.9 789.7,394.2C789.3,399.4 788.3,408.7 785.2,415.1C782.1,421.5 776.8,426.3 771.0,432.3C765.3,438.3 758.9,445.1 750.8,451.2C742.8,457.3 732.1,464.0 722.9,468.9C713.6,473.8 704.6,477.6 695.4,480.7C686.2,483.9 675.4,486.8 667.9,487.8C660.4,488.7 654.4,488.5 650.6,486.5C646.9,484.5 644.3,478.5 645.4,475.8Z" fill="none" stroke="#2d37a6" stroke-width="0.9"/>
<path d="M644.3,475.2C645.5,472.6 651.8,472.3 656.8,471.2C661.8,470.2 667.8,469.8 674.4,468.7C681.0,467.7 689.4,466.3 696.2,464.9C703.1,463.4 711.3,462.6 715.6,460.0C720.0,457.3 720.7,453.1 722.4,448.9C724.0,444.7 722.9,438.1 725.4,434.7C727.8,431.3 732.3,429.9 737.0,428.2C741.7,426.5 748.7,427.2 753.6,424.4C758.5,421.6 762.4,416.9 766.7,411.2C771.0,405.4 775.9,394.3 779.5,389.9C783.1,385.4 786.5,383.8 788.3,384.4C790.2,385.1 791.0,389.0 790.5,394.0C790.1,399.0 788.9,408.0 785.6,414.4C782.4,420.8 777.3,426.2 771.3,432.4C765.3,438.6 757.8,445.3 749.7,451.4C741.6,457.5 731.8,464.2 722.6,469.0C713.5,473.8 704.0,477.1 694.8,480.3C685.6,483.5 675.0,486.9 667.4,488.0C659.9,489.0 653.4,488.8 649.6,486.7C645.7,484.6 643.1,477.8 644.3,475.2Z" fill="none" stroke="#2d37a6" stroke-width="0.9"/>
<path d="M644.9,475.5C647.2,473.6 654.3,473.9 660.6,473.2C666.9,472.6 675.3,472.4 682.9,471.7C690.5,471.0 699.8,470.2 705.9,469.0C712.1,467.9 715.5,468.0 719.8,465.1C724.1,462.1 728.8,456.1 731.6,451.6C734.4,447.0 733.9,440.9 736.4,437.8C739.0,434.6 742.7,434.7 746.8,432.7C750.9,430.7 756.5,430.7 761.2,425.7C765.9,420.8 770.5,409.7 774.8,403.0C779.0,396.4 784.2,388.9 786.6,385.8C789.0,382.7 788.7,381.9 789.2,384.3C789.7,386.6 790.4,393.9 789.4,400.0C788.4,406.0 786.8,413.8 783.3,420.5C779.7,427.2 774.7,434.0 768.1,440.0C761.5,446.1 752.3,451.5 743.7,457.0C735.1,462.4 725.8,468.1 716.6,472.7C707.4,477.3 697.6,481.7 688.6,484.7C679.5,487.7 669.4,490.5 662.4,490.5C655.4,490.6 649.6,487.4 646.7,484.9C643.8,482.4 642.6,477.5 644.9,475.5Z" fill="none" stroke="#2d37a6" stroke-width="0.9"/>
<path d="M646.1,475.6C648.6,473.7 655.7,472.9 661.7,472.2C667.8,471.5 675.1,472.2 682.4,471.6C689.6,471.0 698.9,469.8 705.3,468.7C711.7,467.5 716.5,467.6 720.7,464.7C725.0,461.8 728.2,455.6 731.0,451.0C733.7,446.5 734.8,440.3 737.3,437.2C739.8,434.2 742.1,434.8 746.1,432.8C750.0,430.8 756.0,430.0 760.9,425.1C765.7,420.3 770.5,410.1 774.9,403.6C779.3,397.1 784.8,389.3 787.2,386.3C789.5,383.2 788.3,382.8 788.9,385.0C789.5,387.2 791.7,393.3 790.8,399.4C789.8,405.5 787.1,414.7 783.2,421.5C779.4,428.3 774.1,434.1 767.6,440.1C761.1,446.1 752.7,451.8 744.3,457.3C735.9,462.9 726.7,468.6 717.2,473.2C707.8,477.8 696.8,481.9 687.6,484.9C678.5,487.8 669.3,490.9 662.5,490.8C655.6,490.6 649.3,486.6 646.6,484.1C643.9,481.5 643.6,477.6 646.1,475.6Z" fill="none" stroke="#2d37a6" stroke-width="0.9"/>
<path d="M645.4,476.8C648.7,475.0 658.0,476.2 665.7,475.7C673.4,475.2 683.0,475.0 691.7,473.9C700.4,472.7 710.7,470.9 717.9,468.6C725.0,466.3 729.0,463.6 734.7,459.9C740.4,456.3 746.9,451.3 752.1,446.7C757.3,442.2 761.5,437.8 765.9,432.6C770.3,427.4 775.2,421.6 778.7,415.3C782.1,409.1 785.0,399.7 786.7,395.0C788.5,390.3 788.9,385.6 789.2,387.2C789.5,388.9 789.7,399.2 788.5,405.0C787.4,410.8 786.1,415.9 782.2,422.2C778.2,428.5 771.7,436.5 764.8,442.8C757.8,449.1 749.9,454.3 740.6,460.2C731.3,466.0 718.5,473.4 709.0,477.9C699.5,482.5 692.2,485.2 683.6,487.5C675.0,489.7 663.6,491.6 657.4,491.4C651.1,491.2 648.3,488.9 646.3,486.4C644.3,484.0 642.2,478.6 645.4,476.8Z" fill="none" stroke="#2d37a6" stroke-width="0.9"/>
<path d="M646.0,477.5C649.2,475.8 657.3,476.3 665.1,475.6C672.8,475.0 683.6,474.8 692.3,473.5C701.0,472.2 709.9,469.9 717.1,467.8C724.3,465.8 729.3,465.1 735.4,461.4C741.4,457.7 748.4,450.4 753.6,445.6C758.8,440.8 762.6,437.6 766.7,432.5C770.9,427.4 775.2,421.2 778.7,415.1C782.3,409.0 786.6,400.3 788.1,395.8C789.6,391.3 787.7,386.8 787.7,388.2C787.7,389.5 788.9,398.1 787.9,403.9C786.8,409.7 785.0,416.5 781.4,422.8C777.7,429.2 772.7,436.1 765.8,442.1C758.8,448.2 749.3,453.3 739.9,459.2C730.5,465.1 718.8,473.0 709.3,477.6C699.8,482.2 691.5,484.3 682.9,486.7C674.4,489.2 664.3,492.4 658.0,492.3C651.8,492.2 647.5,488.5 645.5,486.0C643.5,483.6 642.7,479.2 646.0,477.5Z" fill="none" stroke="#2d37a6" stroke-width="0.9"/>
<path d="M868.8,477.9C868.6,475.4 870.3,472.2 872.6,469.8C874.9,467.3 878.7,465.6 882.7,463.0C886.7,460.4 892.1,456.5 896.6,453.9C901.2,451.4 905.2,448.7 909.8,447.8C914.5,447.0 921.2,449.7 924.4,448.9C927.7,448.0 927.3,445.4 929.2,442.7C931.1,439.9 933.6,435.9 935.9,432.2C938.3,428.4 940.8,423.6 943.1,420.2C945.5,416.8 946.7,414.1 950.1,411.7C953.5,409.3 959.8,408.7 963.5,405.8C967.2,402.9 969.5,398.3 972.3,394.4C975.2,390.4 978.6,384.2 980.7,382.1C982.8,379.9 983.9,380.6 985.0,381.4C986.0,382.3 986.8,383.9 986.7,387.4C986.7,390.8 986.1,397.0 984.6,402.0C983.0,407.0 980.8,412.1 977.3,417.5C973.9,422.8 969.5,428.6 963.8,434.3C958.1,440.0 951.2,446.1 943.4,451.6C935.5,457.1 925.3,462.7 916.7,467.3C908.0,472.0 898.5,476.6 891.3,479.5C884.1,482.4 877.4,485.3 873.6,485.0C869.9,484.7 868.9,480.5 868.8,477.9Z" fill="none" stroke="#2d37a6" stroke-width="0.9"/>
<path d="M869.5,478.8C869.3,476.6 869.7,473.4 872.0,470.7C874.2,467.9 879.2,465.0 883.0,462.2C886.9,459.3 890.8,456.0 895.2,453.5C899.6,451.0 904.5,447.8 909.3,447.2C914.0,446.6 920.4,450.4 923.7,449.7C926.9,449.0 926.9,446.0 928.7,443.1C930.6,440.1 932.4,435.9 934.9,432.0C937.5,428.0 941.6,422.6 944.1,419.4C946.7,416.2 946.6,414.8 950.0,412.6C953.4,410.5 960.8,409.3 964.5,406.4C968.2,403.5 969.3,399.2 972.2,395.3C975.1,391.4 979.6,385.6 981.9,383.1C984.1,380.7 984.7,379.9 985.7,380.7C986.8,381.4 988.4,384.1 988.2,387.4C988.1,390.8 986.7,396.2 985.1,400.9C983.5,405.7 982.1,410.5 978.6,415.9C975.1,421.4 970.0,427.8 964.0,433.7C958.0,439.6 950.5,445.7 942.8,451.4C935.0,457.1 926.1,463.3 917.5,468.0C908.8,472.7 898.1,477.0 890.8,479.7C883.5,482.4 877.0,484.2 873.5,484.0C869.9,483.9 869.8,481.1 869.5,478.8Z" fill="none" stroke="#2d37a6" stroke-width="0.9"/>
<path d="M869.1,477.5C870.1,475.2 872.6,473.2 876.9,470.6C881.2,467.9 889.0,463.8 894.8,461.8C900.7,459.8 907.0,459.5 912.1,458.7C917.3,457.8 922.6,459.5 925.9,456.6C929.3,453.6 929.7,445.8 932.3,441.0C934.8,436.1 937.7,430.5 941.2,427.4C944.6,424.3 948.6,423.7 952.9,422.3C957.3,420.8 963.0,421.2 967.2,418.6C971.3,416.1 974.3,411.1 977.7,407.2C981.1,403.2 985.5,397.2 987.7,395.0C990.0,392.8 990.3,393.1 991.3,394.0C992.3,394.9 993.7,397.2 993.7,400.3C993.7,403.3 993.6,407.6 991.4,412.4C989.3,417.2 985.4,423.8 980.8,429.1C976.3,434.5 971.2,438.9 964.0,444.5C956.8,450.0 946.2,457.0 937.6,462.3C929.0,467.5 921.0,471.8 912.4,475.7C903.7,479.7 892.5,484.7 885.6,486.2C878.7,487.6 873.6,485.7 870.9,484.2C868.1,482.8 868.1,479.7 869.1,477.5Z" fill="none" stroke="#2d37a6" stroke-width="0.9"/>
<path d="M869.0,477.4C870.2,475.0 873.3,472.4 877.6,470.0C882.0,467.6 889.0,464.9 894.9,463.0C900.7,461.2 907.6,459.9 912.8,458.9C917.9,457.9 922.6,459.8 925.8,457.0C928.9,454.2 929.1,447.1 931.7,442.1C934.4,437.2 938.1,430.7 941.8,427.4C945.5,424.0 949.6,423.6 953.8,422.1C958.0,420.6 963.0,420.7 967.0,418.2C971.0,415.6 974.4,411.0 977.9,406.9C981.4,402.8 985.7,395.7 988.1,393.5C990.4,391.3 990.8,392.5 991.8,393.6C992.8,394.7 994.2,397.1 994.3,400.0C994.4,402.9 994.7,406.0 992.5,411.1C990.3,416.1 985.7,424.8 981.0,430.4C976.3,435.9 971.5,438.8 964.4,444.3C957.3,449.8 947.2,457.8 938.4,463.3C929.6,468.7 920.6,472.8 911.7,476.8C902.8,480.8 891.9,486.3 885.1,487.5C878.2,488.7 873.0,485.6 870.4,483.9C867.7,482.2 867.8,479.7 869.0,477.4Z" fill="none" stroke="#2d37a6" stroke-width="0.9"/>
<path d="M869.9,476.1C872.5,473.2 880.5,472.8 886.4,471.1C892.3,469.3 899.2,467.1 905.3,465.5C911.3,464.0 917.6,463.0 922.8,461.6C928.0,460.2 932.9,461.0 936.5,457.1C940.1,453.2 942.0,442.8 944.5,438.2C947.1,433.5 948.4,431.4 951.6,429.2C954.9,427.1 960.7,425.4 964.2,425.4C967.6,425.5 969.5,430.7 972.2,429.3C975.0,428.0 977.1,421.2 980.7,417.1C984.2,413.1 990.6,407.2 993.5,405.0C996.4,402.7 996.9,402.6 998.2,403.6C999.4,404.5 1001.1,407.3 1000.8,410.4C1000.6,413.6 999.4,418.2 996.7,422.7C994.1,427.2 990.4,432.5 984.9,437.5C979.4,442.6 971.6,447.8 963.7,453.0C955.8,458.2 946.0,464.1 937.4,468.8C928.8,473.6 920.9,478.0 912.3,481.4C903.6,484.9 892.6,488.3 885.6,489.4C878.6,490.6 872.9,490.6 870.3,488.4C867.7,486.1 867.2,479.0 869.9,476.1Z" fill="none" stroke="#2d37a6" stroke-width="0.9"/>
<path d="M869.8,476.9C872.3,474.2 879.2,473.7 884.9,471.9C890.7,470.1 897.9,467.4 904.3,465.8C910.7,464.3 918.0,464.0 923.2,462.6C928.4,461.2 931.8,461.6 935.4,457.3C939.0,453.0 942.0,441.4 944.6,436.7C947.3,431.9 948.1,430.7 951.3,428.8C954.6,426.8 960.6,425.1 964.1,425.2C967.7,425.4 970.0,431.2 972.7,429.7C975.4,428.2 976.8,420.3 980.3,416.2C983.8,412.1 990.8,407.2 993.7,404.9C996.5,402.6 996.2,401.4 997.5,402.3C998.8,403.3 1001.7,407.2 1001.5,410.4C1001.3,413.6 999.0,416.9 996.3,421.6C993.7,426.2 991.1,433.1 985.8,438.3C980.4,443.6 972.4,448.0 964.4,453.1C956.3,458.2 946.3,464.1 937.4,468.8C928.5,473.5 919.7,477.8 911.1,481.4C902.4,485.0 892.6,489.4 885.8,490.5C879.0,491.6 872.8,490.2 870.2,487.9C867.5,485.6 867.3,479.6 869.8,476.9Z" fill="none" stroke="#2d37a6" stroke-width="0.9"/>
<path d="M868.7,479.8C871.9,477.5 880.4,475.9 887.5,474.4C894.7,472.9 904.2,472.2 911.6,470.8C919.1,469.4 927.0,467.6 932.4,465.9C937.9,464.2 941.6,464.8 944.6,460.7C947.5,456.6 948.0,446.0 950.1,441.3C952.3,436.6 953.8,434.0 957.3,432.6C960.8,431.1 967.0,434.0 971.0,432.8C974.9,431.6 977.1,429.4 981.1,425.3C985.0,421.2 991.8,411.7 994.9,408.2C997.9,404.8 998.2,403.9 999.2,404.6C1000.2,405.2 1001.0,408.6 1000.8,412.1C1000.5,415.6 1000.1,420.7 997.7,425.5C995.3,430.3 991.5,435.8 986.2,440.9C980.9,446.1 973.7,451.4 965.9,456.6C958.1,461.9 948.5,467.6 939.5,472.3C930.6,477.0 921.1,481.7 912.2,484.9C903.3,488.1 893.4,490.9 886.0,491.5C878.7,492.1 871.1,490.4 868.2,488.4C865.4,486.5 865.4,482.2 868.7,479.8Z" fill="none" stroke="#2d37a6" stroke-width="0.9"/>
<path d="M867.7,479.0C870.9,476.8 879.9,476.2 887.4,474.7C894.8,473.3 904.6,471.7 912.3,470.4C920.0,469.0 928.4,468.2 933.6,466.6C938.8,465.0 940.9,464.9 943.6,460.7C946.3,456.4 947.7,445.7 949.9,441.0C952.1,436.2 953.3,433.6 956.8,432.2C960.3,430.9 966.9,433.8 971.1,432.9C975.4,432.0 978.1,431.0 982.2,426.9C986.4,422.8 993.2,411.9 996.1,408.2C999.1,404.5 999.2,403.7 1000.1,404.5C1001.0,405.3 1002.1,409.6 1001.5,413.1C1000.9,416.6 999.1,420.9 996.5,425.7C993.9,430.4 991.3,436.3 986.1,441.7C980.8,447.1 972.7,453.0 964.9,458.1C957.0,463.1 947.9,467.8 938.9,472.1C929.9,476.5 919.8,481.3 911.0,484.3C902.3,487.4 893.7,489.8 886.5,490.5C879.3,491.2 871.0,490.3 867.9,488.4C864.7,486.5 864.4,481.3 867.7,479.0Z" fill="none" stroke="#2d37a6" stroke-width="0.9"/>
<path d="M868.8,479.6C873.1,478.5 885.7,479.1 894.4,478.0C903.0,476.8 912.7,475.1 920.8,472.7C928.8,470.4 935.6,467.5 942.7,463.8C949.8,460.0 956.8,455.2 963.3,450.3C969.8,445.5 976.4,440.6 981.6,434.8C986.7,428.9 991.5,420.2 994.5,415.2C997.4,410.3 998.6,404.7 999.3,405.0C1000.0,405.4 999.9,412.8 998.9,417.4C997.8,422.0 996.6,427.5 993.0,432.7C989.4,437.8 983.9,442.9 977.3,448.3C970.6,453.7 961.6,460.0 953.1,465.1C944.5,470.3 934.9,475.4 925.8,479.2C916.6,482.9 906.4,485.9 898.3,487.8C890.2,489.6 882.2,490.7 877.2,490.2C872.2,489.6 869.8,486.3 868.4,484.5C867.0,482.8 864.4,480.7 868.8,479.6Z" fill="none" stroke="#2d37a6" stroke-width="0.9"/>
<path d="M868.8,479.3C873.4,477.8 886.7,478.0 895.4,476.7C904.2,475.4 913.3,473.8 921.4,471.6C929.5,469.5 937.1,467.4 944.2,463.9C951.2,460.3 957.3,455.0 963.6,450.2C969.9,445.5 976.8,441.5 982.0,435.5C987.2,429.5 992.0,419.1 994.7,414.2C997.5,409.2 997.6,405.2 998.4,405.7C999.3,406.3 1000.8,413.1 999.8,417.6C998.8,422.1 996.3,427.8 992.4,432.7C988.5,437.7 983.1,441.6 976.5,447.3C969.9,453.0 961.4,461.2 952.9,466.7C944.5,472.1 935.4,476.7 926.1,480.2C916.8,483.7 905.3,486.2 897.0,487.8C888.7,489.5 881.2,490.4 876.3,490.0C871.4,489.7 869.0,487.4 867.7,485.6C866.5,483.8 864.2,480.8 868.8,479.3Z" fill="none" stroke="#2d37a6" stroke-width="0.9"/>
</svg></body></html>
